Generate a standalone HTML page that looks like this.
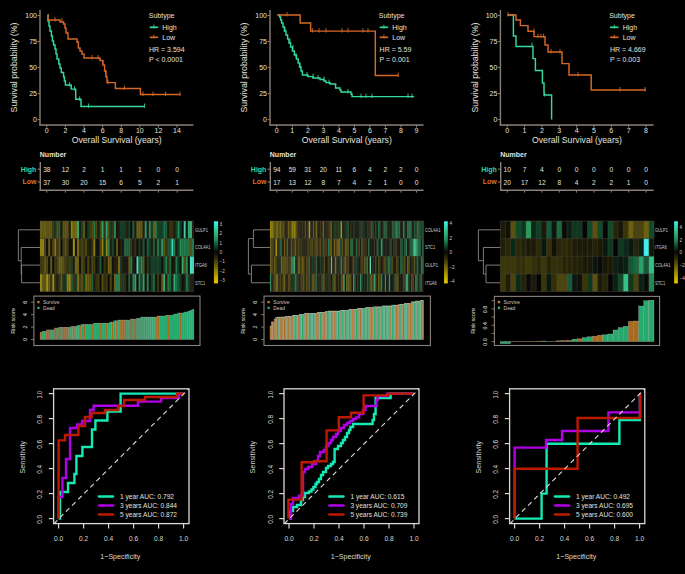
<!DOCTYPE html>
<html><head><meta charset="utf-8"><style>html,body{margin:0;padding:0;background:#000;width:685px;height:574px;overflow:hidden}svg{display:block}</style></head>
<body><svg width="685" height="574" viewBox="0 0 685 574" font-family='"Liberation Sans", sans-serif'><defs><linearGradient id="cb" x1="0" y1="0" x2="0" y2="1"><stop offset="0.000" stop-color="#40f0e8"/><stop offset="0.050" stop-color="#3be1cb"/><stop offset="0.100" stop-color="#37d2ae"/><stop offset="0.150" stop-color="#32c391"/><stop offset="0.200" stop-color="#2db17f"/><stop offset="0.250" stop-color="#289f6d"/><stop offset="0.300" stop-color="#218658"/><stop offset="0.350" stop-color="#186741"/><stop offset="0.400" stop-color="#0e482a"/><stop offset="0.450" stop-color="#0b2818"/><stop offset="0.500" stop-color="#080806"/><stop offset="0.550" stop-color="#1d1b07"/><stop offset="0.600" stop-color="#322d08"/><stop offset="0.650" stop-color="#4a4209"/><stop offset="0.700" stop-color="#62570a"/><stop offset="0.750" stop-color="#7a6c09"/><stop offset="0.800" stop-color="#928108"/><stop offset="0.850" stop-color="#aa9606"/><stop offset="0.900" stop-color="#c0a704"/><stop offset="0.950" stop-color="#d6b702"/><stop offset="1.000" stop-color="#ecc800"/></linearGradient></defs><rect width="685" height="574" fill="#000"/><line x1="40.0" y1="10" x2="40.0" y2="125.6" stroke="#8a807a" stroke-width="1.4"/><line x1="39.3" y1="125" x2="193.4" y2="125" stroke="#8a807a" stroke-width="1.4"/><line x1="37.6" y1="119.6" x2="40.0" y2="119.6" stroke="#8a807a" stroke-width="1.0"/><text x="37.0" y="122.1" font-size="7" fill="#e4e0dc" text-anchor="end">0</text><line x1="37.6" y1="93.57499999999999" x2="40.0" y2="93.57499999999999" stroke="#8a807a" stroke-width="1.0"/><text x="37.0" y="96.07499999999999" font-size="7" fill="#e4e0dc" text-anchor="end">25</text><line x1="37.6" y1="67.55" x2="40.0" y2="67.55" stroke="#8a807a" stroke-width="1.0"/><text x="37.0" y="70.05" font-size="7" fill="#e4e0dc" text-anchor="end">50</text><line x1="37.6" y1="41.525000000000006" x2="40.0" y2="41.525000000000006" stroke="#8a807a" stroke-width="1.0"/><text x="37.0" y="44.025000000000006" font-size="7" fill="#e4e0dc" text-anchor="end">75</text><line x1="37.6" y1="15.5" x2="40.0" y2="15.5" stroke="#8a807a" stroke-width="1.0"/><text x="37.0" y="18.0" font-size="7" fill="#e4e0dc" text-anchor="end">100</text><line x1="46.8" y1="125" x2="46.8" y2="127.6" stroke="#8a807a" stroke-width="1.0"/><text x="46.8" y="133.4" font-size="7" fill="#e4e0dc" text-anchor="middle">0</text><line x1="65.4" y1="125" x2="65.4" y2="127.6" stroke="#8a807a" stroke-width="1.0"/><text x="65.4" y="133.4" font-size="7" fill="#e4e0dc" text-anchor="middle">2</text><line x1="84.0" y1="125" x2="84.0" y2="127.6" stroke="#8a807a" stroke-width="1.0"/><text x="84.0" y="133.4" font-size="7" fill="#e4e0dc" text-anchor="middle">4</text><line x1="102.6" y1="125" x2="102.6" y2="127.6" stroke="#8a807a" stroke-width="1.0"/><text x="102.6" y="133.4" font-size="7" fill="#e4e0dc" text-anchor="middle">6</text><line x1="121.2" y1="125" x2="121.2" y2="127.6" stroke="#8a807a" stroke-width="1.0"/><text x="121.2" y="133.4" font-size="7" fill="#e4e0dc" text-anchor="middle">8</text><line x1="139.8" y1="125" x2="139.8" y2="127.6" stroke="#8a807a" stroke-width="1.0"/><text x="139.8" y="133.4" font-size="7" fill="#e4e0dc" text-anchor="middle">10</text><line x1="158.4" y1="125" x2="158.4" y2="127.6" stroke="#8a807a" stroke-width="1.0"/><text x="158.4" y="133.4" font-size="7" fill="#e4e0dc" text-anchor="middle">12</text><line x1="177.0" y1="125" x2="177.0" y2="127.6" stroke="#8a807a" stroke-width="1.0"/><text x="177.0" y="133.4" font-size="7" fill="#e4e0dc" text-anchor="middle">14</text><text x="116.7" y="142.6" font-size="8.7" fill="#e4e0dc" text-anchor="middle" textLength="90" lengthAdjust="spacingAndGlyphs">Overall Survival (years)</text><text x="17.4" y="67.5" font-size="8.7" fill="#e4e0dc" text-anchor="middle" transform="rotate(-90 17.4 67.5)" textLength="90" lengthAdjust="spacingAndGlyphs">Survival probability (%)</text><text x="148.8" y="17.9" font-size="7" fill="#e4e0dc" text-anchor="start">Subtype</text><line x1="149.7" y1="27.3" x2="158.1" y2="27.3" stroke="#34da9a" stroke-width="1.7"/><line x1="153.9" y1="24.7" x2="153.9" y2="28.5" stroke="#34da9a" stroke-width="0.9"/><text x="162.3" y="29.9" font-size="7" fill="#e4e0dc" text-anchor="start">High</text><line x1="149.7" y1="37.3" x2="158.1" y2="37.3" stroke="#d66826" stroke-width="1.7"/><line x1="153.9" y1="34.699999999999996" x2="153.9" y2="38.5" stroke="#d66826" stroke-width="0.9"/><text x="162.3" y="39.7" font-size="7" fill="#e4e0dc" text-anchor="start">Low</text><text x="149.0" y="51.9" font-size="7" fill="#e4e0dc" text-anchor="start">HR = 3.594</text><text x="149.0" y="61.9" font-size="7" fill="#e4e0dc" text-anchor="start">P &lt; 0.0001</text><line x1="40.3" y1="162" x2="40.3" y2="190.9" stroke="#8a807a" stroke-width="1.4"/><line x1="39.6" y1="190.3" x2="193.4" y2="190.3" stroke="#8a807a" stroke-width="1.4"/><text x="39.8" y="156.9" font-size="7" fill="#e4e0dc" text-anchor="start" font-weight="bold">Number</text><line x1="37.6" y1="169.2" x2="40.0" y2="169.2" stroke="#8a807a" stroke-width="1.0"/><text x="36.4" y="171.5" font-size="7" fill="#34da9a" text-anchor="end" font-weight="bold">High</text><text x="46.8" y="171.7" font-size="6.6" fill="#e4e0dc" text-anchor="middle">38</text><text x="65.4" y="171.7" font-size="6.6" fill="#e4e0dc" text-anchor="middle">12</text><text x="84.0" y="171.7" font-size="6.6" fill="#e4e0dc" text-anchor="middle">2</text><text x="102.6" y="171.7" font-size="6.6" fill="#e4e0dc" text-anchor="middle">1</text><text x="121.2" y="171.7" font-size="6.6" fill="#e4e0dc" text-anchor="middle">1</text><text x="139.8" y="171.7" font-size="6.6" fill="#e4e0dc" text-anchor="middle">1</text><text x="158.4" y="171.7" font-size="6.6" fill="#e4e0dc" text-anchor="middle">0</text><text x="177.0" y="171.7" font-size="6.6" fill="#e4e0dc" text-anchor="middle">0</text><line x1="37.6" y1="182.0" x2="40.0" y2="182.0" stroke="#8a807a" stroke-width="1.0"/><text x="36.4" y="184.3" font-size="7" fill="#d8742e" text-anchor="end" font-weight="bold">Low</text><text x="46.8" y="184.5" font-size="6.6" fill="#e4e0dc" text-anchor="middle">37</text><text x="65.4" y="184.5" font-size="6.6" fill="#e4e0dc" text-anchor="middle">30</text><text x="84.0" y="184.5" font-size="6.6" fill="#e4e0dc" text-anchor="middle">20</text><text x="102.6" y="184.5" font-size="6.6" fill="#e4e0dc" text-anchor="middle">15</text><text x="121.2" y="184.5" font-size="6.6" fill="#e4e0dc" text-anchor="middle">6</text><text x="139.8" y="184.5" font-size="6.6" fill="#e4e0dc" text-anchor="middle">5</text><text x="158.4" y="184.5" font-size="6.6" fill="#e4e0dc" text-anchor="middle">2</text><text x="177.0" y="184.5" font-size="6.6" fill="#e4e0dc" text-anchor="middle">1</text><line x1="46.8" y1="190.3" x2="46.8" y2="192.6" stroke="#8a807a" stroke-width="1.0"/><line x1="65.4" y1="190.3" x2="65.4" y2="192.6" stroke="#8a807a" stroke-width="1.0"/><line x1="84.0" y1="190.3" x2="84.0" y2="192.6" stroke="#8a807a" stroke-width="1.0"/><line x1="102.6" y1="190.3" x2="102.6" y2="192.6" stroke="#8a807a" stroke-width="1.0"/><line x1="121.2" y1="190.3" x2="121.2" y2="192.6" stroke="#8a807a" stroke-width="1.0"/><line x1="139.8" y1="190.3" x2="139.8" y2="192.6" stroke="#8a807a" stroke-width="1.0"/><line x1="158.4" y1="190.3" x2="158.4" y2="192.6" stroke="#8a807a" stroke-width="1.0"/><line x1="177.0" y1="190.3" x2="177.0" y2="192.6" stroke="#8a807a" stroke-width="1.0"/><line x1="270.0" y1="10" x2="270.0" y2="125.6" stroke="#8a807a" stroke-width="1.4"/><line x1="269.3" y1="125" x2="423.6" y2="125" stroke="#8a807a" stroke-width="1.4"/><line x1="267.6" y1="119.6" x2="270.0" y2="119.6" stroke="#8a807a" stroke-width="1.0"/><text x="267.0" y="122.1" font-size="7" fill="#e4e0dc" text-anchor="end">0</text><line x1="267.6" y1="93.57499999999999" x2="270.0" y2="93.57499999999999" stroke="#8a807a" stroke-width="1.0"/><text x="267.0" y="96.07499999999999" font-size="7" fill="#e4e0dc" text-anchor="end">25</text><line x1="267.6" y1="67.55" x2="270.0" y2="67.55" stroke="#8a807a" stroke-width="1.0"/><text x="267.0" y="70.05" font-size="7" fill="#e4e0dc" text-anchor="end">50</text><line x1="267.6" y1="41.525000000000006" x2="270.0" y2="41.525000000000006" stroke="#8a807a" stroke-width="1.0"/><text x="267.0" y="44.025000000000006" font-size="7" fill="#e4e0dc" text-anchor="end">75</text><line x1="267.6" y1="15.5" x2="270.0" y2="15.5" stroke="#8a807a" stroke-width="1.0"/><text x="267.0" y="18.0" font-size="7" fill="#e4e0dc" text-anchor="end">100</text><line x1="276.8" y1="125" x2="276.8" y2="127.6" stroke="#8a807a" stroke-width="1.0"/><text x="276.8" y="133.4" font-size="7" fill="#e4e0dc" text-anchor="middle">0</text><line x1="292.32" y1="125" x2="292.32" y2="127.6" stroke="#8a807a" stroke-width="1.0"/><text x="292.32" y="133.4" font-size="7" fill="#e4e0dc" text-anchor="middle">1</text><line x1="307.84000000000003" y1="125" x2="307.84000000000003" y2="127.6" stroke="#8a807a" stroke-width="1.0"/><text x="307.84000000000003" y="133.4" font-size="7" fill="#e4e0dc" text-anchor="middle">2</text><line x1="323.36" y1="125" x2="323.36" y2="127.6" stroke="#8a807a" stroke-width="1.0"/><text x="323.36" y="133.4" font-size="7" fill="#e4e0dc" text-anchor="middle">3</text><line x1="338.88" y1="125" x2="338.88" y2="127.6" stroke="#8a807a" stroke-width="1.0"/><text x="338.88" y="133.4" font-size="7" fill="#e4e0dc" text-anchor="middle">4</text><line x1="354.4" y1="125" x2="354.4" y2="127.6" stroke="#8a807a" stroke-width="1.0"/><text x="354.4" y="133.4" font-size="7" fill="#e4e0dc" text-anchor="middle">5</text><line x1="369.92" y1="125" x2="369.92" y2="127.6" stroke="#8a807a" stroke-width="1.0"/><text x="369.92" y="133.4" font-size="7" fill="#e4e0dc" text-anchor="middle">6</text><line x1="385.44" y1="125" x2="385.44" y2="127.6" stroke="#8a807a" stroke-width="1.0"/><text x="385.44" y="133.4" font-size="7" fill="#e4e0dc" text-anchor="middle">7</text><line x1="400.96000000000004" y1="125" x2="400.96000000000004" y2="127.6" stroke="#8a807a" stroke-width="1.0"/><text x="400.96000000000004" y="133.4" font-size="7" fill="#e4e0dc" text-anchor="middle">8</text><line x1="416.48" y1="125" x2="416.48" y2="127.6" stroke="#8a807a" stroke-width="1.0"/><text x="416.48" y="133.4" font-size="7" fill="#e4e0dc" text-anchor="middle">9</text><text x="346.8" y="142.6" font-size="8.7" fill="#e4e0dc" text-anchor="middle" textLength="90" lengthAdjust="spacingAndGlyphs">Overall Survival (years)</text><text x="247.4" y="67.5" font-size="8.7" fill="#e4e0dc" text-anchor="middle" transform="rotate(-90 247.4 67.5)" textLength="90" lengthAdjust="spacingAndGlyphs">Survival probability (%)</text><text x="378.8" y="17.9" font-size="7" fill="#e4e0dc" text-anchor="start">Subtype</text><line x1="379.7" y1="27.3" x2="388.1" y2="27.3" stroke="#34da9a" stroke-width="1.7"/><line x1="383.9" y1="24.7" x2="383.9" y2="28.5" stroke="#34da9a" stroke-width="0.9"/><text x="392.3" y="29.9" font-size="7" fill="#e4e0dc" text-anchor="start">High</text><line x1="379.7" y1="37.3" x2="388.1" y2="37.3" stroke="#d66826" stroke-width="1.7"/><line x1="383.9" y1="34.699999999999996" x2="383.9" y2="38.5" stroke="#d66826" stroke-width="0.9"/><text x="392.3" y="39.7" font-size="7" fill="#e4e0dc" text-anchor="start">Low</text><text x="379.6" y="51.9" font-size="7" fill="#e4e0dc" text-anchor="start">HR = 5.59</text><text x="379.6" y="61.9" font-size="7" fill="#e4e0dc" text-anchor="start">P = 0.001</text><line x1="270.3" y1="162" x2="270.3" y2="190.9" stroke="#8a807a" stroke-width="1.4"/><line x1="269.6" y1="190.3" x2="423.6" y2="190.3" stroke="#8a807a" stroke-width="1.4"/><text x="269.8" y="156.9" font-size="7" fill="#e4e0dc" text-anchor="start" font-weight="bold">Number</text><line x1="267.6" y1="169.2" x2="270.0" y2="169.2" stroke="#8a807a" stroke-width="1.0"/><text x="266.4" y="171.5" font-size="7" fill="#34da9a" text-anchor="end" font-weight="bold">High</text><text x="276.8" y="171.7" font-size="6.6" fill="#e4e0dc" text-anchor="middle">94</text><text x="292.32" y="171.7" font-size="6.6" fill="#e4e0dc" text-anchor="middle">59</text><text x="307.84000000000003" y="171.7" font-size="6.6" fill="#e4e0dc" text-anchor="middle">31</text><text x="323.36" y="171.7" font-size="6.6" fill="#e4e0dc" text-anchor="middle">20</text><text x="338.88" y="171.7" font-size="6.6" fill="#e4e0dc" text-anchor="middle">11</text><text x="354.4" y="171.7" font-size="6.6" fill="#e4e0dc" text-anchor="middle">6</text><text x="369.92" y="171.7" font-size="6.6" fill="#e4e0dc" text-anchor="middle">4</text><text x="385.44" y="171.7" font-size="6.6" fill="#e4e0dc" text-anchor="middle">2</text><text x="400.96000000000004" y="171.7" font-size="6.6" fill="#e4e0dc" text-anchor="middle">2</text><text x="416.48" y="171.7" font-size="6.6" fill="#e4e0dc" text-anchor="middle">0</text><line x1="267.6" y1="182.0" x2="270.0" y2="182.0" stroke="#8a807a" stroke-width="1.0"/><text x="266.4" y="184.3" font-size="7" fill="#d8742e" text-anchor="end" font-weight="bold">Low</text><text x="276.8" y="184.5" font-size="6.6" fill="#e4e0dc" text-anchor="middle">17</text><text x="292.32" y="184.5" font-size="6.6" fill="#e4e0dc" text-anchor="middle">13</text><text x="307.84000000000003" y="184.5" font-size="6.6" fill="#e4e0dc" text-anchor="middle">12</text><text x="323.36" y="184.5" font-size="6.6" fill="#e4e0dc" text-anchor="middle">8</text><text x="338.88" y="184.5" font-size="6.6" fill="#e4e0dc" text-anchor="middle">7</text><text x="354.4" y="184.5" font-size="6.6" fill="#e4e0dc" text-anchor="middle">4</text><text x="369.92" y="184.5" font-size="6.6" fill="#e4e0dc" text-anchor="middle">2</text><text x="385.44" y="184.5" font-size="6.6" fill="#e4e0dc" text-anchor="middle">1</text><text x="400.96000000000004" y="184.5" font-size="6.6" fill="#e4e0dc" text-anchor="middle">0</text><text x="416.48" y="184.5" font-size="6.6" fill="#e4e0dc" text-anchor="middle">0</text><line x1="276.8" y1="190.3" x2="276.8" y2="192.6" stroke="#8a807a" stroke-width="1.0"/><line x1="292.32" y1="190.3" x2="292.32" y2="192.6" stroke="#8a807a" stroke-width="1.0"/><line x1="307.84000000000003" y1="190.3" x2="307.84000000000003" y2="192.6" stroke="#8a807a" stroke-width="1.0"/><line x1="323.36" y1="190.3" x2="323.36" y2="192.6" stroke="#8a807a" stroke-width="1.0"/><line x1="338.88" y1="190.3" x2="338.88" y2="192.6" stroke="#8a807a" stroke-width="1.0"/><line x1="354.4" y1="190.3" x2="354.4" y2="192.6" stroke="#8a807a" stroke-width="1.0"/><line x1="369.92" y1="190.3" x2="369.92" y2="192.6" stroke="#8a807a" stroke-width="1.0"/><line x1="385.44" y1="190.3" x2="385.44" y2="192.6" stroke="#8a807a" stroke-width="1.0"/><line x1="400.96000000000004" y1="190.3" x2="400.96000000000004" y2="192.6" stroke="#8a807a" stroke-width="1.0"/><line x1="416.48" y1="190.3" x2="416.48" y2="192.6" stroke="#8a807a" stroke-width="1.0"/><line x1="500.4" y1="10" x2="500.4" y2="125.6" stroke="#8a807a" stroke-width="1.4"/><line x1="499.7" y1="125" x2="653.6" y2="125" stroke="#8a807a" stroke-width="1.4"/><line x1="498.0" y1="119.6" x2="500.4" y2="119.6" stroke="#8a807a" stroke-width="1.0"/><text x="497.4" y="122.1" font-size="7" fill="#e4e0dc" text-anchor="end">0</text><line x1="498.0" y1="93.57499999999999" x2="500.4" y2="93.57499999999999" stroke="#8a807a" stroke-width="1.0"/><text x="497.4" y="96.07499999999999" font-size="7" fill="#e4e0dc" text-anchor="end">25</text><line x1="498.0" y1="67.55" x2="500.4" y2="67.55" stroke="#8a807a" stroke-width="1.0"/><text x="497.4" y="70.05" font-size="7" fill="#e4e0dc" text-anchor="end">50</text><line x1="498.0" y1="41.525000000000006" x2="500.4" y2="41.525000000000006" stroke="#8a807a" stroke-width="1.0"/><text x="497.4" y="44.025000000000006" font-size="7" fill="#e4e0dc" text-anchor="end">75</text><line x1="498.0" y1="15.5" x2="500.4" y2="15.5" stroke="#8a807a" stroke-width="1.0"/><text x="497.4" y="18.0" font-size="7" fill="#e4e0dc" text-anchor="end">100</text><line x1="507.2" y1="125" x2="507.2" y2="127.6" stroke="#8a807a" stroke-width="1.0"/><text x="507.2" y="133.4" font-size="7" fill="#e4e0dc" text-anchor="middle">0</text><line x1="524.55" y1="125" x2="524.55" y2="127.6" stroke="#8a807a" stroke-width="1.0"/><text x="524.55" y="133.4" font-size="7" fill="#e4e0dc" text-anchor="middle">1</text><line x1="541.9" y1="125" x2="541.9" y2="127.6" stroke="#8a807a" stroke-width="1.0"/><text x="541.9" y="133.4" font-size="7" fill="#e4e0dc" text-anchor="middle">2</text><line x1="559.25" y1="125" x2="559.25" y2="127.6" stroke="#8a807a" stroke-width="1.0"/><text x="559.25" y="133.4" font-size="7" fill="#e4e0dc" text-anchor="middle">3</text><line x1="576.6" y1="125" x2="576.6" y2="127.6" stroke="#8a807a" stroke-width="1.0"/><text x="576.6" y="133.4" font-size="7" fill="#e4e0dc" text-anchor="middle">4</text><line x1="593.95" y1="125" x2="593.95" y2="127.6" stroke="#8a807a" stroke-width="1.0"/><text x="593.95" y="133.4" font-size="7" fill="#e4e0dc" text-anchor="middle">5</text><line x1="611.3" y1="125" x2="611.3" y2="127.6" stroke="#8a807a" stroke-width="1.0"/><text x="611.3" y="133.4" font-size="7" fill="#e4e0dc" text-anchor="middle">6</text><line x1="628.65" y1="125" x2="628.65" y2="127.6" stroke="#8a807a" stroke-width="1.0"/><text x="628.65" y="133.4" font-size="7" fill="#e4e0dc" text-anchor="middle">7</text><line x1="646.0" y1="125" x2="646.0" y2="127.6" stroke="#8a807a" stroke-width="1.0"/><text x="646.0" y="133.4" font-size="7" fill="#e4e0dc" text-anchor="middle">8</text><text x="577.0" y="142.6" font-size="8.7" fill="#e4e0dc" text-anchor="middle" textLength="90" lengthAdjust="spacingAndGlyphs">Overall Survival (years)</text><text x="477.79999999999995" y="67.5" font-size="8.7" fill="#e4e0dc" text-anchor="middle" transform="rotate(-90 477.79999999999995 67.5)" textLength="90" lengthAdjust="spacingAndGlyphs">Survival probability (%)</text><text x="609.1999999999999" y="17.9" font-size="7" fill="#e4e0dc" text-anchor="start">Subtype</text><line x1="610.1" y1="27.3" x2="618.5" y2="27.3" stroke="#34da9a" stroke-width="1.7"/><line x1="614.3" y1="24.7" x2="614.3" y2="28.5" stroke="#34da9a" stroke-width="0.9"/><text x="622.6999999999999" y="29.9" font-size="7" fill="#e4e0dc" text-anchor="start">High</text><line x1="610.1" y1="37.3" x2="618.5" y2="37.3" stroke="#d66826" stroke-width="1.7"/><line x1="614.3" y1="34.699999999999996" x2="614.3" y2="38.5" stroke="#d66826" stroke-width="0.9"/><text x="622.6999999999999" y="39.7" font-size="7" fill="#e4e0dc" text-anchor="start">Low</text><text x="610.0" y="51.9" font-size="7" fill="#e4e0dc" text-anchor="start">HR = 4.669</text><text x="610.0" y="61.9" font-size="7" fill="#e4e0dc" text-anchor="start">P = 0.003</text><line x1="500.7" y1="162" x2="500.7" y2="190.9" stroke="#8a807a" stroke-width="1.4"/><line x1="500.0" y1="190.3" x2="653.6" y2="190.3" stroke="#8a807a" stroke-width="1.4"/><text x="500.2" y="156.9" font-size="7" fill="#e4e0dc" text-anchor="start" font-weight="bold">Number</text><line x1="498.0" y1="169.2" x2="500.4" y2="169.2" stroke="#8a807a" stroke-width="1.0"/><text x="496.79999999999995" y="171.5" font-size="7" fill="#34da9a" text-anchor="end" font-weight="bold">High</text><text x="507.2" y="171.7" font-size="6.6" fill="#e4e0dc" text-anchor="middle">10</text><text x="524.55" y="171.7" font-size="6.6" fill="#e4e0dc" text-anchor="middle">7</text><text x="541.9" y="171.7" font-size="6.6" fill="#e4e0dc" text-anchor="middle">4</text><text x="559.25" y="171.7" font-size="6.6" fill="#e4e0dc" text-anchor="middle">0</text><text x="576.6" y="171.7" font-size="6.6" fill="#e4e0dc" text-anchor="middle">0</text><text x="593.95" y="171.7" font-size="6.6" fill="#e4e0dc" text-anchor="middle">0</text><text x="611.3" y="171.7" font-size="6.6" fill="#e4e0dc" text-anchor="middle">0</text><text x="628.65" y="171.7" font-size="6.6" fill="#e4e0dc" text-anchor="middle">0</text><text x="646.0" y="171.7" font-size="6.6" fill="#e4e0dc" text-anchor="middle">0</text><line x1="498.0" y1="182.0" x2="500.4" y2="182.0" stroke="#8a807a" stroke-width="1.0"/><text x="496.79999999999995" y="184.3" font-size="7" fill="#d8742e" text-anchor="end" font-weight="bold">Low</text><text x="507.2" y="184.5" font-size="6.6" fill="#e4e0dc" text-anchor="middle">20</text><text x="524.55" y="184.5" font-size="6.6" fill="#e4e0dc" text-anchor="middle">17</text><text x="541.9" y="184.5" font-size="6.6" fill="#e4e0dc" text-anchor="middle">12</text><text x="559.25" y="184.5" font-size="6.6" fill="#e4e0dc" text-anchor="middle">8</text><text x="576.6" y="184.5" font-size="6.6" fill="#e4e0dc" text-anchor="middle">4</text><text x="593.95" y="184.5" font-size="6.6" fill="#e4e0dc" text-anchor="middle">2</text><text x="611.3" y="184.5" font-size="6.6" fill="#e4e0dc" text-anchor="middle">2</text><text x="628.65" y="184.5" font-size="6.6" fill="#e4e0dc" text-anchor="middle">1</text><text x="646.0" y="184.5" font-size="6.6" fill="#e4e0dc" text-anchor="middle">0</text><line x1="507.2" y1="190.3" x2="507.2" y2="192.6" stroke="#8a807a" stroke-width="1.0"/><line x1="524.55" y1="190.3" x2="524.55" y2="192.6" stroke="#8a807a" stroke-width="1.0"/><line x1="541.9" y1="190.3" x2="541.9" y2="192.6" stroke="#8a807a" stroke-width="1.0"/><line x1="559.25" y1="190.3" x2="559.25" y2="192.6" stroke="#8a807a" stroke-width="1.0"/><line x1="576.6" y1="190.3" x2="576.6" y2="192.6" stroke="#8a807a" stroke-width="1.0"/><line x1="593.95" y1="190.3" x2="593.95" y2="192.6" stroke="#8a807a" stroke-width="1.0"/><line x1="611.3" y1="190.3" x2="611.3" y2="192.6" stroke="#8a807a" stroke-width="1.0"/><line x1="628.65" y1="190.3" x2="628.65" y2="192.6" stroke="#8a807a" stroke-width="1.0"/><line x1="646.0" y1="190.3" x2="646.0" y2="192.6" stroke="#8a807a" stroke-width="1.0"/><polyline points="47.60,15.00 48.00,15.00 48.00,21.00 49.00,21.00 49.00,26.00 50.00,26.00 50.00,31.00 51.40,31.00 51.40,36.00 52.40,36.00 52.40,41.00 53.60,41.00 53.60,45.00 55.00,45.00 55.00,49.00 56.00,49.00 56.00,54.00 57.00,54.00 57.00,59.00 58.80,59.00 58.80,64.00 60.00,64.00 60.00,68.00 61.30,68.00 61.30,72.50 63.60,72.50 63.60,77.00 64.40,77.00 64.40,81.00 65.40,81.00 65.40,85.00 71.20,85.00 71.20,89.10 75.70,89.10 75.70,99.30 81.00,99.30 81.00,106.40 144.60,106.40" fill="none" stroke="#34da9a" stroke-width="1.45" stroke-linejoin="miter"/><line x1="69.6" y1="82.1" x2="69.6" y2="86.5" stroke="#34da9a" stroke-width="0.9"/><line x1="74.4" y1="86.19999999999999" x2="74.4" y2="90.6" stroke="#34da9a" stroke-width="0.9"/><line x1="79.6" y1="96.39999999999999" x2="79.6" y2="100.8" stroke="#34da9a" stroke-width="0.9"/><line x1="88.6" y1="103.5" x2="88.6" y2="107.9" stroke="#34da9a" stroke-width="0.9"/><line x1="144.6" y1="103.5" x2="144.6" y2="107.9" stroke="#34da9a" stroke-width="0.9"/><polyline points="47.60,15.00 48.00,15.00 48.00,20.00 60.00,20.00 60.00,22.00 63.60,22.00 63.60,24.00 65.00,24.00 65.00,28.00 66.00,28.00 66.00,33.00 68.00,33.00 68.00,39.00 77.00,39.00 77.00,42.00 78.40,42.00 78.40,48.00 80.00,48.00 80.00,51.00 82.00,51.00 82.00,54.00 84.00,54.00 84.00,58.00 100.00,58.00 100.00,60.50 102.80,60.50 102.80,65.00 104.60,65.00 104.60,71.00 105.80,71.00 105.80,76.50 107.00,76.50 107.00,82.60 115.40,82.60 115.40,88.40 140.40,88.40 140.40,94.50 180.40,94.50" fill="none" stroke="#d66826" stroke-width="1.45" stroke-linejoin="miter"/><line x1="55" y1="17.1" x2="55" y2="21.5" stroke="#d66826" stroke-width="0.9"/><line x1="62" y1="18.1" x2="62" y2="22.5" stroke="#d66826" stroke-width="0.9"/><line x1="78.4" y1="43.1" x2="78.4" y2="47.5" stroke="#d66826" stroke-width="0.9"/><line x1="92" y1="55.1" x2="92" y2="59.5" stroke="#d66826" stroke-width="0.9"/><line x1="98" y1="55.1" x2="98" y2="59.5" stroke="#d66826" stroke-width="0.9"/><line x1="103" y1="60.1" x2="103" y2="64.5" stroke="#d66826" stroke-width="0.9"/><line x1="106" y1="70.1" x2="106" y2="74.5" stroke="#d66826" stroke-width="0.9"/><line x1="108" y1="79.69999999999999" x2="108" y2="84.1" stroke="#d66826" stroke-width="0.9"/><line x1="124.4" y1="85.5" x2="124.4" y2="89.9" stroke="#d66826" stroke-width="0.9"/><line x1="143" y1="91.6" x2="143" y2="96.0" stroke="#d66826" stroke-width="0.9"/><line x1="153" y1="91.6" x2="153" y2="96.0" stroke="#d66826" stroke-width="0.9"/><line x1="165.5" y1="91.6" x2="165.5" y2="96.0" stroke="#d66826" stroke-width="0.9"/><line x1="180" y1="91.6" x2="180" y2="96.0" stroke="#d66826" stroke-width="0.9"/><polyline points="277.60,15.00 279.60,15.00 279.60,17.00 280.60,17.00 280.60,20.00 281.60,20.00 281.60,23.00 283.00,23.00 283.00,27.00 284.40,27.00 284.40,31.00 286.00,31.00 286.00,35.00 287.60,35.00 287.60,39.00 289.00,39.00 289.00,43.00 290.60,43.00 290.60,47.00 292.40,47.00 292.40,51.00 294.40,51.00 294.40,55.00 296.40,55.00 296.40,59.00 298.20,59.00 298.20,63.00 299.60,63.00 299.60,67.00 301.00,67.00 301.00,71.00 302.40,71.00 302.40,75.00 308.00,75.00 308.00,76.60 313.00,76.60 313.00,78.00 320.00,78.00 320.00,79.40 324.00,79.40 324.00,81.00 326.00,81.00 326.00,82.60 330.00,82.60 330.00,84.00 335.60,84.00 335.60,88.00 340.00,88.00 340.00,90.00 341.00,90.00 341.00,92.00 351.00,92.00 351.00,94.00 352.00,94.00 352.00,96.60 414.00,96.60" fill="none" stroke="#34da9a" stroke-width="1.45" stroke-linejoin="miter"/><line x1="285" y1="27.1" x2="285" y2="31.5" stroke="#34da9a" stroke-width="0.9"/><line x1="290" y1="39.1" x2="290" y2="43.5" stroke="#34da9a" stroke-width="0.9"/><line x1="293" y1="45.1" x2="293" y2="49.5" stroke="#34da9a" stroke-width="0.9"/><line x1="296" y1="53.1" x2="296" y2="57.5" stroke="#34da9a" stroke-width="0.9"/><line x1="300" y1="63.1" x2="300" y2="67.5" stroke="#34da9a" stroke-width="0.9"/><line x1="307" y1="72.1" x2="307" y2="76.5" stroke="#34da9a" stroke-width="0.9"/><line x1="313" y1="73.69999999999999" x2="313" y2="78.1" stroke="#34da9a" stroke-width="0.9"/><line x1="318" y1="75.1" x2="318" y2="79.5" stroke="#34da9a" stroke-width="0.9"/><line x1="324" y1="76.5" x2="324" y2="80.9" stroke="#34da9a" stroke-width="0.9"/><line x1="329" y1="79.69999999999999" x2="329" y2="84.1" stroke="#34da9a" stroke-width="0.9"/><line x1="348" y1="89.1" x2="348" y2="93.5" stroke="#34da9a" stroke-width="0.9"/><line x1="361" y1="93.69999999999999" x2="361" y2="98.1" stroke="#34da9a" stroke-width="0.9"/><line x1="366" y1="93.69999999999999" x2="366" y2="98.1" stroke="#34da9a" stroke-width="0.9"/><line x1="372" y1="93.69999999999999" x2="372" y2="98.1" stroke="#34da9a" stroke-width="0.9"/><line x1="408" y1="93.69999999999999" x2="408" y2="98.1" stroke="#34da9a" stroke-width="0.9"/><line x1="412" y1="93.69999999999999" x2="412" y2="98.1" stroke="#34da9a" stroke-width="0.9"/><polyline points="277.60,15.00 300.10,15.00 300.10,23.00 310.60,23.00 310.60,31.10 375.30,31.10 375.30,75.50 398.60,75.50" fill="none" stroke="#d66826" stroke-width="1.45" stroke-linejoin="miter"/><line x1="287" y1="12.1" x2="287" y2="16.5" stroke="#d66826" stroke-width="0.9"/><line x1="312.4" y1="28.200000000000003" x2="312.4" y2="32.6" stroke="#d66826" stroke-width="0.9"/><line x1="319" y1="28.200000000000003" x2="319" y2="32.6" stroke="#d66826" stroke-width="0.9"/><line x1="326" y1="28.200000000000003" x2="326" y2="32.6" stroke="#d66826" stroke-width="0.9"/><line x1="342" y1="28.200000000000003" x2="342" y2="32.6" stroke="#d66826" stroke-width="0.9"/><line x1="348" y1="28.200000000000003" x2="348" y2="32.6" stroke="#d66826" stroke-width="0.9"/><line x1="363" y1="28.200000000000003" x2="363" y2="32.6" stroke="#d66826" stroke-width="0.9"/><line x1="368" y1="28.200000000000003" x2="368" y2="32.6" stroke="#d66826" stroke-width="0.9"/><line x1="398.2" y1="72.6" x2="398.2" y2="77.0" stroke="#d66826" stroke-width="0.9"/><polyline points="507.60,15.00 513.40,15.00 513.40,36.00 516.00,36.00 516.00,46.40 533.00,46.40 533.00,58.60 535.40,58.60 535.40,70.40 542.40,70.40 542.40,83.00 544.00,83.00 544.00,95.00 551.60,95.00 551.60,119.60" fill="none" stroke="#34da9a" stroke-width="1.45" stroke-linejoin="miter"/><line x1="532" y1="42.6" x2="532" y2="47.0" stroke="#34da9a" stroke-width="0.9"/><line x1="544.6" y1="92.1" x2="544.6" y2="96.5" stroke="#34da9a" stroke-width="0.9"/><polyline points="507.60,15.00 516.00,15.00 516.00,20.00 520.40,20.00 520.40,25.60 528.00,25.60 528.00,31.20 534.00,31.20 534.00,36.60 545.00,36.60 545.00,45.00 548.00,45.00 548.00,52.00 562.00,52.00 562.00,63.60 569.00,63.60 569.00,75.00 591.20,75.00 591.20,90.00 646.00,90.00" fill="none" stroke="#d66826" stroke-width="1.45" stroke-linejoin="miter"/><line x1="508" y1="12.1" x2="508" y2="16.5" stroke="#d66826" stroke-width="0.9"/><line x1="534" y1="28.3" x2="534" y2="32.7" stroke="#d66826" stroke-width="0.9"/><line x1="538" y1="33.7" x2="538" y2="38.1" stroke="#d66826" stroke-width="0.9"/><line x1="541" y1="33.7" x2="541" y2="38.1" stroke="#d66826" stroke-width="0.9"/><line x1="543.6" y1="33.7" x2="543.6" y2="38.1" stroke="#d66826" stroke-width="0.9"/><line x1="551" y1="49.1" x2="551" y2="53.5" stroke="#d66826" stroke-width="0.9"/><line x1="560" y1="49.1" x2="560" y2="53.5" stroke="#d66826" stroke-width="0.9"/><line x1="578" y1="72.1" x2="578" y2="76.5" stroke="#d66826" stroke-width="0.9"/><line x1="620" y1="87.1" x2="620" y2="91.5" stroke="#d66826" stroke-width="0.9"/><line x1="645" y1="87.1" x2="645" y2="91.5" stroke="#d66826" stroke-width="0.9"/><rect x="40.000" y="221.000" width="2.103" height="17.650" fill="#665d0f"/><rect x="42.053" y="221.000" width="2.103" height="17.650" fill="#63590f"/><rect x="44.107" y="221.000" width="2.103" height="17.650" fill="#6d6310"/><rect x="46.160" y="221.000" width="2.103" height="17.650" fill="#61580f"/><rect x="48.213" y="221.000" width="2.103" height="17.650" fill="#6b6110"/><rect x="50.267" y="221.000" width="2.103" height="17.650" fill="#675d10"/><rect x="52.320" y="221.000" width="2.103" height="17.650" fill="#403c0f"/><rect x="54.373" y="221.000" width="2.103" height="17.650" fill="#123e26"/><rect x="56.427" y="221.000" width="2.103" height="17.650" fill="#60570f"/><rect x="58.480" y="221.000" width="2.103" height="17.650" fill="#1c633d"/><rect x="60.533" y="221.000" width="2.103" height="17.650" fill="#1b1a0f"/><rect x="62.587" y="221.000" width="2.103" height="17.650" fill="#61580f"/><rect x="64.640" y="221.000" width="2.103" height="17.650" fill="#685f10"/><rect x="66.693" y="221.000" width="2.103" height="17.650" fill="#605511"/><rect x="68.747" y="221.000" width="2.103" height="17.650" fill="#1c1a0f"/><rect x="70.800" y="221.000" width="2.103" height="17.650" fill="#8e7f0f"/><rect x="72.853" y="221.000" width="2.103" height="17.650" fill="#6d6210"/><rect x="74.907" y="221.000" width="2.103" height="17.650" fill="#736911"/><rect x="76.960" y="221.000" width="2.103" height="17.650" fill="#31a772"/><rect x="79.013" y="221.000" width="2.103" height="17.650" fill="#1d1b10"/><rect x="81.067" y="221.000" width="2.103" height="17.650" fill="#14442a"/><rect x="83.120" y="221.000" width="2.103" height="17.650" fill="#60570f"/><rect x="85.173" y="221.000" width="2.103" height="17.650" fill="#10100d"/><rect x="87.227" y="221.000" width="2.103" height="17.650" fill="#113b24"/><rect x="89.280" y="221.000" width="2.103" height="17.650" fill="#413d0f"/><rect x="91.333" y="221.000" width="2.103" height="17.650" fill="#534a0f"/><rect x="93.387" y="221.000" width="2.103" height="17.650" fill="#237b4f"/><rect x="95.440" y="221.000" width="2.103" height="17.650" fill="#4a4611"/><rect x="97.493" y="221.000" width="2.103" height="17.650" fill="#1c1a0f"/><rect x="99.547" y="221.000" width="2.103" height="17.650" fill="#474310"/><rect x="101.600" y="221.000" width="2.103" height="17.650" fill="#31a973"/><rect x="103.653" y="221.000" width="2.103" height="17.650" fill="#373310"/><rect x="105.707" y="221.000" width="2.103" height="17.650" fill="#30a671"/><rect x="107.760" y="221.000" width="2.103" height="17.650" fill="#52490f"/><rect x="109.813" y="221.000" width="2.103" height="17.650" fill="#103923"/><rect x="111.867" y="221.000" width="2.103" height="17.650" fill="#35310f"/><rect x="113.920" y="221.000" width="2.103" height="17.650" fill="#258555"/><rect x="115.973" y="221.000" width="2.103" height="17.650" fill="#0f0f0c"/><rect x="118.027" y="221.000" width="2.103" height="17.650" fill="#1d1b0f"/><rect x="120.080" y="221.000" width="2.103" height="17.650" fill="#123f27"/><rect x="122.133" y="221.000" width="2.103" height="17.650" fill="#123d26"/><rect x="124.187" y="221.000" width="2.103" height="17.650" fill="#113c24"/><rect x="126.240" y="221.000" width="2.103" height="17.650" fill="#201e11"/><rect x="128.293" y="221.000" width="2.103" height="17.650" fill="#134028"/><rect x="130.347" y="221.000" width="2.103" height="17.650" fill="#0e0e0b"/><rect x="132.400" y="221.000" width="2.103" height="17.650" fill="#1c653f"/><rect x="134.453" y="221.000" width="2.103" height="17.650" fill="#1e1c10"/><rect x="136.507" y="221.000" width="2.103" height="17.650" fill="#726711"/><rect x="138.560" y="221.000" width="2.103" height="17.650" fill="#6f6411"/><rect x="140.613" y="221.000" width="2.103" height="17.650" fill="#665c0f"/><rect x="142.667" y="221.000" width="2.103" height="17.650" fill="#211f12"/><rect x="144.720" y="221.000" width="2.103" height="17.650" fill="#2c9767"/><rect x="146.773" y="221.000" width="2.103" height="17.650" fill="#1e1c10"/><rect x="148.827" y="221.000" width="2.103" height="17.650" fill="#268756"/><rect x="150.880" y="221.000" width="2.103" height="17.650" fill="#113a23"/><rect x="152.933" y="221.000" width="2.103" height="17.650" fill="#6a6010"/><rect x="154.987" y="221.000" width="2.103" height="17.650" fill="#21744a"/><rect x="157.040" y="221.000" width="2.103" height="17.650" fill="#134027"/><rect x="159.093" y="221.000" width="2.103" height="17.650" fill="#134128"/><rect x="161.147" y="221.000" width="2.103" height="17.650" fill="#123f27"/><rect x="163.200" y="221.000" width="2.103" height="17.650" fill="#1e6c43"/><rect x="165.253" y="221.000" width="2.103" height="17.650" fill="#1b603c"/><rect x="167.307" y="221.000" width="2.103" height="17.650" fill="#1f1d11"/><rect x="169.360" y="221.000" width="2.103" height="17.650" fill="#393510"/><rect x="171.413" y="221.000" width="2.103" height="17.650" fill="#393510"/><rect x="173.467" y="221.000" width="2.103" height="17.650" fill="#1e1c10"/><rect x="175.520" y="221.000" width="2.103" height="17.650" fill="#134229"/><rect x="177.573" y="221.000" width="2.103" height="17.650" fill="#278b59"/><rect x="179.627" y="221.000" width="2.103" height="17.650" fill="#123e26"/><rect x="181.680" y="221.000" width="2.103" height="17.650" fill="#0f0f0c"/><rect x="183.733" y="221.000" width="2.103" height="17.650" fill="#42cab1"/><rect x="185.787" y="221.000" width="2.103" height="17.650" fill="#10100c"/><rect x="187.840" y="221.000" width="2.103" height="17.650" fill="#31a973"/><rect x="189.893" y="221.000" width="2.103" height="17.650" fill="#35b47b"/><rect x="191.947" y="221.000" width="2.103" height="17.650" fill="#201e11"/><rect x="40.000" y="238.650" width="2.103" height="17.650" fill="#90800f"/><rect x="42.053" y="238.650" width="2.103" height="17.650" fill="#938310"/><rect x="44.107" y="238.650" width="2.103" height="17.650" fill="#484411"/><rect x="46.160" y="238.650" width="2.103" height="17.650" fill="#0e0e0b"/><rect x="48.213" y="238.650" width="2.103" height="17.650" fill="#695f10"/><rect x="50.267" y="238.650" width="2.103" height="17.650" fill="#1c1a0f"/><rect x="52.320" y="238.650" width="2.103" height="17.650" fill="#534a0f"/><rect x="54.373" y="238.650" width="2.103" height="17.650" fill="#897a0f"/><rect x="56.427" y="238.650" width="2.103" height="17.650" fill="#3b3711"/><rect x="58.480" y="238.650" width="2.103" height="17.650" fill="#62590f"/><rect x="60.533" y="238.650" width="2.103" height="17.650" fill="#0e0e0b"/><rect x="62.587" y="238.650" width="2.103" height="17.650" fill="#444110"/><rect x="64.640" y="238.650" width="2.103" height="17.650" fill="#615611"/><rect x="66.693" y="238.650" width="2.103" height="17.650" fill="#403c0f"/><rect x="68.747" y="238.650" width="2.103" height="17.650" fill="#0f0f0c"/><rect x="70.800" y="238.650" width="2.103" height="17.650" fill="#0f0f0c"/><rect x="72.853" y="238.650" width="2.103" height="17.650" fill="#a29011"/><rect x="74.907" y="238.650" width="2.103" height="17.650" fill="#10100d"/><rect x="76.960" y="238.650" width="2.103" height="17.650" fill="#726711"/><rect x="79.013" y="238.650" width="2.103" height="17.650" fill="#36320f"/><rect x="81.067" y="238.650" width="2.103" height="17.650" fill="#454110"/><rect x="83.120" y="238.650" width="2.103" height="17.650" fill="#363310"/><rect x="85.173" y="238.650" width="2.103" height="17.650" fill="#4b4711"/><rect x="87.227" y="238.650" width="2.103" height="17.650" fill="#211f11"/><rect x="89.280" y="238.650" width="2.103" height="17.650" fill="#1c1a0f"/><rect x="91.333" y="238.650" width="2.103" height="17.650" fill="#34310f"/><rect x="93.387" y="238.650" width="2.103" height="17.650" fill="#8e7f0f"/><rect x="95.440" y="238.650" width="2.103" height="17.650" fill="#0e0e0b"/><rect x="97.493" y="238.650" width="2.103" height="17.650" fill="#0f0f0c"/><rect x="99.547" y="238.650" width="2.103" height="17.650" fill="#474310"/><rect x="101.600" y="238.650" width="2.103" height="17.650" fill="#8f800f"/><rect x="103.653" y="238.650" width="2.103" height="17.650" fill="#103822"/><rect x="105.707" y="238.650" width="2.103" height="17.650" fill="#948410"/><rect x="107.760" y="238.650" width="2.103" height="17.650" fill="#237d50"/><rect x="109.813" y="238.650" width="2.103" height="17.650" fill="#1e1c10"/><rect x="111.867" y="238.650" width="2.103" height="17.650" fill="#144429"/><rect x="113.920" y="238.650" width="2.103" height="17.650" fill="#10100c"/><rect x="115.973" y="238.650" width="2.103" height="17.650" fill="#5a5010"/><rect x="118.027" y="238.650" width="2.103" height="17.650" fill="#0f0f0c"/><rect x="120.080" y="238.650" width="2.103" height="17.650" fill="#1f1d11"/><rect x="122.133" y="238.650" width="2.103" height="17.650" fill="#1b1a0f"/><rect x="124.187" y="238.650" width="2.103" height="17.650" fill="#1e6c43"/><rect x="126.240" y="238.650" width="2.103" height="17.650" fill="#1e6a41"/><rect x="128.293" y="238.650" width="2.103" height="17.650" fill="#1e6b43"/><rect x="130.347" y="238.650" width="2.103" height="17.650" fill="#3b3711"/><rect x="132.400" y="238.650" width="2.103" height="17.650" fill="#1d1b10"/><rect x="134.453" y="238.650" width="2.103" height="17.650" fill="#373310"/><rect x="136.507" y="238.650" width="2.103" height="17.650" fill="#0e0e0b"/><rect x="138.560" y="238.650" width="2.103" height="17.650" fill="#124027"/><rect x="140.613" y="238.650" width="2.103" height="17.650" fill="#1b1a0f"/><rect x="142.667" y="238.650" width="2.103" height="17.650" fill="#1a5b39"/><rect x="144.720" y="238.650" width="2.103" height="17.650" fill="#0e0e0b"/><rect x="146.773" y="238.650" width="2.103" height="17.650" fill="#1a5d3a"/><rect x="148.827" y="238.650" width="2.103" height="17.650" fill="#113c25"/><rect x="150.880" y="238.650" width="2.103" height="17.650" fill="#1b190f"/><rect x="152.933" y="238.650" width="2.103" height="17.650" fill="#195a38"/><rect x="154.987" y="238.650" width="2.103" height="17.650" fill="#1c1a0f"/><rect x="157.040" y="238.650" width="2.103" height="17.650" fill="#21764b"/><rect x="159.093" y="238.650" width="2.103" height="17.650" fill="#123c25"/><rect x="161.147" y="238.650" width="2.103" height="17.650" fill="#2b9465"/><rect x="163.200" y="238.650" width="2.103" height="17.650" fill="#615611"/><rect x="165.253" y="238.650" width="2.103" height="17.650" fill="#393510"/><rect x="167.307" y="238.650" width="2.103" height="17.650" fill="#1a5d3a"/><rect x="169.360" y="238.650" width="2.103" height="17.650" fill="#1b5f3b"/><rect x="171.413" y="238.650" width="2.103" height="17.650" fill="#46d7bc"/><rect x="173.467" y="238.650" width="2.103" height="17.650" fill="#237d50"/><rect x="175.520" y="238.650" width="2.103" height="17.650" fill="#1c1a0f"/><rect x="177.573" y="238.650" width="2.103" height="17.650" fill="#134229"/><rect x="179.627" y="238.650" width="2.103" height="17.650" fill="#288d5a"/><rect x="181.680" y="238.650" width="2.103" height="17.650" fill="#247f51"/><rect x="183.733" y="238.650" width="2.103" height="17.650" fill="#248052"/><rect x="185.787" y="238.650" width="2.103" height="17.650" fill="#21754b"/><rect x="187.840" y="238.650" width="2.103" height="17.650" fill="#21764b"/><rect x="189.893" y="238.650" width="2.103" height="17.650" fill="#574d0f"/><rect x="191.947" y="238.650" width="2.103" height="17.650" fill="#227a4e"/><rect x="40.000" y="256.300" width="2.103" height="17.650" fill="#3c3711"/><rect x="42.053" y="256.300" width="2.103" height="17.650" fill="#413e0f"/><rect x="44.107" y="256.300" width="2.103" height="17.650" fill="#60570e"/><rect x="46.160" y="256.300" width="2.103" height="17.650" fill="#4c4811"/><rect x="48.213" y="256.300" width="2.103" height="17.650" fill="#0f0f0c"/><rect x="50.267" y="256.300" width="2.103" height="17.650" fill="#63590f"/><rect x="52.320" y="256.300" width="2.103" height="17.650" fill="#0f0f0c"/><rect x="54.373" y="256.300" width="2.103" height="17.650" fill="#3f3c0e"/><rect x="56.427" y="256.300" width="2.103" height="17.650" fill="#464210"/><rect x="58.480" y="256.300" width="2.103" height="17.650" fill="#746912"/><rect x="60.533" y="256.300" width="2.103" height="17.650" fill="#726711"/><rect x="62.587" y="256.300" width="2.103" height="17.650" fill="#5e5311"/><rect x="64.640" y="256.300" width="2.103" height="17.650" fill="#433f0f"/><rect x="66.693" y="256.300" width="2.103" height="17.650" fill="#373310"/><rect x="68.747" y="256.300" width="2.103" height="17.650" fill="#413e0f"/><rect x="70.800" y="256.300" width="2.103" height="17.650" fill="#134128"/><rect x="72.853" y="256.300" width="2.103" height="17.650" fill="#1e1c10"/><rect x="74.907" y="256.300" width="2.103" height="17.650" fill="#706511"/><rect x="76.960" y="256.300" width="2.103" height="17.650" fill="#665d0f"/><rect x="79.013" y="256.300" width="2.103" height="17.650" fill="#0e0e0b"/><rect x="81.067" y="256.300" width="2.103" height="17.650" fill="#4a4611"/><rect x="83.120" y="256.300" width="2.103" height="17.650" fill="#3d3912"/><rect x="85.173" y="256.300" width="2.103" height="17.650" fill="#10100d"/><rect x="87.227" y="256.300" width="2.103" height="17.650" fill="#4a4611"/><rect x="89.280" y="256.300" width="2.103" height="17.650" fill="#201e11"/><rect x="91.333" y="256.300" width="2.103" height="17.650" fill="#494511"/><rect x="93.387" y="256.300" width="2.103" height="17.650" fill="#423e0f"/><rect x="95.440" y="256.300" width="2.103" height="17.650" fill="#0f0f0c"/><rect x="97.493" y="256.300" width="2.103" height="17.650" fill="#1d1b10"/><rect x="99.547" y="256.300" width="2.103" height="17.650" fill="#195b38"/><rect x="101.600" y="256.300" width="2.103" height="17.650" fill="#0e0e0b"/><rect x="103.653" y="256.300" width="2.103" height="17.650" fill="#36320f"/><rect x="105.707" y="256.300" width="2.103" height="17.650" fill="#1d1b0f"/><rect x="107.760" y="256.300" width="2.103" height="17.650" fill="#6e6411"/><rect x="109.813" y="256.300" width="2.103" height="17.650" fill="#625711"/><rect x="111.867" y="256.300" width="2.103" height="17.650" fill="#0f0f0c"/><rect x="113.920" y="256.300" width="2.103" height="17.650" fill="#211e11"/><rect x="115.973" y="256.300" width="2.103" height="17.650" fill="#211f12"/><rect x="118.027" y="256.300" width="2.103" height="17.650" fill="#746911"/><rect x="120.080" y="256.300" width="2.103" height="17.650" fill="#123c25"/><rect x="122.133" y="256.300" width="2.103" height="17.650" fill="#1c1a0f"/><rect x="124.187" y="256.300" width="2.103" height="17.650" fill="#1c1a0f"/><rect x="126.240" y="256.300" width="2.103" height="17.650" fill="#1c1a0f"/><rect x="128.293" y="256.300" width="2.103" height="17.650" fill="#645a0f"/><rect x="130.347" y="256.300" width="2.103" height="17.650" fill="#258354"/><rect x="132.400" y="256.300" width="2.103" height="17.650" fill="#201e11"/><rect x="134.453" y="256.300" width="2.103" height="17.650" fill="#10100d"/><rect x="136.507" y="256.300" width="2.103" height="17.650" fill="#48ddc1"/><rect x="138.560" y="256.300" width="2.103" height="17.650" fill="#1d6740"/><rect x="140.613" y="256.300" width="2.103" height="17.650" fill="#268857"/><rect x="142.667" y="256.300" width="2.103" height="17.650" fill="#61580f"/><rect x="144.720" y="256.300" width="2.103" height="17.650" fill="#0f0f0c"/><rect x="146.773" y="256.300" width="2.103" height="17.650" fill="#134329"/><rect x="148.827" y="256.300" width="2.103" height="17.650" fill="#201e11"/><rect x="150.880" y="256.300" width="2.103" height="17.650" fill="#134128"/><rect x="152.933" y="256.300" width="2.103" height="17.650" fill="#123e26"/><rect x="154.987" y="256.300" width="2.103" height="17.650" fill="#113a24"/><rect x="157.040" y="256.300" width="2.103" height="17.650" fill="#134228"/><rect x="159.093" y="256.300" width="2.103" height="17.650" fill="#113c25"/><rect x="161.147" y="256.300" width="2.103" height="17.650" fill="#10100d"/><rect x="163.200" y="256.300" width="2.103" height="17.650" fill="#14442a"/><rect x="165.253" y="256.300" width="2.103" height="17.650" fill="#237d50"/><rect x="167.307" y="256.300" width="2.103" height="17.650" fill="#373310"/><rect x="169.360" y="256.300" width="2.103" height="17.650" fill="#1f6d44"/><rect x="171.413" y="256.300" width="2.103" height="17.650" fill="#10100d"/><rect x="173.467" y="256.300" width="2.103" height="17.650" fill="#1c1a0f"/><rect x="175.520" y="256.300" width="2.103" height="17.650" fill="#21764c"/><rect x="177.573" y="256.300" width="2.103" height="17.650" fill="#113a23"/><rect x="179.627" y="256.300" width="2.103" height="17.650" fill="#10100d"/><rect x="181.680" y="256.300" width="2.103" height="17.650" fill="#33ae77"/><rect x="183.733" y="256.300" width="2.103" height="17.650" fill="#544a0f"/><rect x="185.787" y="256.300" width="2.103" height="17.650" fill="#268857"/><rect x="187.840" y="256.300" width="2.103" height="17.650" fill="#10100d"/><rect x="189.893" y="256.300" width="2.103" height="17.650" fill="#4ae5c8"/><rect x="191.947" y="256.300" width="2.103" height="17.650" fill="#46d7bc"/><rect x="40.000" y="273.950" width="2.103" height="17.650" fill="#978710"/><rect x="42.053" y="273.950" width="2.103" height="17.650" fill="#62590f"/><rect x="44.107" y="273.950" width="2.103" height="17.650" fill="#60570e"/><rect x="46.160" y="273.950" width="2.103" height="17.650" fill="#a49312"/><rect x="48.213" y="273.950" width="2.103" height="17.650" fill="#6d6310"/><rect x="50.267" y="273.950" width="2.103" height="17.650" fill="#383410"/><rect x="52.320" y="273.950" width="2.103" height="17.650" fill="#a39211"/><rect x="54.373" y="273.950" width="2.103" height="17.650" fill="#373310"/><rect x="56.427" y="273.950" width="2.103" height="17.650" fill="#201e11"/><rect x="58.480" y="273.950" width="2.103" height="17.650" fill="#3c3711"/><rect x="60.533" y="273.950" width="2.103" height="17.650" fill="#645a0f"/><rect x="62.587" y="273.950" width="2.103" height="17.650" fill="#113b24"/><rect x="64.640" y="273.950" width="2.103" height="17.650" fill="#113b24"/><rect x="66.693" y="273.950" width="2.103" height="17.650" fill="#8e7f0f"/><rect x="68.747" y="273.950" width="2.103" height="17.650" fill="#998810"/><rect x="70.800" y="273.950" width="2.103" height="17.650" fill="#1b5f3b"/><rect x="72.853" y="273.950" width="2.103" height="17.650" fill="#373310"/><rect x="74.907" y="273.950" width="2.103" height="17.650" fill="#113923"/><rect x="76.960" y="273.950" width="2.103" height="17.650" fill="#736811"/><rect x="79.013" y="273.950" width="2.103" height="17.650" fill="#444010"/><rect x="81.067" y="273.950" width="2.103" height="17.650" fill="#594f10"/><rect x="83.120" y="273.950" width="2.103" height="17.650" fill="#123f27"/><rect x="85.173" y="273.950" width="2.103" height="17.650" fill="#736811"/><rect x="87.227" y="273.950" width="2.103" height="17.650" fill="#685e10"/><rect x="89.280" y="273.950" width="2.103" height="17.650" fill="#625711"/><rect x="91.333" y="273.950" width="2.103" height="17.650" fill="#1c643e"/><rect x="93.387" y="273.950" width="2.103" height="17.650" fill="#1e1c10"/><rect x="95.440" y="273.950" width="2.103" height="17.650" fill="#383410"/><rect x="97.493" y="273.950" width="2.103" height="17.650" fill="#3f3c0e"/><rect x="99.547" y="273.950" width="2.103" height="17.650" fill="#0f0f0c"/><rect x="101.600" y="273.950" width="2.103" height="17.650" fill="#544b0f"/><rect x="103.653" y="273.950" width="2.103" height="17.650" fill="#322f0e"/><rect x="105.707" y="273.950" width="2.103" height="17.650" fill="#3b3711"/><rect x="107.760" y="273.950" width="2.103" height="17.650" fill="#0e0e0b"/><rect x="109.813" y="273.950" width="2.103" height="17.650" fill="#464210"/><rect x="111.867" y="273.950" width="2.103" height="17.650" fill="#10100d"/><rect x="113.920" y="273.950" width="2.103" height="17.650" fill="#6b6110"/><rect x="115.973" y="273.950" width="2.103" height="17.650" fill="#237c4f"/><rect x="118.027" y="273.950" width="2.103" height="17.650" fill="#248052"/><rect x="120.080" y="273.950" width="2.103" height="17.650" fill="#393510"/><rect x="122.133" y="273.950" width="2.103" height="17.650" fill="#134228"/><rect x="124.187" y="273.950" width="2.103" height="17.650" fill="#34300f"/><rect x="126.240" y="273.950" width="2.103" height="17.650" fill="#0f0f0c"/><rect x="128.293" y="273.950" width="2.103" height="17.650" fill="#1b5f3b"/><rect x="130.347" y="273.950" width="2.103" height="17.650" fill="#1d1b0f"/><rect x="132.400" y="273.950" width="2.103" height="17.650" fill="#268756"/><rect x="134.453" y="273.950" width="2.103" height="17.650" fill="#30a470"/><rect x="136.507" y="273.950" width="2.103" height="17.650" fill="#0f0f0c"/><rect x="138.560" y="273.950" width="2.103" height="17.650" fill="#268756"/><rect x="140.613" y="273.950" width="2.103" height="17.650" fill="#134329"/><rect x="142.667" y="273.950" width="2.103" height="17.650" fill="#2fa26f"/><rect x="144.720" y="273.950" width="2.103" height="17.650" fill="#0f0f0c"/><rect x="146.773" y="273.950" width="2.103" height="17.650" fill="#248052"/><rect x="148.827" y="273.950" width="2.103" height="17.650" fill="#0f0f0c"/><rect x="150.880" y="273.950" width="2.103" height="17.650" fill="#134027"/><rect x="152.933" y="273.950" width="2.103" height="17.650" fill="#1c633d"/><rect x="154.987" y="273.950" width="2.103" height="17.650" fill="#0f0f0c"/><rect x="157.040" y="273.950" width="2.103" height="17.650" fill="#383410"/><rect x="159.093" y="273.950" width="2.103" height="17.650" fill="#10100d"/><rect x="161.147" y="273.950" width="2.103" height="17.650" fill="#5e5311"/><rect x="163.200" y="273.950" width="2.103" height="17.650" fill="#34b078"/><rect x="165.253" y="273.950" width="2.103" height="17.650" fill="#211e11"/><rect x="167.307" y="273.950" width="2.103" height="17.650" fill="#227a4e"/><rect x="169.360" y="273.950" width="2.103" height="17.650" fill="#1c653f"/><rect x="171.413" y="273.950" width="2.103" height="17.650" fill="#211e11"/><rect x="173.467" y="273.950" width="2.103" height="17.650" fill="#33af78"/><rect x="175.520" y="273.950" width="2.103" height="17.650" fill="#21774c"/><rect x="177.573" y="273.950" width="2.103" height="17.650" fill="#1a5c39"/><rect x="179.627" y="273.950" width="2.103" height="17.650" fill="#123d26"/><rect x="181.680" y="273.950" width="2.103" height="17.650" fill="#0e0e0b"/><rect x="183.733" y="273.950" width="2.103" height="17.650" fill="#1c1b0f"/><rect x="185.787" y="273.950" width="2.103" height="17.650" fill="#21754b"/><rect x="187.840" y="273.950" width="2.103" height="17.650" fill="#134027"/><rect x="189.893" y="273.950" width="2.103" height="17.650" fill="#201e11"/><rect x="191.947" y="273.950" width="2.103" height="17.650" fill="#201e11"/><line x1="40.000" y1="221.0" x2="40.000" y2="291.6" stroke="#7a6a56" stroke-width="0.3" stroke-opacity="0.35"/><line x1="42.053" y1="221.0" x2="42.053" y2="291.6" stroke="#7a6a56" stroke-width="0.3" stroke-opacity="0.35"/><line x1="44.107" y1="221.0" x2="44.107" y2="291.6" stroke="#7a6a56" stroke-width="0.3" stroke-opacity="0.35"/><line x1="46.160" y1="221.0" x2="46.160" y2="291.6" stroke="#7a6a56" stroke-width="0.3" stroke-opacity="0.35"/><line x1="48.213" y1="221.0" x2="48.213" y2="291.6" stroke="#7a6a56" stroke-width="0.3" stroke-opacity="0.35"/><line x1="50.267" y1="221.0" x2="50.267" y2="291.6" stroke="#7a6a56" stroke-width="0.3" stroke-opacity="0.35"/><line x1="52.320" y1="221.0" x2="52.320" y2="291.6" stroke="#7a6a56" stroke-width="0.3" stroke-opacity="0.35"/><line x1="54.373" y1="221.0" x2="54.373" y2="291.6" stroke="#7a6a56" stroke-width="0.3" stroke-opacity="0.35"/><line x1="56.427" y1="221.0" x2="56.427" y2="291.6" stroke="#7a6a56" stroke-width="0.3" stroke-opacity="0.35"/><line x1="58.480" y1="221.0" x2="58.480" y2="291.6" stroke="#7a6a56" stroke-width="0.3" stroke-opacity="0.35"/><line x1="60.533" y1="221.0" x2="60.533" y2="291.6" stroke="#7a6a56" stroke-width="0.3" stroke-opacity="0.35"/><line x1="62.587" y1="221.0" x2="62.587" y2="291.6" stroke="#7a6a56" stroke-width="0.3" stroke-opacity="0.35"/><line x1="64.640" y1="221.0" x2="64.640" y2="291.6" stroke="#7a6a56" stroke-width="0.3" stroke-opacity="0.35"/><line x1="66.693" y1="221.0" x2="66.693" y2="291.6" stroke="#7a6a56" stroke-width="0.3" stroke-opacity="0.35"/><line x1="68.747" y1="221.0" x2="68.747" y2="291.6" stroke="#7a6a56" stroke-width="0.3" stroke-opacity="0.35"/><line x1="70.800" y1="221.0" x2="70.800" y2="291.6" stroke="#7a6a56" stroke-width="0.3" stroke-opacity="0.35"/><line x1="72.853" y1="221.0" x2="72.853" y2="291.6" stroke="#7a6a56" stroke-width="0.3" stroke-opacity="0.35"/><line x1="74.907" y1="221.0" x2="74.907" y2="291.6" stroke="#7a6a56" stroke-width="0.3" stroke-opacity="0.35"/><line x1="76.960" y1="221.0" x2="76.960" y2="291.6" stroke="#7a6a56" stroke-width="0.3" stroke-opacity="0.35"/><line x1="79.013" y1="221.0" x2="79.013" y2="291.6" stroke="#7a6a56" stroke-width="0.3" stroke-opacity="0.35"/><line x1="81.067" y1="221.0" x2="81.067" y2="291.6" stroke="#7a6a56" stroke-width="0.3" stroke-opacity="0.35"/><line x1="83.120" y1="221.0" x2="83.120" y2="291.6" stroke="#7a6a56" stroke-width="0.3" stroke-opacity="0.35"/><line x1="85.173" y1="221.0" x2="85.173" y2="291.6" stroke="#7a6a56" stroke-width="0.3" stroke-opacity="0.35"/><line x1="87.227" y1="221.0" x2="87.227" y2="291.6" stroke="#7a6a56" stroke-width="0.3" stroke-opacity="0.35"/><line x1="89.280" y1="221.0" x2="89.280" y2="291.6" stroke="#7a6a56" stroke-width="0.3" stroke-opacity="0.35"/><line x1="91.333" y1="221.0" x2="91.333" y2="291.6" stroke="#7a6a56" stroke-width="0.3" stroke-opacity="0.35"/><line x1="93.387" y1="221.0" x2="93.387" y2="291.6" stroke="#7a6a56" stroke-width="0.3" stroke-opacity="0.35"/><line x1="95.440" y1="221.0" x2="95.440" y2="291.6" stroke="#7a6a56" stroke-width="0.3" stroke-opacity="0.35"/><line x1="97.493" y1="221.0" x2="97.493" y2="291.6" stroke="#7a6a56" stroke-width="0.3" stroke-opacity="0.35"/><line x1="99.547" y1="221.0" x2="99.547" y2="291.6" stroke="#7a6a56" stroke-width="0.3" stroke-opacity="0.35"/><line x1="101.600" y1="221.0" x2="101.600" y2="291.6" stroke="#7a6a56" stroke-width="0.3" stroke-opacity="0.35"/><line x1="103.653" y1="221.0" x2="103.653" y2="291.6" stroke="#7a6a56" stroke-width="0.3" stroke-opacity="0.35"/><line x1="105.707" y1="221.0" x2="105.707" y2="291.6" stroke="#7a6a56" stroke-width="0.3" stroke-opacity="0.35"/><line x1="107.760" y1="221.0" x2="107.760" y2="291.6" stroke="#7a6a56" stroke-width="0.3" stroke-opacity="0.35"/><line x1="109.813" y1="221.0" x2="109.813" y2="291.6" stroke="#7a6a56" stroke-width="0.3" stroke-opacity="0.35"/><line x1="111.867" y1="221.0" x2="111.867" y2="291.6" stroke="#7a6a56" stroke-width="0.3" stroke-opacity="0.35"/><line x1="113.920" y1="221.0" x2="113.920" y2="291.6" stroke="#7a6a56" stroke-width="0.3" stroke-opacity="0.35"/><line x1="115.973" y1="221.0" x2="115.973" y2="291.6" stroke="#7a6a56" stroke-width="0.3" stroke-opacity="0.35"/><line x1="118.027" y1="221.0" x2="118.027" y2="291.6" stroke="#7a6a56" stroke-width="0.3" stroke-opacity="0.35"/><line x1="120.080" y1="221.0" x2="120.080" y2="291.6" stroke="#7a6a56" stroke-width="0.3" stroke-opacity="0.35"/><line x1="122.133" y1="221.0" x2="122.133" y2="291.6" stroke="#7a6a56" stroke-width="0.3" stroke-opacity="0.35"/><line x1="124.187" y1="221.0" x2="124.187" y2="291.6" stroke="#7a6a56" stroke-width="0.3" stroke-opacity="0.35"/><line x1="126.240" y1="221.0" x2="126.240" y2="291.6" stroke="#7a6a56" stroke-width="0.3" stroke-opacity="0.35"/><line x1="128.293" y1="221.0" x2="128.293" y2="291.6" stroke="#7a6a56" stroke-width="0.3" stroke-opacity="0.35"/><line x1="130.347" y1="221.0" x2="130.347" y2="291.6" stroke="#7a6a56" stroke-width="0.3" stroke-opacity="0.35"/><line x1="132.400" y1="221.0" x2="132.400" y2="291.6" stroke="#7a6a56" stroke-width="0.3" stroke-opacity="0.35"/><line x1="134.453" y1="221.0" x2="134.453" y2="291.6" stroke="#7a6a56" stroke-width="0.3" stroke-opacity="0.35"/><line x1="136.507" y1="221.0" x2="136.507" y2="291.6" stroke="#7a6a56" stroke-width="0.3" stroke-opacity="0.35"/><line x1="138.560" y1="221.0" x2="138.560" y2="291.6" stroke="#7a6a56" stroke-width="0.3" stroke-opacity="0.35"/><line x1="140.613" y1="221.0" x2="140.613" y2="291.6" stroke="#7a6a56" stroke-width="0.3" stroke-opacity="0.35"/><line x1="142.667" y1="221.0" x2="142.667" y2="291.6" stroke="#7a6a56" stroke-width="0.3" stroke-opacity="0.35"/><line x1="144.720" y1="221.0" x2="144.720" y2="291.6" stroke="#7a6a56" stroke-width="0.3" stroke-opacity="0.35"/><line x1="146.773" y1="221.0" x2="146.773" y2="291.6" stroke="#7a6a56" stroke-width="0.3" stroke-opacity="0.35"/><line x1="148.827" y1="221.0" x2="148.827" y2="291.6" stroke="#7a6a56" stroke-width="0.3" stroke-opacity="0.35"/><line x1="150.880" y1="221.0" x2="150.880" y2="291.6" stroke="#7a6a56" stroke-width="0.3" stroke-opacity="0.35"/><line x1="152.933" y1="221.0" x2="152.933" y2="291.6" stroke="#7a6a56" stroke-width="0.3" stroke-opacity="0.35"/><line x1="154.987" y1="221.0" x2="154.987" y2="291.6" stroke="#7a6a56" stroke-width="0.3" stroke-opacity="0.35"/><line x1="157.040" y1="221.0" x2="157.040" y2="291.6" stroke="#7a6a56" stroke-width="0.3" stroke-opacity="0.35"/><line x1="159.093" y1="221.0" x2="159.093" y2="291.6" stroke="#7a6a56" stroke-width="0.3" stroke-opacity="0.35"/><line x1="161.147" y1="221.0" x2="161.147" y2="291.6" stroke="#7a6a56" stroke-width="0.3" stroke-opacity="0.35"/><line x1="163.200" y1="221.0" x2="163.200" y2="291.6" stroke="#7a6a56" stroke-width="0.3" stroke-opacity="0.35"/><line x1="165.253" y1="221.0" x2="165.253" y2="291.6" stroke="#7a6a56" stroke-width="0.3" stroke-opacity="0.35"/><line x1="167.307" y1="221.0" x2="167.307" y2="291.6" stroke="#7a6a56" stroke-width="0.3" stroke-opacity="0.35"/><line x1="169.360" y1="221.0" x2="169.360" y2="291.6" stroke="#7a6a56" stroke-width="0.3" stroke-opacity="0.35"/><line x1="171.413" y1="221.0" x2="171.413" y2="291.6" stroke="#7a6a56" stroke-width="0.3" stroke-opacity="0.35"/><line x1="173.467" y1="221.0" x2="173.467" y2="291.6" stroke="#7a6a56" stroke-width="0.3" stroke-opacity="0.35"/><line x1="175.520" y1="221.0" x2="175.520" y2="291.6" stroke="#7a6a56" stroke-width="0.3" stroke-opacity="0.35"/><line x1="177.573" y1="221.0" x2="177.573" y2="291.6" stroke="#7a6a56" stroke-width="0.3" stroke-opacity="0.35"/><line x1="179.627" y1="221.0" x2="179.627" y2="291.6" stroke="#7a6a56" stroke-width="0.3" stroke-opacity="0.35"/><line x1="181.680" y1="221.0" x2="181.680" y2="291.6" stroke="#7a6a56" stroke-width="0.3" stroke-opacity="0.35"/><line x1="183.733" y1="221.0" x2="183.733" y2="291.6" stroke="#7a6a56" stroke-width="0.3" stroke-opacity="0.35"/><line x1="185.787" y1="221.0" x2="185.787" y2="291.6" stroke="#7a6a56" stroke-width="0.3" stroke-opacity="0.35"/><line x1="187.840" y1="221.0" x2="187.840" y2="291.6" stroke="#7a6a56" stroke-width="0.3" stroke-opacity="0.35"/><line x1="189.893" y1="221.0" x2="189.893" y2="291.6" stroke="#7a6a56" stroke-width="0.3" stroke-opacity="0.35"/><line x1="191.947" y1="221.0" x2="191.947" y2="291.6" stroke="#7a6a56" stroke-width="0.3" stroke-opacity="0.35"/><line x1="194.000" y1="221.0" x2="194.000" y2="291.6" stroke="#7a6a56" stroke-width="0.3" stroke-opacity="0.35"/><line x1="40.0" y1="221.000" x2="194.0" y2="221.000" stroke="#4e463c" stroke-width="0.5"/><line x1="40.0" y1="238.650" x2="194.0" y2="238.650" stroke="#4e463c" stroke-width="0.5"/><line x1="40.0" y1="256.300" x2="194.0" y2="256.300" stroke="#4e463c" stroke-width="0.5"/><line x1="40.0" y1="273.950" x2="194.0" y2="273.950" stroke="#4e463c" stroke-width="0.5"/><line x1="40.0" y1="291.600" x2="194.0" y2="291.600" stroke="#4e463c" stroke-width="0.5"/><rect x="270.000" y="221.000" width="1.434" height="17.650" fill="#9a8a0f"/><rect x="271.384" y="221.000" width="1.434" height="17.650" fill="#ac9a11"/><rect x="272.768" y="221.000" width="1.434" height="17.650" fill="#6d6319"/><rect x="274.151" y="221.000" width="1.434" height="17.650" fill="#625916"/><rect x="275.535" y="221.000" width="1.434" height="17.650" fill="#72671a"/><rect x="276.919" y="221.000" width="1.434" height="17.650" fill="#74691a"/><rect x="278.303" y="221.000" width="1.434" height="17.650" fill="#645b17"/><rect x="279.686" y="221.000" width="1.434" height="17.650" fill="#74691a"/><rect x="281.070" y="221.000" width="1.434" height="17.650" fill="#504819"/><rect x="282.454" y="221.000" width="1.434" height="17.650" fill="#6a6018"/><rect x="283.838" y="221.000" width="1.434" height="17.650" fill="#403923"/><rect x="285.222" y="221.000" width="1.434" height="17.650" fill="#2b291c"/><rect x="286.605" y="221.000" width="1.434" height="17.650" fill="#36301e"/><rect x="287.989" y="221.000" width="1.434" height="17.650" fill="#695f18"/><rect x="289.373" y="221.000" width="1.434" height="17.650" fill="#524a1a"/><rect x="290.757" y="221.000" width="1.434" height="17.650" fill="#675d17"/><rect x="292.141" y="221.000" width="1.434" height="17.650" fill="#9b8b0f"/><rect x="293.524" y="221.000" width="1.434" height="17.650" fill="#9f8f0f"/><rect x="294.908" y="221.000" width="1.434" height="17.650" fill="#6f6419"/><rect x="296.292" y="221.000" width="1.434" height="17.650" fill="#605716"/><rect x="297.676" y="221.000" width="1.434" height="17.650" fill="#28261a"/><rect x="299.059" y="221.000" width="1.434" height="17.650" fill="#393320"/><rect x="300.443" y="221.000" width="1.434" height="17.650" fill="#242217"/><rect x="301.827" y="221.000" width="1.434" height="17.650" fill="#38321f"/><rect x="303.211" y="221.000" width="1.434" height="17.650" fill="#29271b"/><rect x="304.595" y="221.000" width="1.434" height="17.650" fill="#524a1a"/><rect x="305.978" y="221.000" width="1.434" height="17.650" fill="#252318"/><rect x="307.362" y="221.000" width="1.434" height="17.650" fill="#403923"/><rect x="308.746" y="221.000" width="1.434" height="17.650" fill="#af9d11"/><rect x="310.130" y="221.000" width="1.434" height="17.650" fill="#3f3923"/><rect x="311.514" y="221.000" width="1.434" height="17.650" fill="#252318"/><rect x="312.897" y="221.000" width="1.434" height="17.650" fill="#655b17"/><rect x="314.281" y="221.000" width="1.434" height="17.650" fill="#352f1d"/><rect x="315.665" y="221.000" width="1.434" height="17.650" fill="#706519"/><rect x="317.049" y="221.000" width="1.434" height="17.650" fill="#37321f"/><rect x="318.432" y="221.000" width="1.434" height="17.650" fill="#252318"/><rect x="319.816" y="221.000" width="1.434" height="17.650" fill="#393320"/><rect x="321.200" y="221.000" width="1.434" height="17.650" fill="#2b291c"/><rect x="322.584" y="221.000" width="1.434" height="17.650" fill="#71661a"/><rect x="323.968" y="221.000" width="1.434" height="17.650" fill="#262419"/><rect x="325.351" y="221.000" width="1.434" height="17.650" fill="#36301e"/><rect x="326.735" y="221.000" width="1.434" height="17.650" fill="#2b291c"/><rect x="328.119" y="221.000" width="1.434" height="17.650" fill="#3b3520"/><rect x="329.503" y="221.000" width="1.434" height="17.650" fill="#554d1b"/><rect x="330.886" y="221.000" width="1.434" height="17.650" fill="#615816"/><rect x="332.270" y="221.000" width="1.434" height="17.650" fill="#242318"/><rect x="333.654" y="221.000" width="1.434" height="17.650" fill="#1b3e27"/><rect x="335.038" y="221.000" width="1.434" height="17.650" fill="#393320"/><rect x="336.422" y="221.000" width="1.434" height="17.650" fill="#35301d"/><rect x="337.805" y="221.000" width="1.434" height="17.650" fill="#1c4129"/><rect x="339.189" y="221.000" width="1.434" height="17.650" fill="#1b3e27"/><rect x="340.573" y="221.000" width="1.434" height="17.650" fill="#af9d11"/><rect x="341.957" y="221.000" width="1.434" height="17.650" fill="#252318"/><rect x="343.341" y="221.000" width="1.434" height="17.650" fill="#2b291c"/><rect x="344.724" y="221.000" width="1.434" height="17.650" fill="#183723"/><rect x="346.108" y="221.000" width="1.434" height="17.650" fill="#1c4029"/><rect x="347.492" y="221.000" width="1.434" height="17.650" fill="#28613f"/><rect x="348.876" y="221.000" width="1.434" height="17.650" fill="#171711"/><rect x="350.259" y="221.000" width="1.434" height="17.650" fill="#3b3520"/><rect x="351.643" y="221.000" width="1.434" height="17.650" fill="#1a1a14"/><rect x="353.027" y="221.000" width="1.434" height="17.650" fill="#37321f"/><rect x="354.411" y="221.000" width="1.434" height="17.650" fill="#183823"/><rect x="355.795" y="221.000" width="1.434" height="17.650" fill="#181812"/><rect x="357.178" y="221.000" width="1.434" height="17.650" fill="#262419"/><rect x="358.562" y="221.000" width="1.434" height="17.650" fill="#183723"/><rect x="359.946" y="221.000" width="1.434" height="17.650" fill="#36301e"/><rect x="361.330" y="221.000" width="1.434" height="17.650" fill="#24593a"/><rect x="362.714" y="221.000" width="1.434" height="17.650" fill="#262418"/><rect x="364.097" y="221.000" width="1.434" height="17.650" fill="#193a25"/><rect x="365.481" y="221.000" width="1.434" height="17.650" fill="#171711"/><rect x="366.865" y="221.000" width="1.434" height="17.650" fill="#1b3f28"/><rect x="368.249" y="221.000" width="1.434" height="17.650" fill="#38321f"/><rect x="369.632" y="221.000" width="1.434" height="17.650" fill="#3a3420"/><rect x="371.016" y="221.000" width="1.434" height="17.650" fill="#255c3c"/><rect x="372.400" y="221.000" width="1.434" height="17.650" fill="#275f3e"/><rect x="373.784" y="221.000" width="1.434" height="17.650" fill="#161610"/><rect x="375.168" y="221.000" width="1.434" height="17.650" fill="#265d3d"/><rect x="376.551" y="221.000" width="1.434" height="17.650" fill="#161610"/><rect x="377.935" y="221.000" width="1.434" height="17.650" fill="#2a6743"/><rect x="379.319" y="221.000" width="1.434" height="17.650" fill="#286341"/><rect x="380.703" y="221.000" width="1.434" height="17.650" fill="#171711"/><rect x="382.086" y="221.000" width="1.434" height="17.650" fill="#28261a"/><rect x="383.470" y="221.000" width="1.434" height="17.650" fill="#2b6b46"/><rect x="384.854" y="221.000" width="1.434" height="17.650" fill="#255a3b"/><rect x="386.238" y="221.000" width="1.434" height="17.650" fill="#2b6844"/><rect x="387.622" y="221.000" width="1.434" height="17.650" fill="#181812"/><rect x="389.005" y="221.000" width="1.434" height="17.650" fill="#28261a"/><rect x="390.389" y="221.000" width="1.434" height="17.650" fill="#1a1a13"/><rect x="391.773" y="221.000" width="1.434" height="17.650" fill="#27603f"/><rect x="393.157" y="221.000" width="1.434" height="17.650" fill="#286240"/><rect x="394.541" y="221.000" width="1.434" height="17.650" fill="#2a6642"/><rect x="395.924" y="221.000" width="1.434" height="17.650" fill="#30885a"/><rect x="397.308" y="221.000" width="1.434" height="17.650" fill="#2b784f"/><rect x="398.692" y="221.000" width="1.434" height="17.650" fill="#2b6944"/><rect x="400.076" y="221.000" width="1.434" height="17.650" fill="#2a281b"/><rect x="401.459" y="221.000" width="1.434" height="17.650" fill="#191912"/><rect x="402.843" y="221.000" width="1.434" height="17.650" fill="#2b7a50"/><rect x="404.227" y="221.000" width="1.434" height="17.650" fill="#275f3e"/><rect x="405.611" y="221.000" width="1.434" height="17.650" fill="#161610"/><rect x="406.995" y="221.000" width="1.434" height="17.650" fill="#29734c"/><rect x="408.378" y="221.000" width="1.434" height="17.650" fill="#31895d"/><rect x="409.762" y="221.000" width="1.434" height="17.650" fill="#2a6743"/><rect x="411.146" y="221.000" width="1.434" height="17.650" fill="#265d3d"/><rect x="412.530" y="221.000" width="1.434" height="17.650" fill="#161611"/><rect x="413.914" y="221.000" width="1.434" height="17.650" fill="#255a3b"/><rect x="415.297" y="221.000" width="1.434" height="17.650" fill="#3e3822"/><rect x="416.681" y="221.000" width="1.434" height="17.650" fill="#2b6945"/><rect x="418.065" y="221.000" width="1.434" height="17.650" fill="#296542"/><rect x="419.449" y="221.000" width="1.434" height="17.650" fill="#265e3d"/><rect x="420.832" y="221.000" width="1.434" height="17.650" fill="#193924"/><rect x="422.216" y="221.000" width="1.434" height="17.650" fill="#265e3d"/><rect x="270.000" y="238.650" width="1.434" height="17.650" fill="#695f18"/><rect x="271.384" y="238.650" width="1.434" height="17.650" fill="#635916"/><rect x="272.768" y="238.650" width="1.434" height="17.650" fill="#393320"/><rect x="274.151" y="238.650" width="1.434" height="17.650" fill="#37321e"/><rect x="275.535" y="238.650" width="1.434" height="17.650" fill="#b4a211"/><rect x="276.919" y="238.650" width="1.434" height="17.650" fill="#2c2a1c"/><rect x="278.303" y="238.650" width="1.434" height="17.650" fill="#3b3420"/><rect x="279.686" y="238.650" width="1.434" height="17.650" fill="#265d3d"/><rect x="281.070" y="238.650" width="1.434" height="17.650" fill="#5a511c"/><rect x="282.454" y="238.650" width="1.434" height="17.650" fill="#171711"/><rect x="283.838" y="238.650" width="1.434" height="17.650" fill="#675d17"/><rect x="285.222" y="238.650" width="1.434" height="17.650" fill="#342f1d"/><rect x="286.605" y="238.650" width="1.434" height="17.650" fill="#675e17"/><rect x="287.989" y="238.650" width="1.434" height="17.650" fill="#28261a"/><rect x="289.373" y="238.650" width="1.434" height="17.650" fill="#28261a"/><rect x="290.757" y="238.650" width="1.434" height="17.650" fill="#645a17"/><rect x="292.141" y="238.650" width="1.434" height="17.650" fill="#3a3420"/><rect x="293.524" y="238.650" width="1.434" height="17.650" fill="#4a4317"/><rect x="294.908" y="238.650" width="1.434" height="17.650" fill="#655b17"/><rect x="296.292" y="238.650" width="1.434" height="17.650" fill="#35301d"/><rect x="297.676" y="238.650" width="1.434" height="17.650" fill="#504919"/><rect x="299.059" y="238.650" width="1.434" height="17.650" fill="#352f1d"/><rect x="300.443" y="238.650" width="1.434" height="17.650" fill="#4a4318"/><rect x="301.827" y="238.650" width="1.434" height="17.650" fill="#262519"/><rect x="303.211" y="238.650" width="1.434" height="17.650" fill="#37311e"/><rect x="304.595" y="238.650" width="1.434" height="17.650" fill="#29271a"/><rect x="305.978" y="238.650" width="1.434" height="17.650" fill="#28261a"/><rect x="307.362" y="238.650" width="1.434" height="17.650" fill="#564e1b"/><rect x="308.746" y="238.650" width="1.434" height="17.650" fill="#1b3e27"/><rect x="310.130" y="238.650" width="1.434" height="17.650" fill="#564d1b"/><rect x="311.514" y="238.650" width="1.434" height="17.650" fill="#58501c"/><rect x="312.897" y="238.650" width="1.434" height="17.650" fill="#193b25"/><rect x="314.281" y="238.650" width="1.434" height="17.650" fill="#4f4719"/><rect x="315.665" y="238.650" width="1.434" height="17.650" fill="#5a511d"/><rect x="317.049" y="238.650" width="1.434" height="17.650" fill="#4c4518"/><rect x="318.432" y="238.650" width="1.434" height="17.650" fill="#3d3621"/><rect x="319.816" y="238.650" width="1.434" height="17.650" fill="#544c1b"/><rect x="321.200" y="238.650" width="1.434" height="17.650" fill="#183723"/><rect x="322.584" y="238.650" width="1.434" height="17.650" fill="#574f1c"/><rect x="323.968" y="238.650" width="1.434" height="17.650" fill="#3f3823"/><rect x="325.351" y="238.650" width="1.434" height="17.650" fill="#544c1b"/><rect x="326.735" y="238.650" width="1.434" height="17.650" fill="#2a281b"/><rect x="328.119" y="238.650" width="1.434" height="17.650" fill="#2f8457"/><rect x="329.503" y="238.650" width="1.434" height="17.650" fill="#625916"/><rect x="330.886" y="238.650" width="1.434" height="17.650" fill="#6b6018"/><rect x="332.270" y="238.650" width="1.434" height="17.650" fill="#181812"/><rect x="333.654" y="238.650" width="1.434" height="17.650" fill="#71661a"/><rect x="335.038" y="238.650" width="1.434" height="17.650" fill="#3e3722"/><rect x="336.422" y="238.650" width="1.434" height="17.650" fill="#71661a"/><rect x="337.805" y="238.650" width="1.434" height="17.650" fill="#6c6218"/><rect x="339.189" y="238.650" width="1.434" height="17.650" fill="#2f8658"/><rect x="340.573" y="238.650" width="1.434" height="17.650" fill="#3c3621"/><rect x="341.957" y="238.650" width="1.434" height="17.650" fill="#554d1b"/><rect x="343.341" y="238.650" width="1.434" height="17.650" fill="#262419"/><rect x="344.724" y="238.650" width="1.434" height="17.650" fill="#605716"/><rect x="346.108" y="238.650" width="1.434" height="17.650" fill="#625916"/><rect x="347.492" y="238.650" width="1.434" height="17.650" fill="#675d17"/><rect x="348.876" y="238.650" width="1.434" height="17.650" fill="#161611"/><rect x="350.259" y="238.650" width="1.434" height="17.650" fill="#2f8458"/><rect x="351.643" y="238.650" width="1.434" height="17.650" fill="#286341"/><rect x="353.027" y="238.650" width="1.434" height="17.650" fill="#29271b"/><rect x="354.411" y="238.650" width="1.434" height="17.650" fill="#191912"/><rect x="355.795" y="238.650" width="1.434" height="17.650" fill="#296642"/><rect x="357.178" y="238.650" width="1.434" height="17.650" fill="#3a3420"/><rect x="358.562" y="238.650" width="1.434" height="17.650" fill="#4a4317"/><rect x="359.946" y="238.650" width="1.434" height="17.650" fill="#191913"/><rect x="361.330" y="238.650" width="1.434" height="17.650" fill="#6f6519"/><rect x="362.714" y="238.650" width="1.434" height="17.650" fill="#1a3c26"/><rect x="364.097" y="238.650" width="1.434" height="17.650" fill="#3a3420"/><rect x="365.481" y="238.650" width="1.434" height="17.650" fill="#3c3621"/><rect x="366.865" y="238.650" width="1.434" height="17.650" fill="#161610"/><rect x="368.249" y="238.650" width="1.434" height="17.650" fill="#2e8256"/><rect x="369.632" y="238.650" width="1.434" height="17.650" fill="#171711"/><rect x="371.016" y="238.650" width="1.434" height="17.650" fill="#252318"/><rect x="372.400" y="238.650" width="1.434" height="17.650" fill="#171711"/><rect x="373.784" y="238.650" width="1.434" height="17.650" fill="#3d3621"/><rect x="375.168" y="238.650" width="1.434" height="17.650" fill="#171711"/><rect x="376.551" y="238.650" width="1.434" height="17.650" fill="#2a6743"/><rect x="377.935" y="238.650" width="1.434" height="17.650" fill="#1c422a"/><rect x="379.319" y="238.650" width="1.434" height="17.650" fill="#181812"/><rect x="380.703" y="238.650" width="1.434" height="17.650" fill="#359264"/><rect x="382.086" y="238.650" width="1.434" height="17.650" fill="#286240"/><rect x="383.470" y="238.650" width="1.434" height="17.650" fill="#191913"/><rect x="384.854" y="238.650" width="1.434" height="17.650" fill="#2a281b"/><rect x="386.238" y="238.650" width="1.434" height="17.650" fill="#29271b"/><rect x="387.622" y="238.650" width="1.434" height="17.650" fill="#191913"/><rect x="389.005" y="238.650" width="1.434" height="17.650" fill="#35301d"/><rect x="390.389" y="238.650" width="1.434" height="17.650" fill="#255b3b"/><rect x="391.773" y="238.650" width="1.434" height="17.650" fill="#171711"/><rect x="393.157" y="238.650" width="1.434" height="17.650" fill="#3d3722"/><rect x="394.541" y="238.650" width="1.434" height="17.650" fill="#38321f"/><rect x="395.924" y="238.650" width="1.434" height="17.650" fill="#3b3520"/><rect x="397.308" y="238.650" width="1.434" height="17.650" fill="#242217"/><rect x="398.692" y="238.650" width="1.434" height="17.650" fill="#161610"/><rect x="400.076" y="238.650" width="1.434" height="17.650" fill="#265d3d"/><rect x="401.459" y="238.650" width="1.434" height="17.650" fill="#296542"/><rect x="402.843" y="238.650" width="1.434" height="17.650" fill="#191913"/><rect x="404.227" y="238.650" width="1.434" height="17.650" fill="#296542"/><rect x="405.611" y="238.650" width="1.434" height="17.650" fill="#2a774f"/><rect x="406.995" y="238.650" width="1.434" height="17.650" fill="#181812"/><rect x="408.378" y="238.650" width="1.434" height="17.650" fill="#28261a"/><rect x="409.762" y="238.650" width="1.434" height="17.650" fill="#286140"/><rect x="411.146" y="238.650" width="1.434" height="17.650" fill="#255b3b"/><rect x="412.530" y="238.650" width="1.434" height="17.650" fill="#3aa26e"/><rect x="413.914" y="238.650" width="1.434" height="17.650" fill="#47c596"/><rect x="415.297" y="238.650" width="1.434" height="17.650" fill="#53e6af"/><rect x="416.681" y="238.650" width="1.434" height="17.650" fill="#308759"/><rect x="418.065" y="238.650" width="1.434" height="17.650" fill="#28704a"/><rect x="419.449" y="238.650" width="1.434" height="17.650" fill="#2c7b51"/><rect x="420.832" y="238.650" width="1.434" height="17.650" fill="#1a1a13"/><rect x="422.216" y="238.650" width="1.434" height="17.650" fill="#2c6b46"/><rect x="270.000" y="256.300" width="1.434" height="17.650" fill="#695f18"/><rect x="271.384" y="256.300" width="1.434" height="17.650" fill="#655c17"/><rect x="272.768" y="256.300" width="1.434" height="17.650" fill="#37311e"/><rect x="274.151" y="256.300" width="1.434" height="17.650" fill="#73691a"/><rect x="275.535" y="256.300" width="1.434" height="17.650" fill="#4d4618"/><rect x="276.919" y="256.300" width="1.434" height="17.650" fill="#29271a"/><rect x="278.303" y="256.300" width="1.434" height="17.650" fill="#36301e"/><rect x="279.686" y="256.300" width="1.434" height="17.650" fill="#1a3c26"/><rect x="281.070" y="256.300" width="1.434" height="17.650" fill="#74691a"/><rect x="282.454" y="256.300" width="1.434" height="17.650" fill="#625916"/><rect x="283.838" y="256.300" width="1.434" height="17.650" fill="#574f1c"/><rect x="285.222" y="256.300" width="1.434" height="17.650" fill="#6a6018"/><rect x="286.605" y="256.300" width="1.434" height="17.650" fill="#58501c"/><rect x="287.989" y="256.300" width="1.434" height="17.650" fill="#3c3621"/><rect x="289.373" y="256.300" width="1.434" height="17.650" fill="#4e4619"/><rect x="290.757" y="256.300" width="1.434" height="17.650" fill="#72681a"/><rect x="292.141" y="256.300" width="1.434" height="17.650" fill="#369666"/><rect x="293.524" y="256.300" width="1.434" height="17.650" fill="#45be91"/><rect x="294.908" y="256.300" width="1.434" height="17.650" fill="#342f1d"/><rect x="296.292" y="256.300" width="1.434" height="17.650" fill="#28261a"/><rect x="297.676" y="256.300" width="1.434" height="17.650" fill="#695f18"/><rect x="299.059" y="256.300" width="1.434" height="17.650" fill="#665c17"/><rect x="300.443" y="256.300" width="1.434" height="17.650" fill="#4c4518"/><rect x="301.827" y="256.300" width="1.434" height="17.650" fill="#675d17"/><rect x="303.211" y="256.300" width="1.434" height="17.650" fill="#665c17"/><rect x="304.595" y="256.300" width="1.434" height="17.650" fill="#2b291c"/><rect x="305.978" y="256.300" width="1.434" height="17.650" fill="#4a4317"/><rect x="307.362" y="256.300" width="1.434" height="17.650" fill="#564e1b"/><rect x="308.746" y="256.300" width="1.434" height="17.650" fill="#2b6944"/><rect x="310.130" y="256.300" width="1.434" height="17.650" fill="#252318"/><rect x="311.514" y="256.300" width="1.434" height="17.650" fill="#1c4129"/><rect x="312.897" y="256.300" width="1.434" height="17.650" fill="#2a281b"/><rect x="314.281" y="256.300" width="1.434" height="17.650" fill="#3f3823"/><rect x="315.665" y="256.300" width="1.434" height="17.650" fill="#265e3d"/><rect x="317.049" y="256.300" width="1.434" height="17.650" fill="#272519"/><rect x="318.432" y="256.300" width="1.434" height="17.650" fill="#171712"/><rect x="319.816" y="256.300" width="1.434" height="17.650" fill="#1d422a"/><rect x="321.200" y="256.300" width="1.434" height="17.650" fill="#29271a"/><rect x="322.584" y="256.300" width="1.434" height="17.650" fill="#38331f"/><rect x="323.968" y="256.300" width="1.434" height="17.650" fill="#51491a"/><rect x="325.351" y="256.300" width="1.434" height="17.650" fill="#171711"/><rect x="326.735" y="256.300" width="1.434" height="17.650" fill="#242318"/><rect x="328.119" y="256.300" width="1.434" height="17.650" fill="#4b4418"/><rect x="329.503" y="256.300" width="1.434" height="17.650" fill="#2b291c"/><rect x="330.886" y="256.300" width="1.434" height="17.650" fill="#49c999"/><rect x="332.270" y="256.300" width="1.434" height="17.650" fill="#2b291c"/><rect x="333.654" y="256.300" width="1.434" height="17.650" fill="#37311e"/><rect x="335.038" y="256.300" width="1.434" height="17.650" fill="#338f61"/><rect x="336.422" y="256.300" width="1.434" height="17.650" fill="#3a3420"/><rect x="337.805" y="256.300" width="1.434" height="17.650" fill="#262418"/><rect x="339.189" y="256.300" width="1.434" height="17.650" fill="#39331f"/><rect x="340.573" y="256.300" width="1.434" height="17.650" fill="#308759"/><rect x="341.957" y="256.300" width="1.434" height="17.650" fill="#2b291c"/><rect x="343.341" y="256.300" width="1.434" height="17.650" fill="#574f1c"/><rect x="344.724" y="256.300" width="1.434" height="17.650" fill="#6d6319"/><rect x="346.108" y="256.300" width="1.434" height="17.650" fill="#3f3823"/><rect x="347.492" y="256.300" width="1.434" height="17.650" fill="#59511c"/><rect x="348.876" y="256.300" width="1.434" height="17.650" fill="#181812"/><rect x="350.259" y="256.300" width="1.434" height="17.650" fill="#191913"/><rect x="351.643" y="256.300" width="1.434" height="17.650" fill="#352f1d"/><rect x="353.027" y="256.300" width="1.434" height="17.650" fill="#564d1b"/><rect x="354.411" y="256.300" width="1.434" height="17.650" fill="#393320"/><rect x="355.795" y="256.300" width="1.434" height="17.650" fill="#1b3f28"/><rect x="357.178" y="256.300" width="1.434" height="17.650" fill="#1b3e27"/><rect x="358.562" y="256.300" width="1.434" height="17.650" fill="#171711"/><rect x="359.946" y="256.300" width="1.434" height="17.650" fill="#352f1d"/><rect x="361.330" y="256.300" width="1.434" height="17.650" fill="#59501c"/><rect x="362.714" y="256.300" width="1.434" height="17.650" fill="#36301e"/><rect x="364.097" y="256.300" width="1.434" height="17.650" fill="#695f18"/><rect x="365.481" y="256.300" width="1.434" height="17.650" fill="#275f3e"/><rect x="366.865" y="256.300" width="1.434" height="17.650" fill="#665c17"/><rect x="368.249" y="256.300" width="1.434" height="17.650" fill="#191913"/><rect x="369.632" y="256.300" width="1.434" height="17.650" fill="#53e6af"/><rect x="371.016" y="256.300" width="1.434" height="17.650" fill="#171711"/><rect x="372.400" y="256.300" width="1.434" height="17.650" fill="#3c3621"/><rect x="373.784" y="256.300" width="1.434" height="17.650" fill="#171711"/><rect x="375.168" y="256.300" width="1.434" height="17.650" fill="#286341"/><rect x="376.551" y="256.300" width="1.434" height="17.650" fill="#171712"/><rect x="377.935" y="256.300" width="1.434" height="17.650" fill="#4d4518"/><rect x="379.319" y="256.300" width="1.434" height="17.650" fill="#4c4518"/><rect x="380.703" y="256.300" width="1.434" height="17.650" fill="#171711"/><rect x="382.086" y="256.300" width="1.434" height="17.650" fill="#2b291c"/><rect x="383.470" y="256.300" width="1.434" height="17.650" fill="#524a1a"/><rect x="384.854" y="256.300" width="1.434" height="17.650" fill="#4d4619"/><rect x="386.238" y="256.300" width="1.434" height="17.650" fill="#1c4129"/><rect x="387.622" y="256.300" width="1.434" height="17.650" fill="#2c6c46"/><rect x="389.005" y="256.300" width="1.434" height="17.650" fill="#28613f"/><rect x="390.389" y="256.300" width="1.434" height="17.650" fill="#255b3b"/><rect x="391.773" y="256.300" width="1.434" height="17.650" fill="#4d4518"/><rect x="393.157" y="256.300" width="1.434" height="17.650" fill="#252318"/><rect x="394.541" y="256.300" width="1.434" height="17.650" fill="#171711"/><rect x="395.924" y="256.300" width="1.434" height="17.650" fill="#4b4418"/><rect x="397.308" y="256.300" width="1.434" height="17.650" fill="#4e4619"/><rect x="398.692" y="256.300" width="1.434" height="17.650" fill="#171711"/><rect x="400.076" y="256.300" width="1.434" height="17.650" fill="#296341"/><rect x="401.459" y="256.300" width="1.434" height="17.650" fill="#2b6a45"/><rect x="402.843" y="256.300" width="1.434" height="17.650" fill="#1b3f28"/><rect x="404.227" y="256.300" width="1.434" height="17.650" fill="#685e18"/><rect x="405.611" y="256.300" width="1.434" height="17.650" fill="#181812"/><rect x="406.995" y="256.300" width="1.434" height="17.650" fill="#6b6018"/><rect x="408.378" y="256.300" width="1.434" height="17.650" fill="#675e17"/><rect x="409.762" y="256.300" width="1.434" height="17.650" fill="#171711"/><rect x="411.146" y="256.300" width="1.434" height="17.650" fill="#352f1d"/><rect x="412.530" y="256.300" width="1.434" height="17.650" fill="#193924"/><rect x="413.914" y="256.300" width="1.434" height="17.650" fill="#5a511c"/><rect x="415.297" y="256.300" width="1.434" height="17.650" fill="#183823"/><rect x="416.681" y="256.300" width="1.434" height="17.650" fill="#286240"/><rect x="418.065" y="256.300" width="1.434" height="17.650" fill="#1b3e27"/><rect x="419.449" y="256.300" width="1.434" height="17.650" fill="#1a1a13"/><rect x="420.832" y="256.300" width="1.434" height="17.650" fill="#2a754d"/><rect x="422.216" y="256.300" width="1.434" height="17.650" fill="#2a764e"/><rect x="270.000" y="273.950" width="1.434" height="17.650" fill="#338e61"/><rect x="271.384" y="273.950" width="1.434" height="17.650" fill="#272519"/><rect x="272.768" y="273.950" width="1.434" height="17.650" fill="#393320"/><rect x="274.151" y="273.950" width="1.434" height="17.650" fill="#59511c"/><rect x="275.535" y="273.950" width="1.434" height="17.650" fill="#71671a"/><rect x="276.919" y="273.950" width="1.434" height="17.650" fill="#72671a"/><rect x="278.303" y="273.950" width="1.434" height="17.650" fill="#342f1d"/><rect x="279.686" y="273.950" width="1.434" height="17.650" fill="#4a4318"/><rect x="281.070" y="273.950" width="1.434" height="17.650" fill="#2a281b"/><rect x="282.454" y="273.950" width="1.434" height="17.650" fill="#58501c"/><rect x="283.838" y="273.950" width="1.434" height="17.650" fill="#695f18"/><rect x="285.222" y="273.950" width="1.434" height="17.650" fill="#3b3521"/><rect x="286.605" y="273.950" width="1.434" height="17.650" fill="#242217"/><rect x="287.989" y="273.950" width="1.434" height="17.650" fill="#504819"/><rect x="289.373" y="273.950" width="1.434" height="17.650" fill="#59501c"/><rect x="290.757" y="273.950" width="1.434" height="17.650" fill="#2b281c"/><rect x="292.141" y="273.950" width="1.434" height="17.650" fill="#1c4029"/><rect x="293.524" y="273.950" width="1.434" height="17.650" fill="#1c422a"/><rect x="294.908" y="273.950" width="1.434" height="17.650" fill="#2a764e"/><rect x="296.292" y="273.950" width="1.434" height="17.650" fill="#255a3b"/><rect x="297.676" y="273.950" width="1.434" height="17.650" fill="#36301e"/><rect x="299.059" y="273.950" width="1.434" height="17.650" fill="#28261a"/><rect x="300.443" y="273.950" width="1.434" height="17.650" fill="#554d1b"/><rect x="301.827" y="273.950" width="1.434" height="17.650" fill="#3f3923"/><rect x="303.211" y="273.950" width="1.434" height="17.650" fill="#6f6419"/><rect x="304.595" y="273.950" width="1.434" height="17.650" fill="#29271b"/><rect x="305.978" y="273.950" width="1.434" height="17.650" fill="#564e1b"/><rect x="307.362" y="273.950" width="1.434" height="17.650" fill="#51491a"/><rect x="308.746" y="273.950" width="1.434" height="17.650" fill="#286341"/><rect x="310.130" y="273.950" width="1.434" height="17.650" fill="#242318"/><rect x="311.514" y="273.950" width="1.434" height="17.650" fill="#574e1b"/><rect x="312.897" y="273.950" width="1.434" height="17.650" fill="#645b17"/><rect x="314.281" y="273.950" width="1.434" height="17.650" fill="#59501c"/><rect x="315.665" y="273.950" width="1.434" height="17.650" fill="#296542"/><rect x="317.049" y="273.950" width="1.434" height="17.650" fill="#262519"/><rect x="318.432" y="273.950" width="1.434" height="17.650" fill="#36301e"/><rect x="319.816" y="273.950" width="1.434" height="17.650" fill="#262419"/><rect x="321.200" y="273.950" width="1.434" height="17.650" fill="#544c1b"/><rect x="322.584" y="273.950" width="1.434" height="17.650" fill="#2a6643"/><rect x="323.968" y="273.950" width="1.434" height="17.650" fill="#4c4418"/><rect x="325.351" y="273.950" width="1.434" height="17.650" fill="#183723"/><rect x="326.735" y="273.950" width="1.434" height="17.650" fill="#28261a"/><rect x="328.119" y="273.950" width="1.434" height="17.650" fill="#3b3521"/><rect x="329.503" y="273.950" width="1.434" height="17.650" fill="#39331f"/><rect x="330.886" y="273.950" width="1.434" height="17.650" fill="#171711"/><rect x="332.270" y="273.950" width="1.434" height="17.650" fill="#296441"/><rect x="333.654" y="273.950" width="1.434" height="17.650" fill="#605716"/><rect x="335.038" y="273.950" width="1.434" height="17.650" fill="#4f4719"/><rect x="336.422" y="273.950" width="1.434" height="17.650" fill="#181812"/><rect x="337.805" y="273.950" width="1.434" height="17.650" fill="#3f3923"/><rect x="339.189" y="273.950" width="1.434" height="17.650" fill="#191913"/><rect x="340.573" y="273.950" width="1.434" height="17.650" fill="#58501c"/><rect x="341.957" y="273.950" width="1.434" height="17.650" fill="#524a1a"/><rect x="343.341" y="273.950" width="1.434" height="17.650" fill="#48c798"/><rect x="344.724" y="273.950" width="1.434" height="17.650" fill="#171711"/><rect x="346.108" y="273.950" width="1.434" height="17.650" fill="#74691a"/><rect x="347.492" y="273.950" width="1.434" height="17.650" fill="#6e6419"/><rect x="348.876" y="273.950" width="1.434" height="17.650" fill="#265e3e"/><rect x="350.259" y="273.950" width="1.434" height="17.650" fill="#605716"/><rect x="351.643" y="273.950" width="1.434" height="17.650" fill="#181812"/><rect x="353.027" y="273.950" width="1.434" height="17.650" fill="#389b6a"/><rect x="354.411" y="273.950" width="1.434" height="17.650" fill="#27603f"/><rect x="355.795" y="273.950" width="1.434" height="17.650" fill="#171711"/><rect x="357.178" y="273.950" width="1.434" height="17.650" fill="#3c3621"/><rect x="358.562" y="273.950" width="1.434" height="17.650" fill="#1a1a14"/><rect x="359.946" y="273.950" width="1.434" height="17.650" fill="#338e60"/><rect x="361.330" y="273.950" width="1.434" height="17.650" fill="#24593a"/><rect x="362.714" y="273.950" width="1.434" height="17.650" fill="#171711"/><rect x="364.097" y="273.950" width="1.434" height="17.650" fill="#1a3b25"/><rect x="365.481" y="273.950" width="1.434" height="17.650" fill="#191913"/><rect x="366.865" y="273.950" width="1.434" height="17.650" fill="#265c3c"/><rect x="368.249" y="273.950" width="1.434" height="17.650" fill="#1c4028"/><rect x="369.632" y="273.950" width="1.434" height="17.650" fill="#564e1b"/><rect x="371.016" y="273.950" width="1.434" height="17.650" fill="#6a6018"/><rect x="372.400" y="273.950" width="1.434" height="17.650" fill="#4d4618"/><rect x="373.784" y="273.950" width="1.434" height="17.650" fill="#3ba470"/><rect x="375.168" y="273.950" width="1.434" height="17.650" fill="#665c17"/><rect x="376.551" y="273.950" width="1.434" height="17.650" fill="#1a1a13"/><rect x="377.935" y="273.950" width="1.434" height="17.650" fill="#645b17"/><rect x="379.319" y="273.950" width="1.434" height="17.650" fill="#265d3c"/><rect x="380.703" y="273.950" width="1.434" height="17.650" fill="#706519"/><rect x="382.086" y="273.950" width="1.434" height="17.650" fill="#193a24"/><rect x="383.470" y="273.950" width="1.434" height="17.650" fill="#1a1a14"/><rect x="384.854" y="273.950" width="1.434" height="17.650" fill="#369666"/><rect x="386.238" y="273.950" width="1.434" height="17.650" fill="#161611"/><rect x="387.622" y="273.950" width="1.434" height="17.650" fill="#193924"/><rect x="389.005" y="273.950" width="1.434" height="17.650" fill="#359464"/><rect x="390.389" y="273.950" width="1.434" height="17.650" fill="#191913"/><rect x="391.773" y="273.950" width="1.434" height="17.650" fill="#1a1a14"/><rect x="393.157" y="273.950" width="1.434" height="17.650" fill="#183823"/><rect x="394.541" y="273.950" width="1.434" height="17.650" fill="#27603f"/><rect x="395.924" y="273.950" width="1.434" height="17.650" fill="#4d4619"/><rect x="397.308" y="273.950" width="1.434" height="17.650" fill="#74691a"/><rect x="398.692" y="273.950" width="1.434" height="17.650" fill="#161611"/><rect x="400.076" y="273.950" width="1.434" height="17.650" fill="#242318"/><rect x="401.459" y="273.950" width="1.434" height="17.650" fill="#161610"/><rect x="402.843" y="273.950" width="1.434" height="17.650" fill="#504819"/><rect x="404.227" y="273.950" width="1.434" height="17.650" fill="#3f3823"/><rect x="405.611" y="273.950" width="1.434" height="17.650" fill="#3aa26e"/><rect x="406.995" y="273.950" width="1.434" height="17.650" fill="#399d6b"/><rect x="408.378" y="273.950" width="1.434" height="17.650" fill="#1d422a"/><rect x="409.762" y="273.950" width="1.434" height="17.650" fill="#1a1a14"/><rect x="411.146" y="273.950" width="1.434" height="17.650" fill="#665d17"/><rect x="412.530" y="273.950" width="1.434" height="17.650" fill="#4d4518"/><rect x="413.914" y="273.950" width="1.434" height="17.650" fill="#1a1a14"/><rect x="415.297" y="273.950" width="1.434" height="17.650" fill="#399d6b"/><rect x="416.681" y="273.950" width="1.434" height="17.650" fill="#24593a"/><rect x="418.065" y="273.950" width="1.434" height="17.650" fill="#29271b"/><rect x="419.449" y="273.950" width="1.434" height="17.650" fill="#27603e"/><rect x="420.832" y="273.950" width="1.434" height="17.650" fill="#27603e"/><rect x="422.216" y="273.950" width="1.434" height="17.650" fill="#171711"/><line x1="270.000" y1="221.0" x2="270.000" y2="291.6" stroke="#7a6a56" stroke-width="0.3" stroke-opacity="0.35"/><line x1="271.384" y1="221.0" x2="271.384" y2="291.6" stroke="#7a6a56" stroke-width="0.3" stroke-opacity="0.35"/><line x1="272.768" y1="221.0" x2="272.768" y2="291.6" stroke="#7a6a56" stroke-width="0.3" stroke-opacity="0.35"/><line x1="274.151" y1="221.0" x2="274.151" y2="291.6" stroke="#7a6a56" stroke-width="0.3" stroke-opacity="0.35"/><line x1="275.535" y1="221.0" x2="275.535" y2="291.6" stroke="#7a6a56" stroke-width="0.3" stroke-opacity="0.35"/><line x1="276.919" y1="221.0" x2="276.919" y2="291.6" stroke="#7a6a56" stroke-width="0.3" stroke-opacity="0.35"/><line x1="278.303" y1="221.0" x2="278.303" y2="291.6" stroke="#7a6a56" stroke-width="0.3" stroke-opacity="0.35"/><line x1="279.686" y1="221.0" x2="279.686" y2="291.6" stroke="#7a6a56" stroke-width="0.3" stroke-opacity="0.35"/><line x1="281.070" y1="221.0" x2="281.070" y2="291.6" stroke="#7a6a56" stroke-width="0.3" stroke-opacity="0.35"/><line x1="282.454" y1="221.0" x2="282.454" y2="291.6" stroke="#7a6a56" stroke-width="0.3" stroke-opacity="0.35"/><line x1="283.838" y1="221.0" x2="283.838" y2="291.6" stroke="#7a6a56" stroke-width="0.3" stroke-opacity="0.35"/><line x1="285.222" y1="221.0" x2="285.222" y2="291.6" stroke="#7a6a56" stroke-width="0.3" stroke-opacity="0.35"/><line x1="286.605" y1="221.0" x2="286.605" y2="291.6" stroke="#7a6a56" stroke-width="0.3" stroke-opacity="0.35"/><line x1="287.989" y1="221.0" x2="287.989" y2="291.6" stroke="#7a6a56" stroke-width="0.3" stroke-opacity="0.35"/><line x1="289.373" y1="221.0" x2="289.373" y2="291.6" stroke="#7a6a56" stroke-width="0.3" stroke-opacity="0.35"/><line x1="290.757" y1="221.0" x2="290.757" y2="291.6" stroke="#7a6a56" stroke-width="0.3" stroke-opacity="0.35"/><line x1="292.141" y1="221.0" x2="292.141" y2="291.6" stroke="#7a6a56" stroke-width="0.3" stroke-opacity="0.35"/><line x1="293.524" y1="221.0" x2="293.524" y2="291.6" stroke="#7a6a56" stroke-width="0.3" stroke-opacity="0.35"/><line x1="294.908" y1="221.0" x2="294.908" y2="291.6" stroke="#7a6a56" stroke-width="0.3" stroke-opacity="0.35"/><line x1="296.292" y1="221.0" x2="296.292" y2="291.6" stroke="#7a6a56" stroke-width="0.3" stroke-opacity="0.35"/><line x1="297.676" y1="221.0" x2="297.676" y2="291.6" stroke="#7a6a56" stroke-width="0.3" stroke-opacity="0.35"/><line x1="299.059" y1="221.0" x2="299.059" y2="291.6" stroke="#7a6a56" stroke-width="0.3" stroke-opacity="0.35"/><line x1="300.443" y1="221.0" x2="300.443" y2="291.6" stroke="#7a6a56" stroke-width="0.3" stroke-opacity="0.35"/><line x1="301.827" y1="221.0" x2="301.827" y2="291.6" stroke="#7a6a56" stroke-width="0.3" stroke-opacity="0.35"/><line x1="303.211" y1="221.0" x2="303.211" y2="291.6" stroke="#7a6a56" stroke-width="0.3" stroke-opacity="0.35"/><line x1="304.595" y1="221.0" x2="304.595" y2="291.6" stroke="#7a6a56" stroke-width="0.3" stroke-opacity="0.35"/><line x1="305.978" y1="221.0" x2="305.978" y2="291.6" stroke="#7a6a56" stroke-width="0.3" stroke-opacity="0.35"/><line x1="307.362" y1="221.0" x2="307.362" y2="291.6" stroke="#7a6a56" stroke-width="0.3" stroke-opacity="0.35"/><line x1="308.746" y1="221.0" x2="308.746" y2="291.6" stroke="#7a6a56" stroke-width="0.3" stroke-opacity="0.35"/><line x1="310.130" y1="221.0" x2="310.130" y2="291.6" stroke="#7a6a56" stroke-width="0.3" stroke-opacity="0.35"/><line x1="311.514" y1="221.0" x2="311.514" y2="291.6" stroke="#7a6a56" stroke-width="0.3" stroke-opacity="0.35"/><line x1="312.897" y1="221.0" x2="312.897" y2="291.6" stroke="#7a6a56" stroke-width="0.3" stroke-opacity="0.35"/><line x1="314.281" y1="221.0" x2="314.281" y2="291.6" stroke="#7a6a56" stroke-width="0.3" stroke-opacity="0.35"/><line x1="315.665" y1="221.0" x2="315.665" y2="291.6" stroke="#7a6a56" stroke-width="0.3" stroke-opacity="0.35"/><line x1="317.049" y1="221.0" x2="317.049" y2="291.6" stroke="#7a6a56" stroke-width="0.3" stroke-opacity="0.35"/><line x1="318.432" y1="221.0" x2="318.432" y2="291.6" stroke="#7a6a56" stroke-width="0.3" stroke-opacity="0.35"/><line x1="319.816" y1="221.0" x2="319.816" y2="291.6" stroke="#7a6a56" stroke-width="0.3" stroke-opacity="0.35"/><line x1="321.200" y1="221.0" x2="321.200" y2="291.6" stroke="#7a6a56" stroke-width="0.3" stroke-opacity="0.35"/><line x1="322.584" y1="221.0" x2="322.584" y2="291.6" stroke="#7a6a56" stroke-width="0.3" stroke-opacity="0.35"/><line x1="323.968" y1="221.0" x2="323.968" y2="291.6" stroke="#7a6a56" stroke-width="0.3" stroke-opacity="0.35"/><line x1="325.351" y1="221.0" x2="325.351" y2="291.6" stroke="#7a6a56" stroke-width="0.3" stroke-opacity="0.35"/><line x1="326.735" y1="221.0" x2="326.735" y2="291.6" stroke="#7a6a56" stroke-width="0.3" stroke-opacity="0.35"/><line x1="328.119" y1="221.0" x2="328.119" y2="291.6" stroke="#7a6a56" stroke-width="0.3" stroke-opacity="0.35"/><line x1="329.503" y1="221.0" x2="329.503" y2="291.6" stroke="#7a6a56" stroke-width="0.3" stroke-opacity="0.35"/><line x1="330.886" y1="221.0" x2="330.886" y2="291.6" stroke="#7a6a56" stroke-width="0.3" stroke-opacity="0.35"/><line x1="332.270" y1="221.0" x2="332.270" y2="291.6" stroke="#7a6a56" stroke-width="0.3" stroke-opacity="0.35"/><line x1="333.654" y1="221.0" x2="333.654" y2="291.6" stroke="#7a6a56" stroke-width="0.3" stroke-opacity="0.35"/><line x1="335.038" y1="221.0" x2="335.038" y2="291.6" stroke="#7a6a56" stroke-width="0.3" stroke-opacity="0.35"/><line x1="336.422" y1="221.0" x2="336.422" y2="291.6" stroke="#7a6a56" stroke-width="0.3" stroke-opacity="0.35"/><line x1="337.805" y1="221.0" x2="337.805" y2="291.6" stroke="#7a6a56" stroke-width="0.3" stroke-opacity="0.35"/><line x1="339.189" y1="221.0" x2="339.189" y2="291.6" stroke="#7a6a56" stroke-width="0.3" stroke-opacity="0.35"/><line x1="340.573" y1="221.0" x2="340.573" y2="291.6" stroke="#7a6a56" stroke-width="0.3" stroke-opacity="0.35"/><line x1="341.957" y1="221.0" x2="341.957" y2="291.6" stroke="#7a6a56" stroke-width="0.3" stroke-opacity="0.35"/><line x1="343.341" y1="221.0" x2="343.341" y2="291.6" stroke="#7a6a56" stroke-width="0.3" stroke-opacity="0.35"/><line x1="344.724" y1="221.0" x2="344.724" y2="291.6" stroke="#7a6a56" stroke-width="0.3" stroke-opacity="0.35"/><line x1="346.108" y1="221.0" x2="346.108" y2="291.6" stroke="#7a6a56" stroke-width="0.3" stroke-opacity="0.35"/><line x1="347.492" y1="221.0" x2="347.492" y2="291.6" stroke="#7a6a56" stroke-width="0.3" stroke-opacity="0.35"/><line x1="348.876" y1="221.0" x2="348.876" y2="291.6" stroke="#7a6a56" stroke-width="0.3" stroke-opacity="0.35"/><line x1="350.259" y1="221.0" x2="350.259" y2="291.6" stroke="#7a6a56" stroke-width="0.3" stroke-opacity="0.35"/><line x1="351.643" y1="221.0" x2="351.643" y2="291.6" stroke="#7a6a56" stroke-width="0.3" stroke-opacity="0.35"/><line x1="353.027" y1="221.0" x2="353.027" y2="291.6" stroke="#7a6a56" stroke-width="0.3" stroke-opacity="0.35"/><line x1="354.411" y1="221.0" x2="354.411" y2="291.6" stroke="#7a6a56" stroke-width="0.3" stroke-opacity="0.35"/><line x1="355.795" y1="221.0" x2="355.795" y2="291.6" stroke="#7a6a56" stroke-width="0.3" stroke-opacity="0.35"/><line x1="357.178" y1="221.0" x2="357.178" y2="291.6" stroke="#7a6a56" stroke-width="0.3" stroke-opacity="0.35"/><line x1="358.562" y1="221.0" x2="358.562" y2="291.6" stroke="#7a6a56" stroke-width="0.3" stroke-opacity="0.35"/><line x1="359.946" y1="221.0" x2="359.946" y2="291.6" stroke="#7a6a56" stroke-width="0.3" stroke-opacity="0.35"/><line x1="361.330" y1="221.0" x2="361.330" y2="291.6" stroke="#7a6a56" stroke-width="0.3" stroke-opacity="0.35"/><line x1="362.714" y1="221.0" x2="362.714" y2="291.6" stroke="#7a6a56" stroke-width="0.3" stroke-opacity="0.35"/><line x1="364.097" y1="221.0" x2="364.097" y2="291.6" stroke="#7a6a56" stroke-width="0.3" stroke-opacity="0.35"/><line x1="365.481" y1="221.0" x2="365.481" y2="291.6" stroke="#7a6a56" stroke-width="0.3" stroke-opacity="0.35"/><line x1="366.865" y1="221.0" x2="366.865" y2="291.6" stroke="#7a6a56" stroke-width="0.3" stroke-opacity="0.35"/><line x1="368.249" y1="221.0" x2="368.249" y2="291.6" stroke="#7a6a56" stroke-width="0.3" stroke-opacity="0.35"/><line x1="369.632" y1="221.0" x2="369.632" y2="291.6" stroke="#7a6a56" stroke-width="0.3" stroke-opacity="0.35"/><line x1="371.016" y1="221.0" x2="371.016" y2="291.6" stroke="#7a6a56" stroke-width="0.3" stroke-opacity="0.35"/><line x1="372.400" y1="221.0" x2="372.400" y2="291.6" stroke="#7a6a56" stroke-width="0.3" stroke-opacity="0.35"/><line x1="373.784" y1="221.0" x2="373.784" y2="291.6" stroke="#7a6a56" stroke-width="0.3" stroke-opacity="0.35"/><line x1="375.168" y1="221.0" x2="375.168" y2="291.6" stroke="#7a6a56" stroke-width="0.3" stroke-opacity="0.35"/><line x1="376.551" y1="221.0" x2="376.551" y2="291.6" stroke="#7a6a56" stroke-width="0.3" stroke-opacity="0.35"/><line x1="377.935" y1="221.0" x2="377.935" y2="291.6" stroke="#7a6a56" stroke-width="0.3" stroke-opacity="0.35"/><line x1="379.319" y1="221.0" x2="379.319" y2="291.6" stroke="#7a6a56" stroke-width="0.3" stroke-opacity="0.35"/><line x1="380.703" y1="221.0" x2="380.703" y2="291.6" stroke="#7a6a56" stroke-width="0.3" stroke-opacity="0.35"/><line x1="382.086" y1="221.0" x2="382.086" y2="291.6" stroke="#7a6a56" stroke-width="0.3" stroke-opacity="0.35"/><line x1="383.470" y1="221.0" x2="383.470" y2="291.6" stroke="#7a6a56" stroke-width="0.3" stroke-opacity="0.35"/><line x1="384.854" y1="221.0" x2="384.854" y2="291.6" stroke="#7a6a56" stroke-width="0.3" stroke-opacity="0.35"/><line x1="386.238" y1="221.0" x2="386.238" y2="291.6" stroke="#7a6a56" stroke-width="0.3" stroke-opacity="0.35"/><line x1="387.622" y1="221.0" x2="387.622" y2="291.6" stroke="#7a6a56" stroke-width="0.3" stroke-opacity="0.35"/><line x1="389.005" y1="221.0" x2="389.005" y2="291.6" stroke="#7a6a56" stroke-width="0.3" stroke-opacity="0.35"/><line x1="390.389" y1="221.0" x2="390.389" y2="291.6" stroke="#7a6a56" stroke-width="0.3" stroke-opacity="0.35"/><line x1="391.773" y1="221.0" x2="391.773" y2="291.6" stroke="#7a6a56" stroke-width="0.3" stroke-opacity="0.35"/><line x1="393.157" y1="221.0" x2="393.157" y2="291.6" stroke="#7a6a56" stroke-width="0.3" stroke-opacity="0.35"/><line x1="394.541" y1="221.0" x2="394.541" y2="291.6" stroke="#7a6a56" stroke-width="0.3" stroke-opacity="0.35"/><line x1="395.924" y1="221.0" x2="395.924" y2="291.6" stroke="#7a6a56" stroke-width="0.3" stroke-opacity="0.35"/><line x1="397.308" y1="221.0" x2="397.308" y2="291.6" stroke="#7a6a56" stroke-width="0.3" stroke-opacity="0.35"/><line x1="398.692" y1="221.0" x2="398.692" y2="291.6" stroke="#7a6a56" stroke-width="0.3" stroke-opacity="0.35"/><line x1="400.076" y1="221.0" x2="400.076" y2="291.6" stroke="#7a6a56" stroke-width="0.3" stroke-opacity="0.35"/><line x1="401.459" y1="221.0" x2="401.459" y2="291.6" stroke="#7a6a56" stroke-width="0.3" stroke-opacity="0.35"/><line x1="402.843" y1="221.0" x2="402.843" y2="291.6" stroke="#7a6a56" stroke-width="0.3" stroke-opacity="0.35"/><line x1="404.227" y1="221.0" x2="404.227" y2="291.6" stroke="#7a6a56" stroke-width="0.3" stroke-opacity="0.35"/><line x1="405.611" y1="221.0" x2="405.611" y2="291.6" stroke="#7a6a56" stroke-width="0.3" stroke-opacity="0.35"/><line x1="406.995" y1="221.0" x2="406.995" y2="291.6" stroke="#7a6a56" stroke-width="0.3" stroke-opacity="0.35"/><line x1="408.378" y1="221.0" x2="408.378" y2="291.6" stroke="#7a6a56" stroke-width="0.3" stroke-opacity="0.35"/><line x1="409.762" y1="221.0" x2="409.762" y2="291.6" stroke="#7a6a56" stroke-width="0.3" stroke-opacity="0.35"/><line x1="411.146" y1="221.0" x2="411.146" y2="291.6" stroke="#7a6a56" stroke-width="0.3" stroke-opacity="0.35"/><line x1="412.530" y1="221.0" x2="412.530" y2="291.6" stroke="#7a6a56" stroke-width="0.3" stroke-opacity="0.35"/><line x1="413.914" y1="221.0" x2="413.914" y2="291.6" stroke="#7a6a56" stroke-width="0.3" stroke-opacity="0.35"/><line x1="415.297" y1="221.0" x2="415.297" y2="291.6" stroke="#7a6a56" stroke-width="0.3" stroke-opacity="0.35"/><line x1="416.681" y1="221.0" x2="416.681" y2="291.6" stroke="#7a6a56" stroke-width="0.3" stroke-opacity="0.35"/><line x1="418.065" y1="221.0" x2="418.065" y2="291.6" stroke="#7a6a56" stroke-width="0.3" stroke-opacity="0.35"/><line x1="419.449" y1="221.0" x2="419.449" y2="291.6" stroke="#7a6a56" stroke-width="0.3" stroke-opacity="0.35"/><line x1="420.832" y1="221.0" x2="420.832" y2="291.6" stroke="#7a6a56" stroke-width="0.3" stroke-opacity="0.35"/><line x1="422.216" y1="221.0" x2="422.216" y2="291.6" stroke="#7a6a56" stroke-width="0.3" stroke-opacity="0.35"/><line x1="423.600" y1="221.0" x2="423.600" y2="291.6" stroke="#7a6a56" stroke-width="0.3" stroke-opacity="0.35"/><line x1="270.0" y1="221.000" x2="423.6" y2="221.000" stroke="#4e463c" stroke-width="0.5"/><line x1="270.0" y1="238.650" x2="423.6" y2="238.650" stroke="#4e463c" stroke-width="0.5"/><line x1="270.0" y1="256.300" x2="423.6" y2="256.300" stroke="#4e463c" stroke-width="0.5"/><line x1="270.0" y1="273.950" x2="423.6" y2="273.950" stroke="#4e463c" stroke-width="0.5"/><line x1="270.0" y1="291.600" x2="423.6" y2="291.600" stroke="#4e463c" stroke-width="0.5"/><rect x="500.400" y="221.000" width="5.170" height="17.650" fill="#1a1a08"/><rect x="505.520" y="221.000" width="5.170" height="17.650" fill="#111108"/><rect x="510.640" y="221.000" width="5.170" height="17.650" fill="#5a5010"/><rect x="515.760" y="221.000" width="5.170" height="17.650" fill="#0f4a2a"/><rect x="520.880" y="221.000" width="5.170" height="17.650" fill="#0c3820"/><rect x="526.000" y="221.000" width="5.170" height="17.650" fill="#2a9a5a"/><rect x="531.120" y="221.000" width="5.170" height="17.650" fill="#0a2818"/><rect x="536.240" y="221.000" width="5.170" height="17.650" fill="#0f4225"/><rect x="541.360" y="221.000" width="5.170" height="17.650" fill="#1a1a08"/><rect x="546.480" y="221.000" width="5.170" height="17.650" fill="#15583a"/><rect x="551.600" y="221.000" width="5.170" height="17.650" fill="#081810"/><rect x="556.720" y="221.000" width="5.170" height="17.650" fill="#1a6a40"/><rect x="561.840" y="221.000" width="5.170" height="17.650" fill="#0a0a0a"/><rect x="566.960" y="221.000" width="5.170" height="17.650" fill="#0a2015"/><rect x="572.080" y="221.000" width="5.170" height="17.650" fill="#103520"/><rect x="577.200" y="221.000" width="5.170" height="17.650" fill="#0c3820"/><rect x="582.320" y="221.000" width="5.170" height="17.650" fill="#050505"/><rect x="587.440" y="221.000" width="5.170" height="17.650" fill="#0f4a2a"/><rect x="592.560" y="221.000" width="5.170" height="17.650" fill="#5a5010"/><rect x="597.680" y="221.000" width="5.170" height="17.650" fill="#0f4a2a"/><rect x="602.800" y="221.000" width="5.170" height="17.650" fill="#050505"/><rect x="607.920" y="221.000" width="5.170" height="17.650" fill="#0f4a2a"/><rect x="613.040" y="221.000" width="5.170" height="17.650" fill="#252508"/><rect x="618.160" y="221.000" width="5.170" height="17.650" fill="#151508"/><rect x="623.280" y="221.000" width="5.170" height="17.650" fill="#3a3508"/><rect x="628.400" y="221.000" width="5.170" height="17.650" fill="#6a6010"/><rect x="633.520" y="221.000" width="5.170" height="17.650" fill="#4a4510"/><rect x="638.640" y="221.000" width="5.170" height="17.650" fill="#4a4510"/><rect x="643.760" y="221.000" width="5.170" height="17.650" fill="#6a6010"/><rect x="648.880" y="221.000" width="5.170" height="17.650" fill="#0f4a2a"/><rect x="500.400" y="238.650" width="5.170" height="17.650" fill="#1f1f08"/><rect x="505.520" y="238.650" width="5.170" height="17.650" fill="#282808"/><rect x="510.640" y="238.650" width="5.170" height="17.650" fill="#082a1a"/><rect x="515.760" y="238.650" width="5.170" height="17.650" fill="#2a2808"/><rect x="520.880" y="238.650" width="5.170" height="17.650" fill="#222208"/><rect x="526.000" y="238.650" width="5.170" height="17.650" fill="#1a1a08"/><rect x="531.120" y="238.650" width="5.170" height="17.650" fill="#1a1a08"/><rect x="536.240" y="238.650" width="5.170" height="17.650" fill="#2a2a08"/><rect x="541.360" y="238.650" width="5.170" height="17.650" fill="#081810"/><rect x="546.480" y="238.650" width="5.170" height="17.650" fill="#343008"/><rect x="551.600" y="238.650" width="5.170" height="17.650" fill="#101008"/><rect x="556.720" y="238.650" width="5.170" height="17.650" fill="#252508"/><rect x="561.840" y="238.650" width="5.170" height="17.650" fill="#2a2a08"/><rect x="566.960" y="238.650" width="5.170" height="17.650" fill="#252508"/><rect x="572.080" y="238.650" width="5.170" height="17.650" fill="#1c1c08"/><rect x="577.200" y="238.650" width="5.170" height="17.650" fill="#1a1a08"/><rect x="582.320" y="238.650" width="5.170" height="17.650" fill="#1a1a08"/><rect x="587.440" y="238.650" width="5.170" height="17.650" fill="#1a1a08"/><rect x="592.560" y="238.650" width="5.170" height="17.650" fill="#222208"/><rect x="597.680" y="238.650" width="5.170" height="17.650" fill="#1a1a08"/><rect x="602.800" y="238.650" width="5.170" height="17.650" fill="#081810"/><rect x="607.920" y="238.650" width="5.170" height="17.650" fill="#0c3820"/><rect x="613.040" y="238.650" width="5.170" height="17.650" fill="#050505"/><rect x="618.160" y="238.650" width="5.170" height="17.650" fill="#0c3820"/><rect x="623.280" y="238.650" width="5.170" height="17.650" fill="#082a1a"/><rect x="628.400" y="238.650" width="5.170" height="17.650" fill="#081810"/><rect x="633.520" y="238.650" width="5.170" height="17.650" fill="#252508"/><rect x="638.640" y="238.650" width="5.170" height="17.650" fill="#082015"/><rect x="643.760" y="238.650" width="5.170" height="17.650" fill="#40f0f0"/><rect x="648.880" y="238.650" width="5.170" height="17.650" fill="#151508"/><rect x="500.400" y="256.300" width="5.170" height="17.650" fill="#3a3808"/><rect x="505.520" y="256.300" width="5.170" height="17.650" fill="#3a3808"/><rect x="510.640" y="256.300" width="5.170" height="17.650" fill="#3a3808"/><rect x="515.760" y="256.300" width="5.170" height="17.650" fill="#2f2f08"/><rect x="520.880" y="256.300" width="5.170" height="17.650" fill="#333008"/><rect x="526.000" y="256.300" width="5.170" height="17.650" fill="#3a3808"/><rect x="531.120" y="256.300" width="5.170" height="17.650" fill="#2f2f08"/><rect x="536.240" y="256.300" width="5.170" height="17.650" fill="#2a2a08"/><rect x="541.360" y="256.300" width="5.170" height="17.650" fill="#3a3808"/><rect x="546.480" y="256.300" width="5.170" height="17.650" fill="#252508"/><rect x="551.600" y="256.300" width="5.170" height="17.650" fill="#333008"/><rect x="556.720" y="256.300" width="5.170" height="17.650" fill="#2f2f08"/><rect x="561.840" y="256.300" width="5.170" height="17.650" fill="#252508"/><rect x="566.960" y="256.300" width="5.170" height="17.650" fill="#252508"/><rect x="572.080" y="256.300" width="5.170" height="17.650" fill="#222208"/><rect x="577.200" y="256.300" width="5.170" height="17.650" fill="#222208"/><rect x="582.320" y="256.300" width="5.170" height="17.650" fill="#1a1a08"/><rect x="587.440" y="256.300" width="5.170" height="17.650" fill="#1a1a08"/><rect x="592.560" y="256.300" width="5.170" height="17.650" fill="#081810"/><rect x="597.680" y="256.300" width="5.170" height="17.650" fill="#0a0a0a"/><rect x="602.800" y="256.300" width="5.170" height="17.650" fill="#151508"/><rect x="607.920" y="256.300" width="5.170" height="17.650" fill="#1a1a08"/><rect x="613.040" y="256.300" width="5.170" height="17.650" fill="#082015"/><rect x="618.160" y="256.300" width="5.170" height="17.650" fill="#081810"/><rect x="623.280" y="256.300" width="5.170" height="17.650" fill="#082015"/><rect x="628.400" y="256.300" width="5.170" height="17.650" fill="#15583a"/><rect x="633.520" y="256.300" width="5.170" height="17.650" fill="#1a6a40"/><rect x="638.640" y="256.300" width="5.170" height="17.650" fill="#2aa06a"/><rect x="643.760" y="256.300" width="5.170" height="17.650" fill="#15583a"/><rect x="648.880" y="256.300" width="5.170" height="17.650" fill="#30c080"/><rect x="500.400" y="273.950" width="5.170" height="17.650" fill="#3a3808"/><rect x="505.520" y="273.950" width="5.170" height="17.650" fill="#1f1f08"/><rect x="510.640" y="273.950" width="5.170" height="17.650" fill="#4a4510"/><rect x="515.760" y="273.950" width="5.170" height="17.650" fill="#082a1a"/><rect x="520.880" y="273.950" width="5.170" height="17.650" fill="#222208"/><rect x="526.000" y="273.950" width="5.170" height="17.650" fill="#0a0a0a"/><rect x="531.120" y="273.950" width="5.170" height="17.650" fill="#1a1a08"/><rect x="536.240" y="273.950" width="5.170" height="17.650" fill="#050505"/><rect x="541.360" y="273.950" width="5.170" height="17.650" fill="#3a3808"/><rect x="546.480" y="273.950" width="5.170" height="17.650" fill="#081810"/><rect x="551.600" y="273.950" width="5.170" height="17.650" fill="#333008"/><rect x="556.720" y="273.950" width="5.170" height="17.650" fill="#4a4510"/><rect x="561.840" y="273.950" width="5.170" height="17.650" fill="#4a4510"/><rect x="566.960" y="273.950" width="5.170" height="17.650" fill="#15583a"/><rect x="572.080" y="273.950" width="5.170" height="17.650" fill="#081810"/><rect x="577.200" y="273.950" width="5.170" height="17.650" fill="#101008"/><rect x="582.320" y="273.950" width="5.170" height="17.650" fill="#3a3508"/><rect x="587.440" y="273.950" width="5.170" height="17.650" fill="#0c3820"/><rect x="592.560" y="273.950" width="5.170" height="17.650" fill="#5a5010"/><rect x="597.680" y="273.950" width="5.170" height="17.650" fill="#1a1a08"/><rect x="602.800" y="273.950" width="5.170" height="17.650" fill="#252508"/><rect x="607.920" y="273.950" width="5.170" height="17.650" fill="#050505"/><rect x="613.040" y="273.950" width="5.170" height="17.650" fill="#082015"/><rect x="618.160" y="273.950" width="5.170" height="17.650" fill="#0f4a2a"/><rect x="623.280" y="273.950" width="5.170" height="17.650" fill="#35c088"/><rect x="628.400" y="273.950" width="5.170" height="17.650" fill="#0c3820"/><rect x="633.520" y="273.950" width="5.170" height="17.650" fill="#4a4510"/><rect x="638.640" y="273.950" width="5.170" height="17.650" fill="#082015"/><rect x="643.760" y="273.950" width="5.170" height="17.650" fill="#0a0a08"/><rect x="648.880" y="273.950" width="5.170" height="17.650" fill="#208a55"/><line x1="500.400" y1="221.0" x2="500.400" y2="291.6" stroke="#7a6a56" stroke-width="0.3" stroke-opacity="0.9"/><line x1="505.520" y1="221.0" x2="505.520" y2="291.6" stroke="#7a6a56" stroke-width="0.3" stroke-opacity="0.9"/><line x1="510.640" y1="221.0" x2="510.640" y2="291.6" stroke="#7a6a56" stroke-width="0.3" stroke-opacity="0.9"/><line x1="515.760" y1="221.0" x2="515.760" y2="291.6" stroke="#7a6a56" stroke-width="0.3" stroke-opacity="0.9"/><line x1="520.880" y1="221.0" x2="520.880" y2="291.6" stroke="#7a6a56" stroke-width="0.3" stroke-opacity="0.9"/><line x1="526.000" y1="221.0" x2="526.000" y2="291.6" stroke="#7a6a56" stroke-width="0.3" stroke-opacity="0.9"/><line x1="531.120" y1="221.0" x2="531.120" y2="291.6" stroke="#7a6a56" stroke-width="0.3" stroke-opacity="0.9"/><line x1="536.240" y1="221.0" x2="536.240" y2="291.6" stroke="#7a6a56" stroke-width="0.3" stroke-opacity="0.9"/><line x1="541.360" y1="221.0" x2="541.360" y2="291.6" stroke="#7a6a56" stroke-width="0.3" stroke-opacity="0.9"/><line x1="546.480" y1="221.0" x2="546.480" y2="291.6" stroke="#7a6a56" stroke-width="0.3" stroke-opacity="0.9"/><line x1="551.600" y1="221.0" x2="551.600" y2="291.6" stroke="#7a6a56" stroke-width="0.3" stroke-opacity="0.9"/><line x1="556.720" y1="221.0" x2="556.720" y2="291.6" stroke="#7a6a56" stroke-width="0.3" stroke-opacity="0.9"/><line x1="561.840" y1="221.0" x2="561.840" y2="291.6" stroke="#7a6a56" stroke-width="0.3" stroke-opacity="0.9"/><line x1="566.960" y1="221.0" x2="566.960" y2="291.6" stroke="#7a6a56" stroke-width="0.3" stroke-opacity="0.9"/><line x1="572.080" y1="221.0" x2="572.080" y2="291.6" stroke="#7a6a56" stroke-width="0.3" stroke-opacity="0.9"/><line x1="577.200" y1="221.0" x2="577.200" y2="291.6" stroke="#7a6a56" stroke-width="0.3" stroke-opacity="0.9"/><line x1="582.320" y1="221.0" x2="582.320" y2="291.6" stroke="#7a6a56" stroke-width="0.3" stroke-opacity="0.9"/><line x1="587.440" y1="221.0" x2="587.440" y2="291.6" stroke="#7a6a56" stroke-width="0.3" stroke-opacity="0.9"/><line x1="592.560" y1="221.0" x2="592.560" y2="291.6" stroke="#7a6a56" stroke-width="0.3" stroke-opacity="0.9"/><line x1="597.680" y1="221.0" x2="597.680" y2="291.6" stroke="#7a6a56" stroke-width="0.3" stroke-opacity="0.9"/><line x1="602.800" y1="221.0" x2="602.800" y2="291.6" stroke="#7a6a56" stroke-width="0.3" stroke-opacity="0.9"/><line x1="607.920" y1="221.0" x2="607.920" y2="291.6" stroke="#7a6a56" stroke-width="0.3" stroke-opacity="0.9"/><line x1="613.040" y1="221.0" x2="613.040" y2="291.6" stroke="#7a6a56" stroke-width="0.3" stroke-opacity="0.9"/><line x1="618.160" y1="221.0" x2="618.160" y2="291.6" stroke="#7a6a56" stroke-width="0.3" stroke-opacity="0.9"/><line x1="623.280" y1="221.0" x2="623.280" y2="291.6" stroke="#7a6a56" stroke-width="0.3" stroke-opacity="0.9"/><line x1="628.400" y1="221.0" x2="628.400" y2="291.6" stroke="#7a6a56" stroke-width="0.3" stroke-opacity="0.9"/><line x1="633.520" y1="221.0" x2="633.520" y2="291.6" stroke="#7a6a56" stroke-width="0.3" stroke-opacity="0.9"/><line x1="638.640" y1="221.0" x2="638.640" y2="291.6" stroke="#7a6a56" stroke-width="0.3" stroke-opacity="0.9"/><line x1="643.760" y1="221.0" x2="643.760" y2="291.6" stroke="#7a6a56" stroke-width="0.3" stroke-opacity="0.9"/><line x1="648.880" y1="221.0" x2="648.880" y2="291.6" stroke="#7a6a56" stroke-width="0.3" stroke-opacity="0.9"/><line x1="654.000" y1="221.0" x2="654.000" y2="291.6" stroke="#7a6a56" stroke-width="0.3" stroke-opacity="0.9"/><line x1="500.4" y1="221.000" x2="654.0" y2="221.000" stroke="#4e463c" stroke-width="0.5"/><line x1="500.4" y1="238.650" x2="654.0" y2="238.650" stroke="#4e463c" stroke-width="0.5"/><line x1="500.4" y1="256.300" x2="654.0" y2="256.300" stroke="#4e463c" stroke-width="0.5"/><line x1="500.4" y1="273.950" x2="654.0" y2="273.950" stroke="#4e463c" stroke-width="0.5"/><line x1="500.4" y1="291.600" x2="654.0" y2="291.600" stroke="#4e463c" stroke-width="0.5"/><text x="195.0" y="231.825" font-size="4.7" fill="#d0ccc8" text-anchor="start" textLength="12.8" lengthAdjust="spacingAndGlyphs">GULP1</text><text x="195.0" y="249.475" font-size="4.7" fill="#d0ccc8" text-anchor="start" textLength="15.5" lengthAdjust="spacingAndGlyphs">COL4A1</text><text x="195.0" y="267.125" font-size="4.7" fill="#d0ccc8" text-anchor="start" textLength="11.9" lengthAdjust="spacingAndGlyphs">ITGA6</text><text x="195.0" y="284.775" font-size="4.7" fill="#d0ccc8" text-anchor="start" textLength="10.2" lengthAdjust="spacingAndGlyphs">STC1</text><text x="425.0" y="231.825" font-size="4.7" fill="#d0ccc8" text-anchor="start" textLength="15.5" lengthAdjust="spacingAndGlyphs">COL4A1</text><text x="425.0" y="249.475" font-size="4.7" fill="#d0ccc8" text-anchor="start" textLength="10.2" lengthAdjust="spacingAndGlyphs">STC1</text><text x="425.0" y="267.125" font-size="4.7" fill="#d0ccc8" text-anchor="start" textLength="12.8" lengthAdjust="spacingAndGlyphs">GULP1</text><text x="425.0" y="284.775" font-size="4.7" fill="#d0ccc8" text-anchor="start" textLength="11.9" lengthAdjust="spacingAndGlyphs">ITGA6</text><text x="655.0" y="231.825" font-size="4.7" fill="#d0ccc8" text-anchor="start" textLength="12.8" lengthAdjust="spacingAndGlyphs">GULP1</text><text x="655.0" y="249.475" font-size="4.7" fill="#d0ccc8" text-anchor="start" textLength="11.9" lengthAdjust="spacingAndGlyphs">ITGA6</text><text x="655.0" y="267.125" font-size="4.7" fill="#d0ccc8" text-anchor="start" textLength="15.5" lengthAdjust="spacingAndGlyphs">COL4A1</text><text x="655.0" y="284.775" font-size="4.7" fill="#d0ccc8" text-anchor="start" textLength="10.2" lengthAdjust="spacingAndGlyphs">STC1</text><rect x="213.9" y="221.3" width="4.20" height="62.1" fill="url(#cb)"/><text x="219.6" y="225.7" font-size="4.6" fill="#d0ccc8" text-anchor="start">3</text><text x="219.6" y="235.29999999999998" font-size="4.6" fill="#d0ccc8" text-anchor="start">2</text><text x="219.6" y="244.6" font-size="4.6" fill="#d0ccc8" text-anchor="start">1</text><text x="219.6" y="254.1" font-size="4.6" fill="#d0ccc8" text-anchor="start">0</text><text x="219.6" y="263.2" font-size="4.6" fill="#d0ccc8" text-anchor="start">&#8722;1</text><text x="219.6" y="272.5" font-size="4.6" fill="#d0ccc8" text-anchor="start">&#8722;2</text><text x="219.6" y="282.3" font-size="4.6" fill="#d0ccc8" text-anchor="start">&#8722;3</text><rect x="444.0" y="221.3" width="3.80" height="62.1" fill="url(#cb)"/><text x="449.4" y="225.1" font-size="4.6" fill="#d0ccc8" text-anchor="start">4</text><text x="449.4" y="239.7" font-size="4.6" fill="#d0ccc8" text-anchor="start">2</text><text x="449.4" y="254.1" font-size="4.6" fill="#d0ccc8" text-anchor="start">0</text><text x="449.4" y="268.7" font-size="4.6" fill="#d0ccc8" text-anchor="start">&#8722;2</text><text x="449.4" y="282.7" font-size="4.6" fill="#d0ccc8" text-anchor="start">&#8722;4</text><rect x="674.1" y="221.3" width="3.80" height="62.1" fill="url(#cb)"/><text x="679.6" y="229.1" font-size="4.6" fill="#d0ccc8" text-anchor="start">4</text><text x="679.6" y="241.6" font-size="4.6" fill="#d0ccc8" text-anchor="start">2</text><text x="679.6" y="254.29999999999998" font-size="4.6" fill="#d0ccc8" text-anchor="start">0</text><text x="679.6" y="266.7" font-size="4.6" fill="#d0ccc8" text-anchor="start">&#8722;2</text><text x="679.6" y="279.5" font-size="4.6" fill="#d0ccc8" text-anchor="start">&#8722;4</text><polyline points="40.00,229.82 18.40,229.82 18.40,260.70 21.20,260.70" fill="none" stroke="#8e8680" stroke-width="0.9"/><polyline points="40.00,247.47 21.20,247.47 21.20,274.00 21.60,274.00" fill="none" stroke="#8e8680" stroke-width="0.9"/><polyline points="40.00,265.12 21.60,265.12 21.60,282.77 40.00,282.77" fill="none" stroke="#8e8680" stroke-width="0.9"/><polyline points="270.00,229.82 253.40,229.82 253.40,247.47 270.00,247.47" fill="none" stroke="#8e8680" stroke-width="0.9"/><polyline points="270.00,265.12 251.40,265.12 251.40,282.77 270.00,282.77" fill="none" stroke="#8e8680" stroke-width="0.9"/><polyline points="253.40,238.60 248.40,238.60 248.40,274.00 251.40,274.00" fill="none" stroke="#8e8680" stroke-width="0.9"/><polyline points="500.40,229.82 478.40,229.82 478.40,260.70 483.40,260.70" fill="none" stroke="#8e8680" stroke-width="0.9"/><polyline points="500.40,247.47 483.40,247.47 483.40,274.00 486.00,274.00" fill="none" stroke="#8e8680" stroke-width="0.9"/><polyline points="500.40,265.12 486.00,265.12 486.00,282.77 500.40,282.77" fill="none" stroke="#8e8680" stroke-width="0.9"/><rect x="33.9" y="296.1" width="166.1" height="49.39999999999998" fill="none" stroke="#8a807a" stroke-width="1.1"/><line x1="31.099999999999998" y1="339.5" x2="33.9" y2="339.5" stroke="#8a807a" stroke-width="0.9"/><line x1="31.099999999999998" y1="327.1" x2="33.9" y2="327.1" stroke="#8a807a" stroke-width="0.9"/><line x1="31.099999999999998" y1="314.6" x2="33.9" y2="314.6" stroke="#8a807a" stroke-width="0.9"/><line x1="31.099999999999998" y1="302.2" x2="33.9" y2="302.2" stroke="#8a807a" stroke-width="0.9"/><text x="26.8" y="339.5" font-size="5.4" fill="#e4e0dc" text-anchor="middle" transform="rotate(-90 26.8 339.5)">0</text><text x="26.8" y="327.1" font-size="5.4" fill="#e4e0dc" text-anchor="middle" transform="rotate(-90 26.8 327.1)">2</text><text x="26.8" y="314.6" font-size="5.4" fill="#e4e0dc" text-anchor="middle" transform="rotate(-90 26.8 314.6)">4</text><text x="26.8" y="302.2" font-size="5.4" fill="#e4e0dc" text-anchor="middle" transform="rotate(-90 26.8 302.2)">6</text><text x="14.899999999999999" y="320.8" font-size="5.5" fill="#e4e0dc" text-anchor="middle" transform="rotate(-90 14.899999999999999 320.8)">Risk score</text><rect x="37.3" y="300.9" width="2.3" height="2.3" fill="#c8841e"/><rect x="37.3" y="306.7" width="2.3" height="2.3" fill="#22b270"/><text x="43.099999999999994" y="304.1" font-size="4.9" fill="#cdc9c4" text-anchor="start">Survive</text><text x="43.099999999999994" y="309.9" font-size="4.9" fill="#cdc9c4" text-anchor="start">Dead</text><rect x="40.000" y="332.10" width="2.053" height="7.50" fill="#a66a20" stroke="#e4e0d8" stroke-width="0.25" stroke-opacity="0.7"/><rect x="42.053" y="331.30" width="2.053" height="8.30" fill="#26a96e" stroke="#e4e0d8" stroke-width="0.25" stroke-opacity="0.7"/><rect x="44.107" y="331.30" width="2.053" height="8.30" fill="#26a96e" stroke="#e4e0d8" stroke-width="0.25" stroke-opacity="0.7"/><rect x="46.160" y="329.90" width="2.053" height="9.70" fill="#a66a20" stroke="#e4e0d8" stroke-width="0.25" stroke-opacity="0.7"/><rect x="48.213" y="329.90" width="2.053" height="9.70" fill="#a66a20" stroke="#e4e0d8" stroke-width="0.25" stroke-opacity="0.7"/><rect x="50.267" y="329.90" width="2.053" height="9.70" fill="#26a96e" stroke="#e4e0d8" stroke-width="0.25" stroke-opacity="0.7"/><rect x="52.320" y="329.90" width="2.053" height="9.70" fill="#26a96e" stroke="#e4e0d8" stroke-width="0.25" stroke-opacity="0.7"/><rect x="54.373" y="328.00" width="2.053" height="11.60" fill="#a66a20" stroke="#e4e0d8" stroke-width="0.25" stroke-opacity="0.7"/><rect x="56.427" y="328.00" width="2.053" height="11.60" fill="#26a96e" stroke="#e4e0d8" stroke-width="0.25" stroke-opacity="0.7"/><rect x="58.480" y="327.20" width="2.053" height="12.40" fill="#a66a20" stroke="#e4e0d8" stroke-width="0.25" stroke-opacity="0.7"/><rect x="60.533" y="327.20" width="2.053" height="12.40" fill="#26a96e" stroke="#e4e0d8" stroke-width="0.25" stroke-opacity="0.7"/><rect x="62.587" y="327.20" width="2.053" height="12.40" fill="#a66a20" stroke="#e4e0d8" stroke-width="0.25" stroke-opacity="0.7"/><rect x="64.640" y="327.20" width="2.053" height="12.40" fill="#a66a20" stroke="#e4e0d8" stroke-width="0.25" stroke-opacity="0.7"/><rect x="66.693" y="327.20" width="2.053" height="12.40" fill="#a66a20" stroke="#e4e0d8" stroke-width="0.25" stroke-opacity="0.7"/><rect x="68.747" y="327.20" width="2.053" height="12.40" fill="#26a96e" stroke="#e4e0d8" stroke-width="0.25" stroke-opacity="0.7"/><rect x="70.800" y="326.40" width="2.053" height="13.20" fill="#26a96e" stroke="#e4e0d8" stroke-width="0.25" stroke-opacity="0.7"/><rect x="72.853" y="326.40" width="2.053" height="13.20" fill="#a66a20" stroke="#e4e0d8" stroke-width="0.25" stroke-opacity="0.7"/><rect x="74.907" y="326.40" width="2.053" height="13.20" fill="#26a96e" stroke="#e4e0d8" stroke-width="0.25" stroke-opacity="0.7"/><rect x="76.960" y="325.40" width="2.053" height="14.20" fill="#26a96e" stroke="#e4e0d8" stroke-width="0.25" stroke-opacity="0.7"/><rect x="79.013" y="325.40" width="2.053" height="14.20" fill="#a66a20" stroke="#e4e0d8" stroke-width="0.25" stroke-opacity="0.7"/><rect x="81.067" y="324.30" width="2.053" height="15.30" fill="#26a96e" stroke="#e4e0d8" stroke-width="0.25" stroke-opacity="0.7"/><rect x="83.120" y="324.30" width="2.053" height="15.30" fill="#a66a20" stroke="#e4e0d8" stroke-width="0.25" stroke-opacity="0.7"/><rect x="85.173" y="324.30" width="2.053" height="15.30" fill="#26a96e" stroke="#e4e0d8" stroke-width="0.25" stroke-opacity="0.7"/><rect x="87.227" y="324.30" width="2.053" height="15.30" fill="#26a96e" stroke="#e4e0d8" stroke-width="0.25" stroke-opacity="0.7"/><rect x="89.280" y="324.30" width="2.053" height="15.30" fill="#26a96e" stroke="#e4e0d8" stroke-width="0.25" stroke-opacity="0.7"/><rect x="91.333" y="324.30" width="2.053" height="15.30" fill="#a66a20" stroke="#e4e0d8" stroke-width="0.25" stroke-opacity="0.7"/><rect x="93.387" y="323.10" width="2.053" height="16.50" fill="#26a96e" stroke="#e4e0d8" stroke-width="0.25" stroke-opacity="0.7"/><rect x="95.440" y="323.10" width="2.053" height="16.50" fill="#26a96e" stroke="#e4e0d8" stroke-width="0.25" stroke-opacity="0.7"/><rect x="97.493" y="323.10" width="2.053" height="16.50" fill="#26a96e" stroke="#e4e0d8" stroke-width="0.25" stroke-opacity="0.7"/><rect x="99.547" y="323.10" width="2.053" height="16.50" fill="#a66a20" stroke="#e4e0d8" stroke-width="0.25" stroke-opacity="0.7"/><rect x="101.600" y="323.10" width="2.053" height="16.50" fill="#26a96e" stroke="#e4e0d8" stroke-width="0.25" stroke-opacity="0.7"/><rect x="103.653" y="323.10" width="2.053" height="16.50" fill="#26a96e" stroke="#e4e0d8" stroke-width="0.25" stroke-opacity="0.7"/><rect x="105.707" y="323.10" width="2.053" height="16.50" fill="#a66a20" stroke="#e4e0d8" stroke-width="0.25" stroke-opacity="0.7"/><rect x="107.760" y="323.10" width="2.053" height="16.50" fill="#26a96e" stroke="#e4e0d8" stroke-width="0.25" stroke-opacity="0.7"/><rect x="109.813" y="322.00" width="2.053" height="17.60" fill="#26a96e" stroke="#e4e0d8" stroke-width="0.25" stroke-opacity="0.7"/><rect x="111.867" y="322.00" width="2.053" height="17.60" fill="#a66a20" stroke="#e4e0d8" stroke-width="0.25" stroke-opacity="0.7"/><rect x="113.920" y="320.80" width="2.053" height="18.80" fill="#26a96e" stroke="#e4e0d8" stroke-width="0.25" stroke-opacity="0.7"/><rect x="115.973" y="320.80" width="2.053" height="18.80" fill="#a66a20" stroke="#e4e0d8" stroke-width="0.25" stroke-opacity="0.7"/><rect x="118.027" y="320.00" width="2.053" height="19.60" fill="#26a96e" stroke="#e4e0d8" stroke-width="0.25" stroke-opacity="0.7"/><rect x="120.080" y="320.00" width="2.053" height="19.60" fill="#a66a20" stroke="#e4e0d8" stroke-width="0.25" stroke-opacity="0.7"/><rect x="122.133" y="320.00" width="2.053" height="19.60" fill="#a66a20" stroke="#e4e0d8" stroke-width="0.25" stroke-opacity="0.7"/><rect x="124.187" y="320.00" width="2.053" height="19.60" fill="#a66a20" stroke="#e4e0d8" stroke-width="0.25" stroke-opacity="0.7"/><rect x="126.240" y="320.00" width="2.053" height="19.60" fill="#26a96e" stroke="#e4e0d8" stroke-width="0.25" stroke-opacity="0.7"/><rect x="128.293" y="320.00" width="2.053" height="19.60" fill="#26a96e" stroke="#e4e0d8" stroke-width="0.25" stroke-opacity="0.7"/><rect x="130.347" y="319.00" width="2.053" height="20.60" fill="#a66a20" stroke="#e4e0d8" stroke-width="0.25" stroke-opacity="0.7"/><rect x="132.400" y="319.00" width="2.053" height="20.60" fill="#26a96e" stroke="#e4e0d8" stroke-width="0.25" stroke-opacity="0.7"/><rect x="134.453" y="319.00" width="2.053" height="20.60" fill="#a66a20" stroke="#e4e0d8" stroke-width="0.25" stroke-opacity="0.7"/><rect x="136.507" y="318.20" width="2.053" height="21.40" fill="#26a96e" stroke="#e4e0d8" stroke-width="0.25" stroke-opacity="0.7"/><rect x="138.560" y="318.20" width="2.053" height="21.40" fill="#26a96e" stroke="#e4e0d8" stroke-width="0.25" stroke-opacity="0.7"/><rect x="140.613" y="317.00" width="2.053" height="22.60" fill="#26a96e" stroke="#e4e0d8" stroke-width="0.25" stroke-opacity="0.7"/><rect x="142.667" y="317.00" width="2.053" height="22.60" fill="#26a96e" stroke="#e4e0d8" stroke-width="0.25" stroke-opacity="0.7"/><rect x="144.720" y="317.00" width="2.053" height="22.60" fill="#26a96e" stroke="#e4e0d8" stroke-width="0.25" stroke-opacity="0.7"/><rect x="146.773" y="317.00" width="2.053" height="22.60" fill="#26a96e" stroke="#e4e0d8" stroke-width="0.25" stroke-opacity="0.7"/><rect x="148.827" y="317.00" width="2.053" height="22.60" fill="#26a96e" stroke="#e4e0d8" stroke-width="0.25" stroke-opacity="0.7"/><rect x="150.880" y="317.00" width="2.053" height="22.60" fill="#26a96e" stroke="#e4e0d8" stroke-width="0.25" stroke-opacity="0.7"/><rect x="152.933" y="317.00" width="2.053" height="22.60" fill="#26a96e" stroke="#e4e0d8" stroke-width="0.25" stroke-opacity="0.7"/><rect x="154.987" y="317.00" width="2.053" height="22.60" fill="#a66a20" stroke="#e4e0d8" stroke-width="0.25" stroke-opacity="0.7"/><rect x="157.040" y="316.00" width="2.053" height="23.60" fill="#a66a20" stroke="#e4e0d8" stroke-width="0.25" stroke-opacity="0.7"/><rect x="159.093" y="316.00" width="2.053" height="23.60" fill="#26a96e" stroke="#e4e0d8" stroke-width="0.25" stroke-opacity="0.7"/><rect x="161.147" y="316.00" width="2.053" height="23.60" fill="#26a96e" stroke="#e4e0d8" stroke-width="0.25" stroke-opacity="0.7"/><rect x="163.200" y="316.00" width="2.053" height="23.60" fill="#26a96e" stroke="#e4e0d8" stroke-width="0.25" stroke-opacity="0.7"/><rect x="165.253" y="315.20" width="2.053" height="24.40" fill="#26a96e" stroke="#e4e0d8" stroke-width="0.25" stroke-opacity="0.7"/><rect x="167.307" y="315.20" width="2.053" height="24.40" fill="#a66a20" stroke="#e4e0d8" stroke-width="0.25" stroke-opacity="0.7"/><rect x="169.360" y="315.20" width="2.053" height="24.40" fill="#26a96e" stroke="#e4e0d8" stroke-width="0.25" stroke-opacity="0.7"/><rect x="171.413" y="315.20" width="2.053" height="24.40" fill="#26a96e" stroke="#e4e0d8" stroke-width="0.25" stroke-opacity="0.7"/><rect x="173.467" y="314.00" width="2.053" height="25.60" fill="#26a96e" stroke="#e4e0d8" stroke-width="0.25" stroke-opacity="0.7"/><rect x="175.520" y="314.00" width="2.053" height="25.60" fill="#26a96e" stroke="#e4e0d8" stroke-width="0.25" stroke-opacity="0.7"/><rect x="177.573" y="313.00" width="2.053" height="26.60" fill="#26a96e" stroke="#e4e0d8" stroke-width="0.25" stroke-opacity="0.7"/><rect x="179.627" y="313.00" width="2.053" height="26.60" fill="#a66a20" stroke="#e4e0d8" stroke-width="0.25" stroke-opacity="0.7"/><rect x="181.680" y="313.00" width="2.053" height="26.60" fill="#26a96e" stroke="#e4e0d8" stroke-width="0.25" stroke-opacity="0.7"/><rect x="183.733" y="312.00" width="2.053" height="27.60" fill="#26a96e" stroke="#e4e0d8" stroke-width="0.25" stroke-opacity="0.7"/><rect x="185.787" y="312.00" width="2.053" height="27.60" fill="#26a96e" stroke="#e4e0d8" stroke-width="0.25" stroke-opacity="0.7"/><rect x="187.840" y="311.20" width="2.053" height="28.40" fill="#26a96e" stroke="#e4e0d8" stroke-width="0.25" stroke-opacity="0.7"/><rect x="189.893" y="310.30" width="2.053" height="29.30" fill="#26a96e" stroke="#e4e0d8" stroke-width="0.25" stroke-opacity="0.7"/><rect x="191.947" y="309.30" width="2.053" height="30.30" fill="#26a96e" stroke="#e4e0d8" stroke-width="0.25" stroke-opacity="0.7"/><rect x="264.0" y="296.1" width="166.39999999999998" height="49.39999999999998" fill="none" stroke="#8a807a" stroke-width="1.1"/><line x1="261.2" y1="339.5" x2="264.0" y2="339.5" stroke="#8a807a" stroke-width="0.9"/><line x1="261.2" y1="327.1" x2="264.0" y2="327.1" stroke="#8a807a" stroke-width="0.9"/><line x1="261.2" y1="314.6" x2="264.0" y2="314.6" stroke="#8a807a" stroke-width="0.9"/><line x1="261.2" y1="302.2" x2="264.0" y2="302.2" stroke="#8a807a" stroke-width="0.9"/><text x="256.8" y="339.5" font-size="5.4" fill="#e4e0dc" text-anchor="middle" transform="rotate(-90 256.8 339.5)">0</text><text x="256.8" y="327.1" font-size="5.4" fill="#e4e0dc" text-anchor="middle" transform="rotate(-90 256.8 327.1)">2</text><text x="256.8" y="314.6" font-size="5.4" fill="#e4e0dc" text-anchor="middle" transform="rotate(-90 256.8 314.6)">4</text><text x="256.8" y="302.2" font-size="5.4" fill="#e4e0dc" text-anchor="middle" transform="rotate(-90 256.8 302.2)">6</text><text x="245.0" y="320.8" font-size="5.5" fill="#e4e0dc" text-anchor="middle" transform="rotate(-90 245.0 320.8)">Risk score</text><rect x="267.4" y="300.9" width="2.3" height="2.3" fill="#c8841e"/><rect x="267.4" y="306.7" width="2.3" height="2.3" fill="#22b270"/><text x="273.2" y="304.1" font-size="4.9" fill="#cdc9c4" text-anchor="start">Survive</text><text x="273.2" y="309.9" font-size="4.9" fill="#cdc9c4" text-anchor="start">Dead</text><rect x="270.000" y="326.10" width="1.384" height="13.50" fill="#a66a20" stroke="#e4e0d8" stroke-width="0.42" stroke-opacity="0.7"/><rect x="271.384" y="321.90" width="1.384" height="17.70" fill="#a66a20" stroke="#e4e0d8" stroke-width="0.42" stroke-opacity="0.7"/><rect x="272.768" y="321.90" width="1.384" height="17.70" fill="#a66a20" stroke="#e4e0d8" stroke-width="0.42" stroke-opacity="0.7"/><rect x="274.151" y="319.00" width="1.384" height="20.60" fill="#a66a20" stroke="#e4e0d8" stroke-width="0.42" stroke-opacity="0.7"/><rect x="275.535" y="317.60" width="1.384" height="22.00" fill="#a66a20" stroke="#e4e0d8" stroke-width="0.42" stroke-opacity="0.7"/><rect x="276.919" y="317.60" width="1.384" height="22.00" fill="#a66a20" stroke="#e4e0d8" stroke-width="0.42" stroke-opacity="0.7"/><rect x="278.303" y="317.00" width="1.384" height="22.60" fill="#26a96e" stroke="#e4e0d8" stroke-width="0.42" stroke-opacity="0.7"/><rect x="279.686" y="317.00" width="1.384" height="22.60" fill="#a66a20" stroke="#e4e0d8" stroke-width="0.42" stroke-opacity="0.7"/><rect x="281.070" y="317.00" width="1.384" height="22.60" fill="#a66a20" stroke="#e4e0d8" stroke-width="0.42" stroke-opacity="0.7"/><rect x="282.454" y="317.00" width="1.384" height="22.60" fill="#a66a20" stroke="#e4e0d8" stroke-width="0.42" stroke-opacity="0.7"/><rect x="283.838" y="317.00" width="1.384" height="22.60" fill="#a66a20" stroke="#e4e0d8" stroke-width="0.42" stroke-opacity="0.7"/><rect x="285.222" y="316.40" width="1.384" height="23.20" fill="#26a96e" stroke="#e4e0d8" stroke-width="0.42" stroke-opacity="0.7"/><rect x="286.605" y="316.40" width="1.384" height="23.20" fill="#a66a20" stroke="#e4e0d8" stroke-width="0.42" stroke-opacity="0.7"/><rect x="287.989" y="316.40" width="1.384" height="23.20" fill="#a66a20" stroke="#e4e0d8" stroke-width="0.42" stroke-opacity="0.7"/><rect x="289.373" y="316.40" width="1.384" height="23.20" fill="#a66a20" stroke="#e4e0d8" stroke-width="0.42" stroke-opacity="0.7"/><rect x="290.757" y="316.40" width="1.384" height="23.20" fill="#26a96e" stroke="#e4e0d8" stroke-width="0.42" stroke-opacity="0.7"/><rect x="292.141" y="315.30" width="1.384" height="24.30" fill="#a66a20" stroke="#e4e0d8" stroke-width="0.42" stroke-opacity="0.7"/><rect x="293.524" y="315.30" width="1.384" height="24.30" fill="#26a96e" stroke="#e4e0d8" stroke-width="0.42" stroke-opacity="0.7"/><rect x="294.908" y="315.30" width="1.384" height="24.30" fill="#26a96e" stroke="#e4e0d8" stroke-width="0.42" stroke-opacity="0.7"/><rect x="296.292" y="315.30" width="1.384" height="24.30" fill="#26a96e" stroke="#e4e0d8" stroke-width="0.42" stroke-opacity="0.7"/><rect x="297.676" y="315.30" width="1.384" height="24.30" fill="#a66a20" stroke="#e4e0d8" stroke-width="0.42" stroke-opacity="0.7"/><rect x="299.059" y="314.50" width="1.384" height="25.10" fill="#26a96e" stroke="#e4e0d8" stroke-width="0.42" stroke-opacity="0.7"/><rect x="300.443" y="314.50" width="1.384" height="25.10" fill="#26a96e" stroke="#e4e0d8" stroke-width="0.42" stroke-opacity="0.7"/><rect x="301.827" y="314.50" width="1.384" height="25.10" fill="#26a96e" stroke="#e4e0d8" stroke-width="0.42" stroke-opacity="0.7"/><rect x="303.211" y="314.50" width="1.384" height="25.10" fill="#a66a20" stroke="#e4e0d8" stroke-width="0.42" stroke-opacity="0.7"/><rect x="304.595" y="313.30" width="1.384" height="26.30" fill="#26a96e" stroke="#e4e0d8" stroke-width="0.42" stroke-opacity="0.7"/><rect x="305.978" y="313.30" width="1.384" height="26.30" fill="#a66a20" stroke="#e4e0d8" stroke-width="0.42" stroke-opacity="0.7"/><rect x="307.362" y="313.30" width="1.384" height="26.30" fill="#26a96e" stroke="#e4e0d8" stroke-width="0.42" stroke-opacity="0.7"/><rect x="308.746" y="313.30" width="1.384" height="26.30" fill="#a66a20" stroke="#e4e0d8" stroke-width="0.42" stroke-opacity="0.7"/><rect x="310.130" y="313.30" width="1.384" height="26.30" fill="#26a96e" stroke="#e4e0d8" stroke-width="0.42" stroke-opacity="0.7"/><rect x="311.514" y="313.30" width="1.384" height="26.30" fill="#26a96e" stroke="#e4e0d8" stroke-width="0.42" stroke-opacity="0.7"/><rect x="312.897" y="313.30" width="1.384" height="26.30" fill="#26a96e" stroke="#e4e0d8" stroke-width="0.42" stroke-opacity="0.7"/><rect x="314.281" y="313.30" width="1.384" height="26.30" fill="#26a96e" stroke="#e4e0d8" stroke-width="0.42" stroke-opacity="0.7"/><rect x="315.665" y="313.30" width="1.384" height="26.30" fill="#a66a20" stroke="#e4e0d8" stroke-width="0.42" stroke-opacity="0.7"/><rect x="317.049" y="312.40" width="1.384" height="27.20" fill="#26a96e" stroke="#e4e0d8" stroke-width="0.42" stroke-opacity="0.7"/><rect x="318.432" y="312.40" width="1.384" height="27.20" fill="#a66a20" stroke="#e4e0d8" stroke-width="0.42" stroke-opacity="0.7"/><rect x="319.816" y="312.40" width="1.384" height="27.20" fill="#26a96e" stroke="#e4e0d8" stroke-width="0.42" stroke-opacity="0.7"/><rect x="321.200" y="312.40" width="1.384" height="27.20" fill="#a66a20" stroke="#e4e0d8" stroke-width="0.42" stroke-opacity="0.7"/><rect x="322.584" y="312.40" width="1.384" height="27.20" fill="#a66a20" stroke="#e4e0d8" stroke-width="0.42" stroke-opacity="0.7"/><rect x="323.968" y="312.40" width="1.384" height="27.20" fill="#a66a20" stroke="#e4e0d8" stroke-width="0.42" stroke-opacity="0.7"/><rect x="325.351" y="311.50" width="1.384" height="28.10" fill="#26a96e" stroke="#e4e0d8" stroke-width="0.42" stroke-opacity="0.7"/><rect x="326.735" y="311.50" width="1.384" height="28.10" fill="#a66a20" stroke="#e4e0d8" stroke-width="0.42" stroke-opacity="0.7"/><rect x="328.119" y="311.00" width="1.384" height="28.60" fill="#26a96e" stroke="#e4e0d8" stroke-width="0.42" stroke-opacity="0.7"/><rect x="329.503" y="311.00" width="1.384" height="28.60" fill="#26a96e" stroke="#e4e0d8" stroke-width="0.42" stroke-opacity="0.7"/><rect x="330.886" y="311.00" width="1.384" height="28.60" fill="#26a96e" stroke="#e4e0d8" stroke-width="0.42" stroke-opacity="0.7"/><rect x="332.270" y="311.00" width="1.384" height="28.60" fill="#a66a20" stroke="#e4e0d8" stroke-width="0.42" stroke-opacity="0.7"/><rect x="333.654" y="311.00" width="1.384" height="28.60" fill="#a66a20" stroke="#e4e0d8" stroke-width="0.42" stroke-opacity="0.7"/><rect x="335.038" y="311.00" width="1.384" height="28.60" fill="#26a96e" stroke="#e4e0d8" stroke-width="0.42" stroke-opacity="0.7"/><rect x="336.422" y="311.00" width="1.384" height="28.60" fill="#26a96e" stroke="#e4e0d8" stroke-width="0.42" stroke-opacity="0.7"/><rect x="337.805" y="311.00" width="1.384" height="28.60" fill="#26a96e" stroke="#e4e0d8" stroke-width="0.42" stroke-opacity="0.7"/><rect x="339.189" y="311.00" width="1.384" height="28.60" fill="#26a96e" stroke="#e4e0d8" stroke-width="0.42" stroke-opacity="0.7"/><rect x="340.573" y="310.20" width="1.384" height="29.40" fill="#a66a20" stroke="#e4e0d8" stroke-width="0.42" stroke-opacity="0.7"/><rect x="341.957" y="310.20" width="1.384" height="29.40" fill="#26a96e" stroke="#e4e0d8" stroke-width="0.42" stroke-opacity="0.7"/><rect x="343.341" y="310.20" width="1.384" height="29.40" fill="#26a96e" stroke="#e4e0d8" stroke-width="0.42" stroke-opacity="0.7"/><rect x="344.724" y="310.20" width="1.384" height="29.40" fill="#a66a20" stroke="#e4e0d8" stroke-width="0.42" stroke-opacity="0.7"/><rect x="346.108" y="310.20" width="1.384" height="29.40" fill="#26a96e" stroke="#e4e0d8" stroke-width="0.42" stroke-opacity="0.7"/><rect x="347.492" y="310.20" width="1.384" height="29.40" fill="#26a96e" stroke="#e4e0d8" stroke-width="0.42" stroke-opacity="0.7"/><rect x="348.876" y="309.40" width="1.384" height="30.20" fill="#26a96e" stroke="#e4e0d8" stroke-width="0.42" stroke-opacity="0.7"/><rect x="350.259" y="309.40" width="1.384" height="30.20" fill="#26a96e" stroke="#e4e0d8" stroke-width="0.42" stroke-opacity="0.7"/><rect x="351.643" y="309.40" width="1.384" height="30.20" fill="#a66a20" stroke="#e4e0d8" stroke-width="0.42" stroke-opacity="0.7"/><rect x="353.027" y="309.40" width="1.384" height="30.20" fill="#26a96e" stroke="#e4e0d8" stroke-width="0.42" stroke-opacity="0.7"/><rect x="354.411" y="309.40" width="1.384" height="30.20" fill="#a66a20" stroke="#e4e0d8" stroke-width="0.42" stroke-opacity="0.7"/><rect x="355.795" y="309.40" width="1.384" height="30.20" fill="#26a96e" stroke="#e4e0d8" stroke-width="0.42" stroke-opacity="0.7"/><rect x="357.178" y="308.50" width="1.384" height="31.10" fill="#a66a20" stroke="#e4e0d8" stroke-width="0.42" stroke-opacity="0.7"/><rect x="358.562" y="308.50" width="1.384" height="31.10" fill="#26a96e" stroke="#e4e0d8" stroke-width="0.42" stroke-opacity="0.7"/><rect x="359.946" y="308.50" width="1.384" height="31.10" fill="#a66a20" stroke="#e4e0d8" stroke-width="0.42" stroke-opacity="0.7"/><rect x="361.330" y="308.50" width="1.384" height="31.10" fill="#26a96e" stroke="#e4e0d8" stroke-width="0.42" stroke-opacity="0.7"/><rect x="362.714" y="308.50" width="1.384" height="31.10" fill="#26a96e" stroke="#e4e0d8" stroke-width="0.42" stroke-opacity="0.7"/><rect x="364.097" y="308.50" width="1.384" height="31.10" fill="#26a96e" stroke="#e4e0d8" stroke-width="0.42" stroke-opacity="0.7"/><rect x="365.481" y="307.60" width="1.384" height="32.00" fill="#26a96e" stroke="#e4e0d8" stroke-width="0.42" stroke-opacity="0.7"/><rect x="366.865" y="307.60" width="1.384" height="32.00" fill="#26a96e" stroke="#e4e0d8" stroke-width="0.42" stroke-opacity="0.7"/><rect x="368.249" y="307.60" width="1.384" height="32.00" fill="#26a96e" stroke="#e4e0d8" stroke-width="0.42" stroke-opacity="0.7"/><rect x="369.632" y="307.60" width="1.384" height="32.00" fill="#a66a20" stroke="#e4e0d8" stroke-width="0.42" stroke-opacity="0.7"/><rect x="371.016" y="307.60" width="1.384" height="32.00" fill="#a66a20" stroke="#e4e0d8" stroke-width="0.42" stroke-opacity="0.7"/><rect x="372.400" y="307.60" width="1.384" height="32.00" fill="#a66a20" stroke="#e4e0d8" stroke-width="0.42" stroke-opacity="0.7"/><rect x="373.784" y="306.80" width="1.384" height="32.80" fill="#26a96e" stroke="#e4e0d8" stroke-width="0.42" stroke-opacity="0.7"/><rect x="375.168" y="306.80" width="1.384" height="32.80" fill="#26a96e" stroke="#e4e0d8" stroke-width="0.42" stroke-opacity="0.7"/><rect x="376.551" y="306.80" width="1.384" height="32.80" fill="#a66a20" stroke="#e4e0d8" stroke-width="0.42" stroke-opacity="0.7"/><rect x="377.935" y="306.80" width="1.384" height="32.80" fill="#26a96e" stroke="#e4e0d8" stroke-width="0.42" stroke-opacity="0.7"/><rect x="379.319" y="306.80" width="1.384" height="32.80" fill="#a66a20" stroke="#e4e0d8" stroke-width="0.42" stroke-opacity="0.7"/><rect x="380.703" y="306.80" width="1.384" height="32.80" fill="#26a96e" stroke="#e4e0d8" stroke-width="0.42" stroke-opacity="0.7"/><rect x="382.086" y="305.90" width="1.384" height="33.70" fill="#26a96e" stroke="#e4e0d8" stroke-width="0.42" stroke-opacity="0.7"/><rect x="383.470" y="305.90" width="1.384" height="33.70" fill="#26a96e" stroke="#e4e0d8" stroke-width="0.42" stroke-opacity="0.7"/><rect x="384.854" y="305.90" width="1.384" height="33.70" fill="#26a96e" stroke="#e4e0d8" stroke-width="0.42" stroke-opacity="0.7"/><rect x="386.238" y="305.90" width="1.384" height="33.70" fill="#26a96e" stroke="#e4e0d8" stroke-width="0.42" stroke-opacity="0.7"/><rect x="387.622" y="305.90" width="1.384" height="33.70" fill="#26a96e" stroke="#e4e0d8" stroke-width="0.42" stroke-opacity="0.7"/><rect x="389.005" y="305.90" width="1.384" height="33.70" fill="#26a96e" stroke="#e4e0d8" stroke-width="0.42" stroke-opacity="0.7"/><rect x="390.389" y="305.90" width="1.384" height="33.70" fill="#a66a20" stroke="#e4e0d8" stroke-width="0.42" stroke-opacity="0.7"/><rect x="391.773" y="305.10" width="1.384" height="34.50" fill="#26a96e" stroke="#e4e0d8" stroke-width="0.42" stroke-opacity="0.7"/><rect x="393.157" y="305.10" width="1.384" height="34.50" fill="#26a96e" stroke="#e4e0d8" stroke-width="0.42" stroke-opacity="0.7"/><rect x="394.541" y="305.10" width="1.384" height="34.50" fill="#26a96e" stroke="#e4e0d8" stroke-width="0.42" stroke-opacity="0.7"/><rect x="395.924" y="305.10" width="1.384" height="34.50" fill="#a66a20" stroke="#e4e0d8" stroke-width="0.42" stroke-opacity="0.7"/><rect x="397.308" y="305.10" width="1.384" height="34.50" fill="#a66a20" stroke="#e4e0d8" stroke-width="0.42" stroke-opacity="0.7"/><rect x="398.692" y="304.30" width="1.384" height="35.30" fill="#a66a20" stroke="#e4e0d8" stroke-width="0.42" stroke-opacity="0.7"/><rect x="400.076" y="304.30" width="1.384" height="35.30" fill="#26a96e" stroke="#e4e0d8" stroke-width="0.42" stroke-opacity="0.7"/><rect x="401.459" y="304.30" width="1.384" height="35.30" fill="#a66a20" stroke="#e4e0d8" stroke-width="0.42" stroke-opacity="0.7"/><rect x="402.843" y="304.30" width="1.384" height="35.30" fill="#a66a20" stroke="#e4e0d8" stroke-width="0.42" stroke-opacity="0.7"/><rect x="404.227" y="303.40" width="1.384" height="36.20" fill="#26a96e" stroke="#e4e0d8" stroke-width="0.42" stroke-opacity="0.7"/><rect x="405.611" y="303.40" width="1.384" height="36.20" fill="#26a96e" stroke="#e4e0d8" stroke-width="0.42" stroke-opacity="0.7"/><rect x="406.995" y="303.40" width="1.384" height="36.20" fill="#26a96e" stroke="#e4e0d8" stroke-width="0.42" stroke-opacity="0.7"/><rect x="408.378" y="303.40" width="1.384" height="36.20" fill="#a66a20" stroke="#e4e0d8" stroke-width="0.42" stroke-opacity="0.7"/><rect x="409.762" y="303.40" width="1.384" height="36.20" fill="#a66a20" stroke="#e4e0d8" stroke-width="0.42" stroke-opacity="0.7"/><rect x="411.146" y="301.80" width="1.384" height="37.80" fill="#26a96e" stroke="#e4e0d8" stroke-width="0.42" stroke-opacity="0.7"/><rect x="412.530" y="301.80" width="1.384" height="37.80" fill="#a66a20" stroke="#e4e0d8" stroke-width="0.42" stroke-opacity="0.7"/><rect x="413.914" y="301.80" width="1.384" height="37.80" fill="#26a96e" stroke="#e4e0d8" stroke-width="0.42" stroke-opacity="0.7"/><rect x="415.297" y="301.00" width="1.384" height="38.60" fill="#a66a20" stroke="#e4e0d8" stroke-width="0.42" stroke-opacity="0.7"/><rect x="416.681" y="301.00" width="1.384" height="38.60" fill="#26a96e" stroke="#e4e0d8" stroke-width="0.42" stroke-opacity="0.7"/><rect x="418.065" y="301.00" width="1.384" height="38.60" fill="#26a96e" stroke="#e4e0d8" stroke-width="0.42" stroke-opacity="0.7"/><rect x="419.449" y="301.00" width="1.384" height="38.60" fill="#26a96e" stroke="#e4e0d8" stroke-width="0.42" stroke-opacity="0.7"/><rect x="420.832" y="300.20" width="1.384" height="39.40" fill="#26a96e" stroke="#e4e0d8" stroke-width="0.42" stroke-opacity="0.7"/><rect x="422.216" y="300.20" width="1.384" height="39.40" fill="#a66a20" stroke="#e4e0d8" stroke-width="0.42" stroke-opacity="0.7"/><rect x="494.4" y="296.4" width="165.20000000000005" height="49.10000000000002" fill="none" stroke="#8a807a" stroke-width="1.1"/><line x1="491.59999999999997" y1="341.6" x2="494.4" y2="341.6" stroke="#8a807a" stroke-width="0.9"/><line x1="491.59999999999997" y1="333.42" x2="494.4" y2="333.42" stroke="#8a807a" stroke-width="0.9"/><line x1="491.59999999999997" y1="325.24" x2="494.4" y2="325.24" stroke="#8a807a" stroke-width="0.9"/><line x1="491.59999999999997" y1="317.06" x2="494.4" y2="317.06" stroke="#8a807a" stroke-width="0.9"/><line x1="491.59999999999997" y1="308.88" x2="494.4" y2="308.88" stroke="#8a807a" stroke-width="0.9"/><line x1="491.59999999999997" y1="300.70000000000005" x2="494.4" y2="300.70000000000005" stroke="#8a807a" stroke-width="0.9"/><text x="487.2" y="342.1" font-size="5.4" fill="#e4e0dc" text-anchor="middle" transform="rotate(-90 487.2 342.1)">0.0</text><text x="487.2" y="325.7" font-size="5.4" fill="#e4e0dc" text-anchor="middle" transform="rotate(-90 487.2 325.7)">0.4</text><text x="487.2" y="309.4" font-size="5.4" fill="#e4e0dc" text-anchor="middle" transform="rotate(-90 487.2 309.4)">0.8</text><text x="475.4" y="320.8" font-size="5.5" fill="#e4e0dc" text-anchor="middle" transform="rotate(-90 475.4 320.8)">Risk score</text><rect x="497.79999999999995" y="300.9" width="2.3" height="2.3" fill="#c8841e"/><rect x="497.79999999999995" y="306.7" width="2.3" height="2.3" fill="#22b270"/><text x="503.59999999999997" y="304.1" font-size="4.9" fill="#cdc9c4" text-anchor="start">Survive</text><text x="503.59999999999997" y="309.9" font-size="4.9" fill="#cdc9c4" text-anchor="start">Dead</text><rect x="500.400" y="341.60" width="5.120" height="2.00" fill="#26a96e" stroke="#d8d4cc" stroke-width="0.35" stroke-opacity="0.7"/><rect x="505.520" y="341.60" width="5.120" height="2.00" fill="#26a96e" stroke="#d8d4cc" stroke-width="0.35" stroke-opacity="0.7"/><rect x="510.640" y="341.50" width="5.120" height="0.30" fill="#a66a20" stroke="#d8d4cc" stroke-width="0.35" stroke-opacity="0.7"/><rect x="515.760" y="341.40" width="5.120" height="0.30" fill="#a66a20" stroke="#d8d4cc" stroke-width="0.35" stroke-opacity="0.7"/><rect x="520.880" y="341.30" width="5.120" height="0.30" fill="#a66a20" stroke="#d8d4cc" stroke-width="0.35" stroke-opacity="0.7"/><rect x="526.000" y="341.30" width="5.120" height="0.30" fill="#a66a20" stroke="#d8d4cc" stroke-width="0.35" stroke-opacity="0.7"/><rect x="531.120" y="341.20" width="5.120" height="0.40" fill="#a66a20" stroke="#d8d4cc" stroke-width="0.35" stroke-opacity="0.7"/><rect x="536.240" y="341.10" width="5.120" height="0.50" fill="#a66a20" stroke="#d8d4cc" stroke-width="0.35" stroke-opacity="0.7"/><rect x="541.360" y="341.00" width="5.120" height="0.60" fill="#26a96e" stroke="#d8d4cc" stroke-width="0.35" stroke-opacity="0.7"/><rect x="546.480" y="341.30" width="5.120" height="0.30" fill="#26a96e" stroke="#d8d4cc" stroke-width="0.35" stroke-opacity="0.7"/><rect x="551.600" y="341.20" width="5.120" height="0.40" fill="#a66a20" stroke="#d8d4cc" stroke-width="0.35" stroke-opacity="0.7"/><rect x="556.720" y="340.80" width="5.120" height="0.80" fill="#a66a20" stroke="#d8d4cc" stroke-width="0.35" stroke-opacity="0.7"/><rect x="561.840" y="340.60" width="5.120" height="1.00" fill="#a66a20" stroke="#d8d4cc" stroke-width="0.35" stroke-opacity="0.7"/><rect x="566.960" y="340.40" width="5.120" height="1.20" fill="#a66a20" stroke="#d8d4cc" stroke-width="0.35" stroke-opacity="0.7"/><rect x="572.080" y="339.20" width="5.120" height="2.40" fill="#26a96e" stroke="#d8d4cc" stroke-width="0.35" stroke-opacity="0.7"/><rect x="577.200" y="338.80" width="5.120" height="2.80" fill="#a66a20" stroke="#d8d4cc" stroke-width="0.35" stroke-opacity="0.7"/><rect x="582.320" y="337.60" width="5.120" height="4.00" fill="#26a96e" stroke="#d8d4cc" stroke-width="0.35" stroke-opacity="0.7"/><rect x="587.440" y="336.80" width="5.120" height="4.80" fill="#26a96e" stroke="#d8d4cc" stroke-width="0.35" stroke-opacity="0.7"/><rect x="592.560" y="336.20" width="5.120" height="5.40" fill="#a66a20" stroke="#d8d4cc" stroke-width="0.35" stroke-opacity="0.7"/><rect x="597.680" y="335.20" width="5.120" height="6.40" fill="#a66a20" stroke="#d8d4cc" stroke-width="0.35" stroke-opacity="0.7"/><rect x="602.800" y="334.80" width="5.120" height="6.80" fill="#26a96e" stroke="#d8d4cc" stroke-width="0.35" stroke-opacity="0.7"/><rect x="607.920" y="334.00" width="5.120" height="7.60" fill="#26a96e" stroke="#d8d4cc" stroke-width="0.35" stroke-opacity="0.7"/><rect x="613.040" y="330.00" width="5.120" height="11.60" fill="#26a96e" stroke="#d8d4cc" stroke-width="0.35" stroke-opacity="0.7"/><rect x="618.160" y="327.60" width="5.120" height="14.00" fill="#26a96e" stroke="#d8d4cc" stroke-width="0.35" stroke-opacity="0.7"/><rect x="623.280" y="326.20" width="5.120" height="15.40" fill="#26a96e" stroke="#d8d4cc" stroke-width="0.35" stroke-opacity="0.7"/><rect x="628.400" y="321.40" width="5.120" height="20.20" fill="#a66a20" stroke="#d8d4cc" stroke-width="0.35" stroke-opacity="0.7"/><rect x="633.520" y="321.00" width="5.120" height="20.60" fill="#a66a20" stroke="#d8d4cc" stroke-width="0.35" stroke-opacity="0.7"/><rect x="638.640" y="306.00" width="5.120" height="35.60" fill="#26a96e" stroke="#d8d4cc" stroke-width="0.35" stroke-opacity="0.7"/><rect x="643.760" y="300.80" width="5.120" height="40.80" fill="#26a96e" stroke="#d8d4cc" stroke-width="0.35" stroke-opacity="0.7"/><rect x="648.880" y="300.20" width="5.120" height="41.40" fill="#26a96e" stroke="#d8d4cc" stroke-width="0.35" stroke-opacity="0.7"/><rect x="53.6" y="388.8" width="135.40" height="134.80" fill="none" stroke="#dcd8d4" stroke-width="1.3"/><line x1="48.800000000000004" y1="518.6" x2="53.6" y2="518.6" stroke="#dcd8d4" stroke-width="1.2"/><text x="42.400000000000006" y="519.3000000000001" font-size="6.5" fill="#dcd8d4" text-anchor="middle" transform="rotate(-90 42.400000000000006 519.3000000000001)" textLength="8.9" lengthAdjust="spacingAndGlyphs">0.0</text><line x1="58.6" y1="523.6" x2="58.6" y2="528.6" stroke="#dcd8d4" stroke-width="1.2"/><text x="58.6" y="540.7" font-size="7.3" fill="#dcd8d4" text-anchor="middle" textLength="9.2" lengthAdjust="spacingAndGlyphs">0.0</text><line x1="48.800000000000004" y1="493.6" x2="53.6" y2="493.6" stroke="#dcd8d4" stroke-width="1.2"/><text x="42.400000000000006" y="494.3" font-size="6.5" fill="#dcd8d4" text-anchor="middle" transform="rotate(-90 42.400000000000006 494.3)" textLength="8.9" lengthAdjust="spacingAndGlyphs">0.2</text><line x1="83.6" y1="523.6" x2="83.6" y2="528.6" stroke="#dcd8d4" stroke-width="1.2"/><text x="83.6" y="540.7" font-size="7.3" fill="#dcd8d4" text-anchor="middle" textLength="9.2" lengthAdjust="spacingAndGlyphs">0.2</text><line x1="48.800000000000004" y1="468.6" x2="53.6" y2="468.6" stroke="#dcd8d4" stroke-width="1.2"/><text x="42.400000000000006" y="469.3" font-size="6.5" fill="#dcd8d4" text-anchor="middle" transform="rotate(-90 42.400000000000006 469.3)" textLength="8.9" lengthAdjust="spacingAndGlyphs">0.4</text><line x1="108.6" y1="523.6" x2="108.6" y2="528.6" stroke="#dcd8d4" stroke-width="1.2"/><text x="108.6" y="540.7" font-size="7.3" fill="#dcd8d4" text-anchor="middle" textLength="9.2" lengthAdjust="spacingAndGlyphs">0.4</text><line x1="48.800000000000004" y1="443.6" x2="53.6" y2="443.6" stroke="#dcd8d4" stroke-width="1.2"/><text x="42.400000000000006" y="444.3" font-size="6.5" fill="#dcd8d4" text-anchor="middle" transform="rotate(-90 42.400000000000006 444.3)" textLength="8.9" lengthAdjust="spacingAndGlyphs">0.6</text><line x1="133.60000000000002" y1="523.6" x2="133.60000000000002" y2="528.6" stroke="#dcd8d4" stroke-width="1.2"/><text x="133.60000000000002" y="540.7" font-size="7.3" fill="#dcd8d4" text-anchor="middle" textLength="9.2" lengthAdjust="spacingAndGlyphs">0.6</text><line x1="48.800000000000004" y1="418.6" x2="53.6" y2="418.6" stroke="#dcd8d4" stroke-width="1.2"/><text x="42.400000000000006" y="419.3" font-size="6.5" fill="#dcd8d4" text-anchor="middle" transform="rotate(-90 42.400000000000006 419.3)" textLength="8.9" lengthAdjust="spacingAndGlyphs">0.8</text><line x1="158.6" y1="523.6" x2="158.6" y2="528.6" stroke="#dcd8d4" stroke-width="1.2"/><text x="158.6" y="540.7" font-size="7.3" fill="#dcd8d4" text-anchor="middle" textLength="9.2" lengthAdjust="spacingAndGlyphs">0.8</text><line x1="48.800000000000004" y1="393.6" x2="53.6" y2="393.6" stroke="#dcd8d4" stroke-width="1.2"/><text x="42.400000000000006" y="394.70000000000005" font-size="6.5" fill="#dcd8d4" text-anchor="middle" transform="rotate(-90 42.400000000000006 394.70000000000005)" textLength="7.8" lengthAdjust="spacingAndGlyphs">1.0</text><line x1="183.6" y1="523.6" x2="183.6" y2="528.6" stroke="#dcd8d4" stroke-width="1.2"/><text x="183.6" y="540.7" font-size="7.3" fill="#dcd8d4" text-anchor="middle" textLength="9.2" lengthAdjust="spacingAndGlyphs">1.0</text><text x="24.6" y="457.2" font-size="7.6" fill="#dcd8d4" text-anchor="middle" transform="rotate(-90 24.6 457.2)" textLength="32.5" lengthAdjust="spacingAndGlyphs">Sensitivity</text><text x="120.30000000000001" y="559.0" font-size="7.5" fill="#dcd8d4" text-anchor="middle" textLength="40" lengthAdjust="spacingAndGlyphs">1&#8722;Specificity</text><polyline points="58.60,518.60 60.00,518.60 60.00,492.00 68.00,492.00 68.00,483.00 74.40,483.00 74.40,474.00 76.40,474.00 76.40,456.00 82.40,456.00 82.40,447.00 92.00,447.00 92.00,429.50 95.40,429.50 95.40,420.50 107.40,420.50 107.40,411.50 120.60,411.50 120.60,393.60 183.60,393.60" fill="none" stroke="#14eab4" stroke-width="2.4" stroke-linejoin="miter" stroke-linecap="butt"/><polyline points="58.60,518.60 58.60,497.00 62.40,497.00 62.40,478.00 66.00,478.00 66.00,459.00 70.00,459.00 70.00,428.00 77.00,428.00 77.00,424.40 82.00,424.40 82.00,421.00 90.00,421.00 90.00,410.00 93.60,410.00 93.60,405.80 138.00,405.80 138.00,401.60 161.00,401.60 161.00,398.00 179.00,398.00 179.00,393.60 183.60,393.60" fill="none" stroke="#b000e6" stroke-width="2.4" stroke-linejoin="miter" stroke-linecap="butt"/><polyline points="58.60,518.60 58.60,440.40 65.00,440.40 65.00,435.00 78.40,435.00 78.40,426.00 85.00,426.00 85.00,417.00 91.60,417.00 91.60,413.00 105.00,413.00 105.00,410.00 118.00,410.00 118.00,406.00 124.00,406.00 124.00,400.00 145.00,400.00 145.00,397.00 177.00,397.00 177.00,393.60 183.60,393.60" fill="none" stroke="#be1a00" stroke-width="2.4" stroke-linejoin="miter" stroke-linecap="butt"/><line x1="54.6" y1="523.0" x2="188.4" y2="389.2" stroke="#dcdcdc" stroke-width="1.1" stroke-dasharray="4.9,3.7" stroke-dashoffset="1.1"/><line x1="99.0" y1="496.5" x2="113.0" y2="496.5" stroke="#14eab4" stroke-width="2.5" stroke-linecap="round"/><text x="120.0" y="499.3" font-size="7.8" fill="#e4e0dc" text-anchor="start" textLength="54" lengthAdjust="spacingAndGlyphs">1 year AUC: 0.792</text><line x1="99.0" y1="505.55" x2="113.0" y2="505.55" stroke="#b000e6" stroke-width="2.5" stroke-linecap="round"/><text x="120.0" y="508.35" font-size="7.8" fill="#e4e0dc" text-anchor="start" textLength="57" lengthAdjust="spacingAndGlyphs">3 years AUC: 0.844</text><line x1="99.0" y1="514.6" x2="113.0" y2="514.6" stroke="#be1a00" stroke-width="2.5" stroke-linecap="round"/><text x="120.0" y="517.4" font-size="7.8" fill="#e4e0dc" text-anchor="start" textLength="57" lengthAdjust="spacingAndGlyphs">5 years AUC: 0.872</text><rect x="284.0" y="388.8" width="135.00" height="134.80" fill="none" stroke="#dcd8d4" stroke-width="1.3"/><line x1="279.2" y1="518.6" x2="284.0" y2="518.6" stroke="#dcd8d4" stroke-width="1.2"/><text x="272.8" y="519.3000000000001" font-size="6.5" fill="#dcd8d4" text-anchor="middle" transform="rotate(-90 272.8 519.3000000000001)" textLength="8.9" lengthAdjust="spacingAndGlyphs">0.0</text><line x1="289.0" y1="523.6" x2="289.0" y2="528.6" stroke="#dcd8d4" stroke-width="1.2"/><text x="289.0" y="540.7" font-size="7.3" fill="#dcd8d4" text-anchor="middle" textLength="9.2" lengthAdjust="spacingAndGlyphs">0.0</text><line x1="279.2" y1="493.6" x2="284.0" y2="493.6" stroke="#dcd8d4" stroke-width="1.2"/><text x="272.8" y="494.3" font-size="6.5" fill="#dcd8d4" text-anchor="middle" transform="rotate(-90 272.8 494.3)" textLength="8.9" lengthAdjust="spacingAndGlyphs">0.2</text><line x1="314.0" y1="523.6" x2="314.0" y2="528.6" stroke="#dcd8d4" stroke-width="1.2"/><text x="314.0" y="540.7" font-size="7.3" fill="#dcd8d4" text-anchor="middle" textLength="9.2" lengthAdjust="spacingAndGlyphs">0.2</text><line x1="279.2" y1="468.6" x2="284.0" y2="468.6" stroke="#dcd8d4" stroke-width="1.2"/><text x="272.8" y="469.3" font-size="6.5" fill="#dcd8d4" text-anchor="middle" transform="rotate(-90 272.8 469.3)" textLength="8.9" lengthAdjust="spacingAndGlyphs">0.4</text><line x1="339.0" y1="523.6" x2="339.0" y2="528.6" stroke="#dcd8d4" stroke-width="1.2"/><text x="339.0" y="540.7" font-size="7.3" fill="#dcd8d4" text-anchor="middle" textLength="9.2" lengthAdjust="spacingAndGlyphs">0.4</text><line x1="279.2" y1="443.6" x2="284.0" y2="443.6" stroke="#dcd8d4" stroke-width="1.2"/><text x="272.8" y="444.3" font-size="6.5" fill="#dcd8d4" text-anchor="middle" transform="rotate(-90 272.8 444.3)" textLength="8.9" lengthAdjust="spacingAndGlyphs">0.6</text><line x1="364.0" y1="523.6" x2="364.0" y2="528.6" stroke="#dcd8d4" stroke-width="1.2"/><text x="364.0" y="540.7" font-size="7.3" fill="#dcd8d4" text-anchor="middle" textLength="9.2" lengthAdjust="spacingAndGlyphs">0.6</text><line x1="279.2" y1="418.6" x2="284.0" y2="418.6" stroke="#dcd8d4" stroke-width="1.2"/><text x="272.8" y="419.3" font-size="6.5" fill="#dcd8d4" text-anchor="middle" transform="rotate(-90 272.8 419.3)" textLength="8.9" lengthAdjust="spacingAndGlyphs">0.8</text><line x1="389.0" y1="523.6" x2="389.0" y2="528.6" stroke="#dcd8d4" stroke-width="1.2"/><text x="389.0" y="540.7" font-size="7.3" fill="#dcd8d4" text-anchor="middle" textLength="9.2" lengthAdjust="spacingAndGlyphs">0.8</text><line x1="279.2" y1="393.6" x2="284.0" y2="393.6" stroke="#dcd8d4" stroke-width="1.2"/><text x="272.8" y="394.70000000000005" font-size="6.5" fill="#dcd8d4" text-anchor="middle" transform="rotate(-90 272.8 394.70000000000005)" textLength="7.8" lengthAdjust="spacingAndGlyphs">1.0</text><line x1="414.0" y1="523.6" x2="414.0" y2="528.6" stroke="#dcd8d4" stroke-width="1.2"/><text x="414.0" y="540.7" font-size="7.3" fill="#dcd8d4" text-anchor="middle" textLength="9.2" lengthAdjust="spacingAndGlyphs">1.0</text><text x="255.0" y="457.2" font-size="7.6" fill="#dcd8d4" text-anchor="middle" transform="rotate(-90 255.0 457.2)" textLength="32.5" lengthAdjust="spacingAndGlyphs">Sensitivity</text><text x="350.7" y="559.0" font-size="7.5" fill="#dcd8d4" text-anchor="middle" textLength="40" lengthAdjust="spacingAndGlyphs">1&#8722;Specificity</text><polyline points="289.00,518.60 290.40,518.60 290.40,511.00 293.00,511.00 293.00,507.00 297.00,507.00 297.00,505.00 301.00,505.00 301.00,500.00 303.00,500.00 303.00,497.00 305.00,497.00 305.00,493.00 309.00,493.00 309.00,491.50 311.50,491.50 311.50,489.50 313.40,489.50 313.40,487.00 315.50,487.00 315.50,484.00 317.00,484.00 317.00,482.00 319.00,482.00 319.00,479.00 321.00,479.00 321.00,475.00 323.00,475.00 323.00,472.00 326.00,472.00 326.00,468.00 328.00,468.00 328.00,466.00 331.00,466.00 331.00,464.00 333.00,464.00 333.00,462.00 334.60,462.00 334.60,449.00 338.00,449.00 338.00,446.00 341.00,446.00 341.00,443.00 343.00,443.00 343.00,440.00 345.00,440.00 345.00,437.00 347.00,437.00 347.00,433.00 349.00,433.00 349.00,430.00 350.40,430.00 350.40,427.00 353.00,427.00 353.00,424.00 372.60,424.00 372.60,420.00 374.00,420.00 374.00,414.00 375.60,414.00 375.60,398.00 390.60,398.00 390.60,393.60 414.00,393.60" fill="none" stroke="#14eab4" stroke-width="2.4" stroke-linejoin="miter" stroke-linecap="butt"/><polyline points="289.00,518.60 291.00,518.60 291.00,504.00 293.00,504.00 293.00,498.00 299.00,498.00 299.00,495.60 303.00,495.60 303.00,472.00 305.00,472.00 305.00,469.00 308.00,469.00 308.00,467.00 312.00,467.00 312.00,464.00 316.00,464.00 316.00,461.00 318.00,461.00 318.00,456.00 320.00,456.00 320.00,452.00 324.00,452.00 324.00,450.00 326.00,450.00 326.00,446.00 328.60,446.00 328.60,443.00 331.00,443.00 331.00,440.00 333.00,440.00 333.00,437.00 336.00,437.00 336.00,434.00 338.00,434.00 338.00,431.00 341.00,431.00 341.00,428.00 344.00,428.00 344.00,425.00 347.00,425.00 347.00,423.00 350.00,423.00 350.00,421.00 353.00,421.00 353.00,419.00 356.00,419.00 356.00,417.40 359.00,417.40 359.00,414.00 363.00,414.00 363.00,410.00 365.60,410.00 365.60,406.00 376.60,406.00 376.60,400.00 377.60,400.00 377.60,396.00 387.00,396.00 387.00,393.60 414.00,393.60" fill="none" stroke="#b000e6" stroke-width="2.4" stroke-linejoin="miter" stroke-linecap="butt"/><polyline points="288.40,518.60 288.40,499.60 301.60,499.60 301.60,462.30 314.20,462.30 314.20,461.20 326.60,461.20 326.60,430.40 338.80,430.40 338.80,417.20 351.00,417.20 351.00,412.80 363.60,412.80 363.60,395.40 388.00,395.40 388.00,393.60 414.00,393.60" fill="none" stroke="#be1a00" stroke-width="2.4" stroke-linejoin="miter" stroke-linecap="butt"/><line x1="285.0" y1="523.0" x2="418.8" y2="389.2" stroke="#dcdcdc" stroke-width="1.1" stroke-dasharray="4.9,3.7" stroke-dashoffset="1.1"/><line x1="329.4" y1="496.5" x2="343.4" y2="496.5" stroke="#14eab4" stroke-width="2.5" stroke-linecap="round"/><text x="350.4" y="499.3" font-size="7.8" fill="#e4e0dc" text-anchor="start" textLength="54" lengthAdjust="spacingAndGlyphs">1 year AUC: 0.615</text><line x1="329.4" y1="505.55" x2="343.4" y2="505.55" stroke="#b000e6" stroke-width="2.5" stroke-linecap="round"/><text x="350.4" y="508.35" font-size="7.8" fill="#e4e0dc" text-anchor="start" textLength="57" lengthAdjust="spacingAndGlyphs">3 years AUC: 0.709</text><line x1="329.4" y1="514.6" x2="343.4" y2="514.6" stroke="#be1a00" stroke-width="2.5" stroke-linecap="round"/><text x="350.4" y="517.4" font-size="7.8" fill="#e4e0dc" text-anchor="start" textLength="57" lengthAdjust="spacingAndGlyphs">5 years AUC: 0.739</text><rect x="509.6" y="388.8" width="135.20" height="134.80" fill="none" stroke="#dcd8d4" stroke-width="1.3"/><line x1="504.8" y1="518.6" x2="509.6" y2="518.6" stroke="#dcd8d4" stroke-width="1.2"/><text x="498.40000000000003" y="519.3000000000001" font-size="6.5" fill="#dcd8d4" text-anchor="middle" transform="rotate(-90 498.40000000000003 519.3000000000001)" textLength="8.9" lengthAdjust="spacingAndGlyphs">0.0</text><line x1="514.6" y1="523.6" x2="514.6" y2="528.6" stroke="#dcd8d4" stroke-width="1.2"/><text x="514.6" y="540.7" font-size="7.3" fill="#dcd8d4" text-anchor="middle" textLength="9.2" lengthAdjust="spacingAndGlyphs">0.0</text><line x1="504.8" y1="493.6" x2="509.6" y2="493.6" stroke="#dcd8d4" stroke-width="1.2"/><text x="498.40000000000003" y="494.3" font-size="6.5" fill="#dcd8d4" text-anchor="middle" transform="rotate(-90 498.40000000000003 494.3)" textLength="8.9" lengthAdjust="spacingAndGlyphs">0.2</text><line x1="539.6" y1="523.6" x2="539.6" y2="528.6" stroke="#dcd8d4" stroke-width="1.2"/><text x="539.6" y="540.7" font-size="7.3" fill="#dcd8d4" text-anchor="middle" textLength="9.2" lengthAdjust="spacingAndGlyphs">0.2</text><line x1="504.8" y1="468.6" x2="509.6" y2="468.6" stroke="#dcd8d4" stroke-width="1.2"/><text x="498.40000000000003" y="469.3" font-size="6.5" fill="#dcd8d4" text-anchor="middle" transform="rotate(-90 498.40000000000003 469.3)" textLength="8.9" lengthAdjust="spacingAndGlyphs">0.4</text><line x1="564.6" y1="523.6" x2="564.6" y2="528.6" stroke="#dcd8d4" stroke-width="1.2"/><text x="564.6" y="540.7" font-size="7.3" fill="#dcd8d4" text-anchor="middle" textLength="9.2" lengthAdjust="spacingAndGlyphs">0.4</text><line x1="504.8" y1="443.6" x2="509.6" y2="443.6" stroke="#dcd8d4" stroke-width="1.2"/><text x="498.40000000000003" y="444.3" font-size="6.5" fill="#dcd8d4" text-anchor="middle" transform="rotate(-90 498.40000000000003 444.3)" textLength="8.9" lengthAdjust="spacingAndGlyphs">0.6</text><line x1="589.6" y1="523.6" x2="589.6" y2="528.6" stroke="#dcd8d4" stroke-width="1.2"/><text x="589.6" y="540.7" font-size="7.3" fill="#dcd8d4" text-anchor="middle" textLength="9.2" lengthAdjust="spacingAndGlyphs">0.6</text><line x1="504.8" y1="418.6" x2="509.6" y2="418.6" stroke="#dcd8d4" stroke-width="1.2"/><text x="498.40000000000003" y="419.3" font-size="6.5" fill="#dcd8d4" text-anchor="middle" transform="rotate(-90 498.40000000000003 419.3)" textLength="8.9" lengthAdjust="spacingAndGlyphs">0.8</text><line x1="614.6" y1="523.6" x2="614.6" y2="528.6" stroke="#dcd8d4" stroke-width="1.2"/><text x="614.6" y="540.7" font-size="7.3" fill="#dcd8d4" text-anchor="middle" textLength="9.2" lengthAdjust="spacingAndGlyphs">0.8</text><line x1="504.8" y1="393.6" x2="509.6" y2="393.6" stroke="#dcd8d4" stroke-width="1.2"/><text x="498.40000000000003" y="394.70000000000005" font-size="6.5" fill="#dcd8d4" text-anchor="middle" transform="rotate(-90 498.40000000000003 394.70000000000005)" textLength="7.8" lengthAdjust="spacingAndGlyphs">1.0</text><line x1="639.6" y1="523.6" x2="639.6" y2="528.6" stroke="#dcd8d4" stroke-width="1.2"/><text x="639.6" y="540.7" font-size="7.3" fill="#dcd8d4" text-anchor="middle" textLength="9.2" lengthAdjust="spacingAndGlyphs">1.0</text><text x="480.6" y="457.2" font-size="7.6" fill="#dcd8d4" text-anchor="middle" transform="rotate(-90 480.6 457.2)" textLength="32.5" lengthAdjust="spacingAndGlyphs">Sensitivity</text><text x="576.3000000000001" y="559.0" font-size="7.5" fill="#dcd8d4" text-anchor="middle" textLength="40" lengthAdjust="spacingAndGlyphs">1&#8722;Specificity</text><polyline points="514.60,518.60 541.60,518.60 541.60,493.60 546.60,493.60 546.60,443.80 619.40,443.80 619.40,420.00 640.00,420.00 640.00,393.60" fill="none" stroke="#14eab4" stroke-width="2.4" stroke-linejoin="miter" stroke-linecap="butt"/><polyline points="514.60,518.60 514.60,447.60 546.00,447.60 546.00,440.00 562.00,440.00 562.00,431.00 608.40,431.00 608.40,412.40 640.00,412.40 640.00,393.60" fill="none" stroke="#b000e6" stroke-width="2.4" stroke-linejoin="miter" stroke-linecap="butt"/><polyline points="514.60,518.60 514.60,468.80 577.60,468.80 577.60,418.00 640.00,418.00 640.00,393.60" fill="none" stroke="#be1a00" stroke-width="2.4" stroke-linejoin="miter" stroke-linecap="butt"/><line x1="510.6" y1="523.0" x2="644.4000000000001" y2="389.2" stroke="#dcdcdc" stroke-width="1.1" stroke-dasharray="4.9,3.7" stroke-dashoffset="1.1"/><line x1="555.0" y1="496.5" x2="569.0" y2="496.5" stroke="#14eab4" stroke-width="2.5" stroke-linecap="round"/><text x="576.0" y="499.3" font-size="7.8" fill="#e4e0dc" text-anchor="start" textLength="54" lengthAdjust="spacingAndGlyphs">1 year AUC: 0.492</text><line x1="555.0" y1="505.55" x2="569.0" y2="505.55" stroke="#b000e6" stroke-width="2.5" stroke-linecap="round"/><text x="576.0" y="508.35" font-size="7.8" fill="#e4e0dc" text-anchor="start" textLength="57" lengthAdjust="spacingAndGlyphs">3 years AUC: 0.695</text><line x1="555.0" y1="514.6" x2="569.0" y2="514.6" stroke="#be1a00" stroke-width="2.5" stroke-linecap="round"/><text x="576.0" y="517.4" font-size="7.8" fill="#e4e0dc" text-anchor="start" textLength="57" lengthAdjust="spacingAndGlyphs">5 years AUC: 0.600</text></svg></body></html>
